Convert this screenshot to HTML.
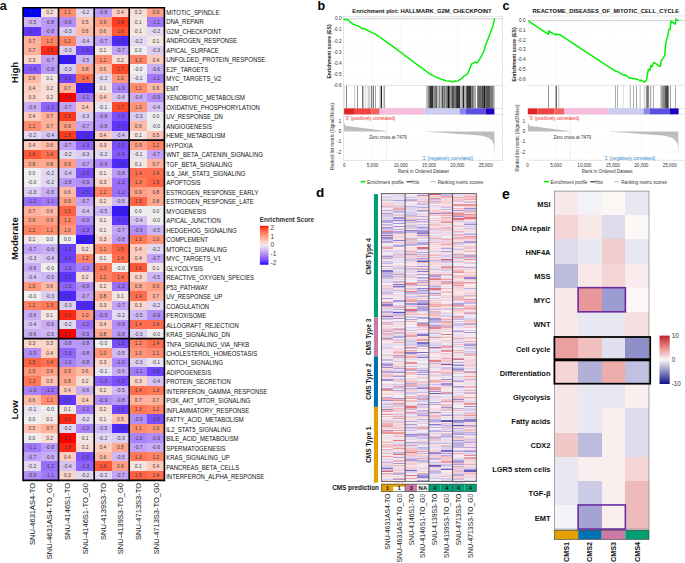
<!DOCTYPE html><html><head><meta charset="utf-8"><style>html,body{margin:0;padding:0;background:#fff;overflow:hidden}svg{display:block}</style></head><body><svg width="685" height="563" viewBox="0 0 685 563" font-family="'Liberation Sans', sans-serif">
<rect x="0" y="0" width="685" height="563" fill="#ffffff"/>
<g shape-rendering="crispEdges">
<rect x="23.07" y="7.75" width="18.03" height="9.75" fill="#0000ff"/>
<rect x="40.80" y="7.75" width="18.04" height="9.75" fill="#f7ddd6"/>
<rect x="58.54" y="7.75" width="17.82" height="9.75" fill="#ff8c6f"/>
<rect x="76.06" y="7.75" width="18.43" height="9.75" fill="#e2d8f1"/>
<rect x="94.19" y="7.75" width="17.81" height="9.75" fill="#ba99f8"/>
<rect x="111.70" y="7.75" width="17.80" height="9.75" fill="#feccbe"/>
<rect x="129.20" y="7.75" width="18.40" height="9.75" fill="#f7ddd6"/>
<rect x="147.30" y="7.75" width="17.40" height="9.75" fill="#ff9f85"/>
<rect x="23.07" y="17.20" width="18.03" height="9.75" fill="#cfb8f5"/>
<rect x="40.80" y="17.20" width="18.04" height="9.75" fill="#ba99f8"/>
<rect x="58.54" y="17.20" width="17.82" height="9.75" fill="#b38ef9"/>
<rect x="76.06" y="17.20" width="18.43" height="9.75" fill="#ffc3b3"/>
<rect x="94.19" y="17.20" width="17.81" height="9.75" fill="#ff9f85"/>
<rect x="111.70" y="17.20" width="17.80" height="9.75" fill="#ff3c20"/>
<rect x="129.20" y="17.20" width="18.40" height="9.75" fill="#f3e5e2"/>
<rect x="147.30" y="17.20" width="17.40" height="9.75" fill="#a279fa"/>
<rect x="23.07" y="26.66" width="18.03" height="9.75" fill="#5f36fe"/>
<rect x="40.80" y="26.66" width="18.04" height="9.75" fill="#ba99f8"/>
<rect x="58.54" y="26.66" width="17.82" height="9.75" fill="#dccef2"/>
<rect x="76.06" y="26.66" width="18.43" height="9.75" fill="#ffbaa7"/>
<rect x="94.19" y="26.66" width="17.81" height="9.75" fill="#ffbaa7"/>
<rect x="111.70" y="26.66" width="17.80" height="9.75" fill="#ff5837"/>
<rect x="129.20" y="26.66" width="18.40" height="9.75" fill="#f3e5e2"/>
<rect x="147.30" y="26.66" width="17.40" height="9.75" fill="#e2d8f1"/>
<rect x="23.07" y="36.11" width="18.03" height="9.75" fill="#ffb19c"/>
<rect x="40.80" y="36.11" width="18.04" height="9.75" fill="#ff8364"/>
<rect x="58.54" y="36.11" width="17.82" height="9.75" fill="#ff8364"/>
<rect x="76.06" y="36.11" width="18.43" height="9.75" fill="#d6c3f4"/>
<rect x="94.19" y="36.11" width="17.81" height="9.75" fill="#c2a3f7"/>
<rect x="111.70" y="36.11" width="17.80" height="9.75" fill="#4d29fe"/>
<rect x="129.20" y="36.11" width="18.40" height="9.75" fill="#e2d8f1"/>
<rect x="147.30" y="36.11" width="17.40" height="9.75" fill="#f3e5e2"/>
<rect x="23.07" y="45.56" width="18.03" height="9.75" fill="#ffb19c"/>
<rect x="40.80" y="45.56" width="18.04" height="9.75" fill="#ff2812"/>
<rect x="58.54" y="45.56" width="17.82" height="9.75" fill="#dccef2"/>
<rect x="76.06" y="45.56" width="18.43" height="9.75" fill="#6d42fd"/>
<rect x="94.19" y="45.56" width="17.81" height="9.75" fill="#f3e5e2"/>
<rect x="111.70" y="45.56" width="17.80" height="9.75" fill="#c2a3f7"/>
<rect x="129.20" y="45.56" width="18.40" height="9.75" fill="#eeeeee"/>
<rect x="147.30" y="45.56" width="17.40" height="9.75" fill="#dccef2"/>
<rect x="23.07" y="55.02" width="18.03" height="9.75" fill="#fbd4ca"/>
<rect x="40.80" y="55.02" width="18.04" height="9.75" fill="#c2a3f7"/>
<rect x="58.54" y="55.02" width="17.82" height="9.75" fill="#3619ff"/>
<rect x="76.06" y="55.02" width="18.43" height="9.75" fill="#cfb8f5"/>
<rect x="94.19" y="55.02" width="17.81" height="9.75" fill="#ff8c6f"/>
<rect x="111.70" y="55.02" width="17.80" height="9.75" fill="#f7ddd6"/>
<rect x="129.20" y="55.02" width="18.40" height="9.75" fill="#ff8364"/>
<rect x="147.30" y="55.02" width="17.40" height="9.75" fill="#feccbe"/>
<rect x="23.07" y="64.47" width="18.03" height="9.75" fill="#8559fc"/>
<rect x="40.80" y="64.47" width="18.04" height="9.75" fill="#ba99f8"/>
<rect x="58.54" y="64.47" width="17.82" height="9.75" fill="#dccef2"/>
<rect x="76.06" y="64.47" width="18.43" height="9.75" fill="#ffa890"/>
<rect x="94.19" y="64.47" width="17.81" height="9.75" fill="#ffbaa7"/>
<rect x="111.70" y="64.47" width="17.80" height="9.75" fill="#ff4b2c"/>
<rect x="129.20" y="64.47" width="18.40" height="9.75" fill="#eeeeee"/>
<rect x="147.30" y="64.47" width="17.40" height="9.75" fill="#c9aef6"/>
<rect x="23.07" y="73.92" width="18.03" height="9.75" fill="#ffbaa7"/>
<rect x="40.80" y="73.92" width="18.04" height="9.75" fill="#f3e5e2"/>
<rect x="58.54" y="73.92" width="17.82" height="9.75" fill="#6d42fd"/>
<rect x="76.06" y="73.92" width="18.43" height="9.75" fill="#ff6e4e"/>
<rect x="94.19" y="73.92" width="17.81" height="9.75" fill="#e2d8f1"/>
<rect x="111.70" y="73.92" width="17.80" height="9.75" fill="#ff967a"/>
<rect x="129.20" y="73.92" width="18.40" height="9.75" fill="#e8e3f0"/>
<rect x="147.30" y="73.92" width="17.40" height="9.75" fill="#a279fa"/>
<rect x="23.07" y="83.37" width="18.03" height="9.75" fill="#feccbe"/>
<rect x="40.80" y="83.37" width="18.04" height="9.75" fill="#f7ddd6"/>
<rect x="58.54" y="83.37" width="17.82" height="9.75" fill="#ffb19c"/>
<rect x="76.06" y="83.37" width="18.43" height="9.75" fill="#3619ff"/>
<rect x="94.19" y="83.37" width="17.81" height="9.75" fill="#f3e5e2"/>
<rect x="111.70" y="83.37" width="17.80" height="9.75" fill="#aa83fa"/>
<rect x="129.20" y="83.37" width="18.40" height="9.75" fill="#ff8c6f"/>
<rect x="147.30" y="83.37" width="17.40" height="9.75" fill="#ffbaa7"/>
<rect x="23.07" y="92.83" width="18.03" height="9.75" fill="#fbd4ca"/>
<rect x="40.80" y="92.83" width="18.04" height="9.75" fill="#f7ddd6"/>
<rect x="58.54" y="92.83" width="17.82" height="9.75" fill="#ff0000"/>
<rect x="76.06" y="92.83" width="18.43" height="9.75" fill="#a279fa"/>
<rect x="94.19" y="92.83" width="17.81" height="9.75" fill="#feccbe"/>
<rect x="111.70" y="92.83" width="17.80" height="9.75" fill="#d6c3f4"/>
<rect x="129.20" y="92.83" width="18.40" height="9.75" fill="#c9aef6"/>
<rect x="147.30" y="92.83" width="17.40" height="9.75" fill="#b38ef9"/>
<rect x="23.07" y="102.28" width="18.03" height="9.75" fill="#c9aef6"/>
<rect x="40.80" y="102.28" width="18.04" height="9.75" fill="#8f64fc"/>
<rect x="58.54" y="102.28" width="17.82" height="9.75" fill="#c2a3f7"/>
<rect x="76.06" y="102.28" width="18.43" height="9.75" fill="#feccbe"/>
<rect x="94.19" y="102.28" width="17.81" height="9.75" fill="#e8e3f0"/>
<rect x="111.70" y="102.28" width="17.80" height="9.75" fill="#ff4b2c"/>
<rect x="129.20" y="102.28" width="18.40" height="9.75" fill="#ff967a"/>
<rect x="147.30" y="102.28" width="17.40" height="9.75" fill="#d6c3f4"/>
<rect x="23.07" y="111.73" width="18.03" height="9.75" fill="#feccbe"/>
<rect x="40.80" y="111.73" width="18.04" height="9.75" fill="#ffb19c"/>
<rect x="58.54" y="111.73" width="17.82" height="9.75" fill="#ff3c20"/>
<rect x="76.06" y="111.73" width="18.43" height="9.75" fill="#dccef2"/>
<rect x="94.19" y="111.73" width="17.81" height="9.75" fill="#ba99f8"/>
<rect x="111.70" y="111.73" width="17.80" height="9.75" fill="#7a4efd"/>
<rect x="129.20" y="111.73" width="18.40" height="9.75" fill="#dccef2"/>
<rect x="147.30" y="111.73" width="17.40" height="9.75" fill="#eeeeee"/>
<rect x="23.07" y="121.19" width="18.03" height="9.75" fill="#ff8c6f"/>
<rect x="40.80" y="121.19" width="18.04" height="9.75" fill="#ffb19c"/>
<rect x="58.54" y="121.19" width="17.82" height="9.75" fill="#ff9f85"/>
<rect x="76.06" y="121.19" width="18.43" height="9.75" fill="#c2a3f7"/>
<rect x="94.19" y="121.19" width="17.81" height="9.75" fill="#ba99f8"/>
<rect x="111.70" y="121.19" width="17.80" height="9.75" fill="#5f36fe"/>
<rect x="129.20" y="121.19" width="18.40" height="9.75" fill="#ffbaa7"/>
<rect x="147.30" y="121.19" width="17.40" height="9.75" fill="#eeeeee"/>
<rect x="23.07" y="130.64" width="18.03" height="9.75" fill="#e2d8f1"/>
<rect x="40.80" y="130.64" width="18.04" height="9.75" fill="#d6c3f4"/>
<rect x="58.54" y="130.64" width="17.82" height="9.75" fill="#ff3c20"/>
<rect x="76.06" y="130.64" width="18.43" height="9.75" fill="#4d29fe"/>
<rect x="94.19" y="130.64" width="17.81" height="9.75" fill="#feccbe"/>
<rect x="111.70" y="130.64" width="17.80" height="9.75" fill="#d6c3f4"/>
<rect x="129.20" y="130.64" width="18.40" height="9.75" fill="#f3e5e2"/>
<rect x="147.30" y="130.64" width="17.40" height="9.75" fill="#ffc3b3"/>
<rect x="23.07" y="140.09" width="18.03" height="9.75" fill="#feccbe"/>
<rect x="40.80" y="140.09" width="18.04" height="9.75" fill="#ffbaa7"/>
<rect x="58.54" y="140.09" width="17.82" height="9.75" fill="#c2a3f7"/>
<rect x="76.06" y="140.09" width="18.43" height="9.75" fill="#8f64fc"/>
<rect x="94.19" y="140.09" width="17.81" height="9.75" fill="#fbd4ca"/>
<rect x="111.70" y="140.09" width="17.80" height="9.75" fill="#7a4efd"/>
<rect x="129.20" y="140.09" width="18.40" height="9.75" fill="#ff9f85"/>
<rect x="147.30" y="140.09" width="17.40" height="9.75" fill="#ff8364"/>
<rect x="23.07" y="149.54" width="18.03" height="9.75" fill="#ff5837"/>
<rect x="40.80" y="149.54" width="18.04" height="9.75" fill="#ff6e4e"/>
<rect x="58.54" y="149.54" width="17.82" height="9.75" fill="#e2d8f1"/>
<rect x="76.06" y="149.54" width="18.43" height="9.75" fill="#dccef2"/>
<rect x="94.19" y="149.54" width="17.81" height="9.75" fill="#e2d8f1"/>
<rect x="111.70" y="149.54" width="17.80" height="9.75" fill="#8559fc"/>
<rect x="129.20" y="149.54" width="18.40" height="9.75" fill="#e8e3f0"/>
<rect x="147.30" y="149.54" width="17.40" height="9.75" fill="#c2a3f7"/>
<rect x="23.07" y="159.00" width="18.03" height="9.75" fill="#ffa890"/>
<rect x="40.80" y="159.00" width="18.04" height="9.75" fill="#ffa890"/>
<rect x="58.54" y="159.00" width="17.82" height="9.75" fill="#ff9f85"/>
<rect x="76.06" y="159.00" width="18.43" height="9.75" fill="#c2a3f7"/>
<rect x="94.19" y="159.00" width="17.81" height="9.75" fill="#b38ef9"/>
<rect x="111.70" y="159.00" width="17.80" height="9.75" fill="#4d29fe"/>
<rect x="129.20" y="159.00" width="18.40" height="9.75" fill="#f3e5e2"/>
<rect x="147.30" y="159.00" width="17.40" height="9.75" fill="#ffb19c"/>
<rect x="23.07" y="168.45" width="18.03" height="9.75" fill="#eeeeee"/>
<rect x="40.80" y="168.45" width="18.04" height="9.75" fill="#e2d8f1"/>
<rect x="58.54" y="168.45" width="17.82" height="9.75" fill="#d6c3f4"/>
<rect x="76.06" y="168.45" width="18.43" height="9.75" fill="#7a4efd"/>
<rect x="94.19" y="168.45" width="17.81" height="9.75" fill="#f3e5e2"/>
<rect x="111.70" y="168.45" width="17.80" height="9.75" fill="#ba99f8"/>
<rect x="129.20" y="168.45" width="18.40" height="9.75" fill="#ff6e4e"/>
<rect x="147.30" y="168.45" width="17.40" height="9.75" fill="#ff6e4e"/>
<rect x="23.07" y="177.90" width="18.03" height="9.75" fill="#eeeeee"/>
<rect x="40.80" y="177.90" width="18.04" height="9.75" fill="#e2d8f1"/>
<rect x="58.54" y="177.90" width="17.82" height="9.75" fill="#ba99f8"/>
<rect x="76.06" y="177.90" width="18.43" height="9.75" fill="#b38ef9"/>
<rect x="94.19" y="177.90" width="17.81" height="9.75" fill="#fbd4ca"/>
<rect x="111.70" y="177.90" width="17.80" height="9.75" fill="#996efb"/>
<rect x="129.20" y="177.90" width="18.40" height="9.75" fill="#ff7959"/>
<rect x="147.30" y="177.90" width="17.40" height="9.75" fill="#ff6343"/>
<rect x="23.07" y="187.36" width="18.03" height="9.75" fill="#dccef2"/>
<rect x="40.80" y="187.36" width="18.04" height="9.75" fill="#c9aef6"/>
<rect x="58.54" y="187.36" width="17.82" height="9.75" fill="#ffbaa7"/>
<rect x="76.06" y="187.36" width="18.43" height="9.75" fill="#6d42fd"/>
<rect x="94.19" y="187.36" width="17.81" height="9.75" fill="#ff8364"/>
<rect x="111.70" y="187.36" width="17.80" height="9.75" fill="#996efb"/>
<rect x="129.20" y="187.36" width="18.40" height="9.75" fill="#ff9f85"/>
<rect x="147.30" y="187.36" width="17.40" height="9.75" fill="#ffa890"/>
<rect x="23.07" y="196.81" width="18.03" height="9.75" fill="#996efb"/>
<rect x="40.80" y="196.81" width="18.04" height="9.75" fill="#a279fa"/>
<rect x="58.54" y="196.81" width="17.82" height="9.75" fill="#ff9f85"/>
<rect x="76.06" y="196.81" width="18.43" height="9.75" fill="#c2a3f7"/>
<rect x="94.19" y="196.81" width="17.81" height="9.75" fill="#f7ddd6"/>
<rect x="111.70" y="196.81" width="17.80" height="9.75" fill="#cfb8f5"/>
<rect x="129.20" y="196.81" width="18.40" height="9.75" fill="#ff6343"/>
<rect x="147.30" y="196.81" width="17.40" height="9.75" fill="#ffa890"/>
<rect x="23.07" y="206.26" width="18.03" height="9.75" fill="#ffb19c"/>
<rect x="40.80" y="206.26" width="18.04" height="9.75" fill="#ffbaa7"/>
<rect x="58.54" y="206.26" width="17.82" height="9.75" fill="#ff6343"/>
<rect x="76.06" y="206.26" width="18.43" height="9.75" fill="#d6c3f4"/>
<rect x="94.19" y="206.26" width="17.81" height="9.75" fill="#cfb8f5"/>
<rect x="111.70" y="206.26" width="17.80" height="9.75" fill="#3619ff"/>
<rect x="129.20" y="206.26" width="18.40" height="9.75" fill="#eeeeee"/>
<rect x="147.30" y="206.26" width="17.40" height="9.75" fill="#eeeeee"/>
<rect x="23.07" y="215.72" width="18.03" height="9.75" fill="#ff9f85"/>
<rect x="40.80" y="215.72" width="18.04" height="9.75" fill="#ff9f85"/>
<rect x="58.54" y="215.72" width="17.82" height="9.75" fill="#ff8364"/>
<rect x="76.06" y="215.72" width="18.43" height="9.75" fill="#b38ef9"/>
<rect x="94.19" y="215.72" width="17.81" height="9.75" fill="#f3e5e2"/>
<rect x="111.70" y="215.72" width="17.80" height="9.75" fill="#5f36fe"/>
<rect x="129.20" y="215.72" width="18.40" height="9.75" fill="#d6c3f4"/>
<rect x="147.30" y="215.72" width="17.40" height="9.75" fill="#eeeeee"/>
<rect x="23.07" y="225.17" width="18.03" height="9.75" fill="#ff8364"/>
<rect x="40.80" y="225.17" width="18.04" height="9.75" fill="#ff8c6f"/>
<rect x="58.54" y="225.17" width="17.82" height="9.75" fill="#ff967a"/>
<rect x="76.06" y="225.17" width="18.43" height="9.75" fill="#8f64fc"/>
<rect x="94.19" y="225.17" width="17.81" height="9.75" fill="#f3e5e2"/>
<rect x="111.70" y="225.17" width="17.80" height="9.75" fill="#c2a3f7"/>
<rect x="129.20" y="225.17" width="18.40" height="9.75" fill="#b38ef9"/>
<rect x="147.30" y="225.17" width="17.40" height="9.75" fill="#cfb8f5"/>
<rect x="23.07" y="234.62" width="18.03" height="9.75" fill="#f3e5e2"/>
<rect x="40.80" y="234.62" width="18.04" height="9.75" fill="#eeeeee"/>
<rect x="58.54" y="234.62" width="17.82" height="9.75" fill="#eeeeee"/>
<rect x="76.06" y="234.62" width="18.43" height="9.75" fill="#3619ff"/>
<rect x="94.19" y="234.62" width="17.81" height="9.75" fill="#fbd4ca"/>
<rect x="111.70" y="234.62" width="17.80" height="9.75" fill="#ba99f8"/>
<rect x="129.20" y="234.62" width="18.40" height="9.75" fill="#ff7959"/>
<rect x="147.30" y="234.62" width="17.40" height="9.75" fill="#ff967a"/>
<rect x="23.07" y="244.07" width="18.03" height="9.75" fill="#c2a3f7"/>
<rect x="40.80" y="244.07" width="18.04" height="9.75" fill="#c9aef6"/>
<rect x="58.54" y="244.07" width="17.82" height="9.75" fill="#6d42fd"/>
<rect x="76.06" y="244.07" width="18.43" height="9.75" fill="#f7ddd6"/>
<rect x="94.19" y="244.07" width="17.81" height="9.75" fill="#ff8c6f"/>
<rect x="111.70" y="244.07" width="17.80" height="9.75" fill="#ff6343"/>
<rect x="129.20" y="244.07" width="18.40" height="9.75" fill="#feccbe"/>
<rect x="147.30" y="244.07" width="17.40" height="9.75" fill="#e2d8f1"/>
<rect x="23.07" y="253.53" width="18.03" height="9.75" fill="#dccef2"/>
<rect x="40.80" y="253.53" width="18.04" height="9.75" fill="#d6c3f4"/>
<rect x="58.54" y="253.53" width="17.82" height="9.75" fill="#6d42fd"/>
<rect x="76.06" y="253.53" width="18.43" height="9.75" fill="#ff8364"/>
<rect x="94.19" y="253.53" width="17.81" height="9.75" fill="#f3e5e2"/>
<rect x="111.70" y="253.53" width="17.80" height="9.75" fill="#ff6e4e"/>
<rect x="129.20" y="253.53" width="18.40" height="9.75" fill="#feccbe"/>
<rect x="147.30" y="253.53" width="17.40" height="9.75" fill="#c2a3f7"/>
<rect x="23.07" y="262.98" width="18.03" height="9.75" fill="#c9aef6"/>
<rect x="40.80" y="262.98" width="18.04" height="9.75" fill="#eeeeee"/>
<rect x="58.54" y="262.98" width="17.82" height="9.75" fill="#8f64fc"/>
<rect x="76.06" y="262.98" width="18.43" height="9.75" fill="#aa83fa"/>
<rect x="94.19" y="262.98" width="17.81" height="9.75" fill="#ff7959"/>
<rect x="111.70" y="262.98" width="17.80" height="9.75" fill="#eeeeee"/>
<rect x="129.20" y="262.98" width="18.40" height="9.75" fill="#ff5837"/>
<rect x="147.30" y="262.98" width="17.40" height="9.75" fill="#f3e5e2"/>
<rect x="23.07" y="272.43" width="18.03" height="9.75" fill="#d6c3f4"/>
<rect x="40.80" y="272.43" width="18.04" height="9.75" fill="#cfb8f5"/>
<rect x="58.54" y="272.43" width="17.82" height="9.75" fill="#5f36fe"/>
<rect x="76.06" y="272.43" width="18.43" height="9.75" fill="#f7ddd6"/>
<rect x="94.19" y="272.43" width="17.81" height="9.75" fill="#ff8364"/>
<rect x="111.70" y="272.43" width="17.80" height="9.75" fill="#ff6e4e"/>
<rect x="129.20" y="272.43" width="18.40" height="9.75" fill="#fbd4ca"/>
<rect x="147.30" y="272.43" width="17.40" height="9.75" fill="#cfb8f5"/>
<rect x="23.07" y="281.89" width="18.03" height="9.75" fill="#ff967a"/>
<rect x="40.80" y="281.89" width="18.04" height="9.75" fill="#ffbaa7"/>
<rect x="58.54" y="281.89" width="17.82" height="9.75" fill="#8f64fc"/>
<rect x="76.06" y="281.89" width="18.43" height="9.75" fill="#b38ef9"/>
<rect x="94.19" y="281.89" width="17.81" height="9.75" fill="#f7ddd6"/>
<rect x="111.70" y="281.89" width="17.80" height="9.75" fill="#996efb"/>
<rect x="129.20" y="281.89" width="18.40" height="9.75" fill="#ffa890"/>
<rect x="147.30" y="281.89" width="17.40" height="9.75" fill="#ff9f85"/>
<rect x="23.07" y="291.34" width="18.03" height="9.75" fill="#eeeeee"/>
<rect x="40.80" y="291.34" width="18.04" height="9.75" fill="#dccef2"/>
<rect x="58.54" y="291.34" width="17.82" height="9.75" fill="#4d29fe"/>
<rect x="76.06" y="291.34" width="18.43" height="9.75" fill="#c2a3f7"/>
<rect x="94.19" y="291.34" width="17.81" height="9.75" fill="#ffa890"/>
<rect x="111.70" y="291.34" width="17.80" height="9.75" fill="#f3e5e2"/>
<rect x="129.20" y="291.34" width="18.40" height="9.75" fill="#ff6e4e"/>
<rect x="147.30" y="291.34" width="17.40" height="9.75" fill="#ffb19c"/>
<rect x="23.07" y="300.79" width="18.03" height="9.75" fill="#ff8364"/>
<rect x="40.80" y="300.79" width="18.04" height="9.75" fill="#ff7959"/>
<rect x="58.54" y="300.79" width="17.82" height="9.75" fill="#dccef2"/>
<rect x="76.06" y="300.79" width="18.43" height="9.75" fill="#4d29fe"/>
<rect x="94.19" y="300.79" width="17.81" height="9.75" fill="#fbd4ca"/>
<rect x="111.70" y="300.79" width="17.80" height="9.75" fill="#c2a3f7"/>
<rect x="129.20" y="300.79" width="18.40" height="9.75" fill="#fbd4ca"/>
<rect x="147.30" y="300.79" width="17.40" height="9.75" fill="#e2d8f1"/>
<rect x="23.07" y="310.25" width="18.03" height="9.75" fill="#c9aef6"/>
<rect x="40.80" y="310.25" width="18.04" height="9.75" fill="#f3e5e2"/>
<rect x="58.54" y="310.25" width="17.82" height="9.75" fill="#ff2812"/>
<rect x="76.06" y="310.25" width="18.43" height="9.75" fill="#ff967a"/>
<rect x="94.19" y="310.25" width="17.81" height="9.75" fill="#b38ef9"/>
<rect x="111.70" y="310.25" width="17.80" height="9.75" fill="#e2d8f1"/>
<rect x="129.20" y="310.25" width="18.40" height="9.75" fill="#cfb8f5"/>
<rect x="147.30" y="310.25" width="17.40" height="9.75" fill="#b38ef9"/>
<rect x="23.07" y="319.70" width="18.03" height="9.75" fill="#d6c3f4"/>
<rect x="40.80" y="319.70" width="18.04" height="9.75" fill="#c9aef6"/>
<rect x="58.54" y="319.70" width="17.82" height="9.75" fill="#e2d8f1"/>
<rect x="76.06" y="319.70" width="18.43" height="9.75" fill="#996efb"/>
<rect x="94.19" y="319.70" width="17.81" height="9.75" fill="#feccbe"/>
<rect x="111.70" y="319.70" width="17.80" height="9.75" fill="#b38ef9"/>
<rect x="129.20" y="319.70" width="18.40" height="9.75" fill="#ff6e4e"/>
<rect x="147.30" y="319.70" width="17.40" height="9.75" fill="#ff6e4e"/>
<rect x="23.07" y="329.15" width="18.03" height="9.75" fill="#c9aef6"/>
<rect x="40.80" y="329.15" width="18.04" height="9.75" fill="#cfb8f5"/>
<rect x="58.54" y="329.15" width="17.82" height="9.75" fill="#ff0000"/>
<rect x="76.06" y="329.15" width="18.43" height="9.75" fill="#b38ef9"/>
<rect x="94.19" y="329.15" width="17.81" height="9.75" fill="#ffa890"/>
<rect x="111.70" y="329.15" width="17.80" height="9.75" fill="#ba99f8"/>
<rect x="129.20" y="329.15" width="18.40" height="9.75" fill="#dccef2"/>
<rect x="147.30" y="329.15" width="17.40" height="9.75" fill="#eeeeee"/>
<rect x="23.07" y="338.60" width="18.03" height="9.75" fill="#fbd4ca"/>
<rect x="40.80" y="338.60" width="18.04" height="9.75" fill="#fbd4ca"/>
<rect x="58.54" y="338.60" width="17.82" height="9.75" fill="#ba99f8"/>
<rect x="76.06" y="338.60" width="18.43" height="9.75" fill="#ba99f8"/>
<rect x="94.19" y="338.60" width="17.81" height="9.75" fill="#eeeeee"/>
<rect x="111.70" y="338.60" width="17.80" height="9.75" fill="#7a4efd"/>
<rect x="129.20" y="338.60" width="18.40" height="9.75" fill="#ff8364"/>
<rect x="147.30" y="338.60" width="17.40" height="9.75" fill="#ff6e4e"/>
<rect x="23.07" y="348.06" width="18.03" height="9.75" fill="#b38ef9"/>
<rect x="40.80" y="348.06" width="18.04" height="9.75" fill="#feccbe"/>
<rect x="58.54" y="348.06" width="17.82" height="9.75" fill="#8f64fc"/>
<rect x="76.06" y="348.06" width="18.43" height="9.75" fill="#ba99f8"/>
<rect x="94.19" y="348.06" width="17.81" height="9.75" fill="#ff967a"/>
<rect x="111.70" y="348.06" width="17.80" height="9.75" fill="#cfb8f5"/>
<rect x="129.20" y="348.06" width="18.40" height="9.75" fill="#ff967a"/>
<rect x="147.30" y="348.06" width="17.40" height="9.75" fill="#ff8c6f"/>
<rect x="23.07" y="357.51" width="18.03" height="9.75" fill="#ff6343"/>
<rect x="40.80" y="357.51" width="18.04" height="9.75" fill="#ff6e4e"/>
<rect x="58.54" y="357.51" width="17.82" height="9.75" fill="#aa83fa"/>
<rect x="76.06" y="357.51" width="18.43" height="9.75" fill="#ba99f8"/>
<rect x="94.19" y="357.51" width="17.81" height="9.75" fill="#fbd4ca"/>
<rect x="111.70" y="357.51" width="17.80" height="9.75" fill="#aa83fa"/>
<rect x="129.20" y="357.51" width="18.40" height="9.75" fill="#dccef2"/>
<rect x="147.30" y="357.51" width="17.40" height="9.75" fill="#e8e3f0"/>
<rect x="23.07" y="366.96" width="18.03" height="9.75" fill="#ff967a"/>
<rect x="40.80" y="366.96" width="18.04" height="9.75" fill="#ff9f85"/>
<rect x="58.54" y="366.96" width="17.82" height="9.75" fill="#ff9f85"/>
<rect x="76.06" y="366.96" width="18.43" height="9.75" fill="#ffbaa7"/>
<rect x="94.19" y="366.96" width="17.81" height="9.75" fill="#e8e3f0"/>
<rect x="111.70" y="366.96" width="17.80" height="9.75" fill="#c9aef6"/>
<rect x="129.20" y="366.96" width="18.40" height="9.75" fill="#a279fa"/>
<rect x="147.30" y="366.96" width="17.40" height="9.75" fill="#6d42fd"/>
<rect x="23.07" y="376.42" width="18.03" height="9.75" fill="#ff7959"/>
<rect x="40.80" y="376.42" width="18.04" height="9.75" fill="#ffc3b3"/>
<rect x="58.54" y="376.42" width="17.82" height="9.75" fill="#ffa890"/>
<rect x="76.06" y="376.42" width="18.43" height="9.75" fill="#f7ddd6"/>
<rect x="94.19" y="376.42" width="17.81" height="9.75" fill="#8f64fc"/>
<rect x="111.70" y="376.42" width="17.80" height="9.75" fill="#7a4efd"/>
<rect x="129.20" y="376.42" width="18.40" height="9.75" fill="#fbd4ca"/>
<rect x="147.30" y="376.42" width="17.40" height="9.75" fill="#d6c3f4"/>
<rect x="23.07" y="385.87" width="18.03" height="9.75" fill="#aa83fa"/>
<rect x="40.80" y="385.87" width="18.04" height="9.75" fill="#996efb"/>
<rect x="58.54" y="385.87" width="17.82" height="9.75" fill="#feccbe"/>
<rect x="76.06" y="385.87" width="18.43" height="9.75" fill="#c9aef6"/>
<rect x="94.19" y="385.87" width="17.81" height="9.75" fill="#f7ddd6"/>
<rect x="111.70" y="385.87" width="17.80" height="9.75" fill="#cfb8f5"/>
<rect x="129.20" y="385.87" width="18.40" height="9.75" fill="#ff6e4e"/>
<rect x="147.30" y="385.87" width="17.40" height="9.75" fill="#ff7959"/>
<rect x="23.07" y="395.32" width="18.03" height="9.75" fill="#ffbaa7"/>
<rect x="40.80" y="395.32" width="18.04" height="9.75" fill="#ff8c6f"/>
<rect x="58.54" y="395.32" width="17.82" height="9.75" fill="#5f36fe"/>
<rect x="76.06" y="395.32" width="18.43" height="9.75" fill="#feccbe"/>
<rect x="94.19" y="395.32" width="17.81" height="9.75" fill="#b38ef9"/>
<rect x="111.70" y="395.32" width="17.80" height="9.75" fill="#ba99f8"/>
<rect x="129.20" y="395.32" width="18.40" height="9.75" fill="#ffb19c"/>
<rect x="147.30" y="395.32" width="17.40" height="9.75" fill="#ffb19c"/>
<rect x="23.07" y="404.78" width="18.03" height="9.75" fill="#e8e3f0"/>
<rect x="40.80" y="404.78" width="18.04" height="9.75" fill="#eeeeee"/>
<rect x="58.54" y="404.78" width="17.82" height="9.75" fill="#f3e5e2"/>
<rect x="76.06" y="404.78" width="18.43" height="9.75" fill="#a279fa"/>
<rect x="94.19" y="404.78" width="17.81" height="9.75" fill="#f7ddd6"/>
<rect x="111.70" y="404.78" width="17.80" height="9.75" fill="#6d42fd"/>
<rect x="129.20" y="404.78" width="18.40" height="9.75" fill="#ff7959"/>
<rect x="147.30" y="404.78" width="17.40" height="9.75" fill="#ff8364"/>
<rect x="23.07" y="414.23" width="18.03" height="9.75" fill="#eeeeee"/>
<rect x="40.80" y="414.23" width="18.04" height="9.75" fill="#f3e5e2"/>
<rect x="58.54" y="414.23" width="17.82" height="9.75" fill="#ff2812"/>
<rect x="76.06" y="414.23" width="18.43" height="9.75" fill="#e2d8f1"/>
<rect x="94.19" y="414.23" width="17.81" height="9.75" fill="#f3e5e2"/>
<rect x="111.70" y="414.23" width="17.80" height="9.75" fill="#ffc3b3"/>
<rect x="129.20" y="414.23" width="18.40" height="9.75" fill="#b38ef9"/>
<rect x="147.30" y="414.23" width="17.40" height="9.75" fill="#7a4efd"/>
<rect x="23.07" y="423.68" width="18.03" height="9.75" fill="#ffc3b3"/>
<rect x="40.80" y="423.68" width="18.04" height="9.75" fill="#ffb19c"/>
<rect x="58.54" y="423.68" width="17.82" height="9.75" fill="#e2d8f1"/>
<rect x="76.06" y="423.68" width="18.43" height="9.75" fill="#aa83fa"/>
<rect x="94.19" y="423.68" width="17.81" height="9.75" fill="#cfb8f5"/>
<rect x="111.70" y="423.68" width="17.80" height="9.75" fill="#4d29fe"/>
<rect x="129.20" y="423.68" width="18.40" height="9.75" fill="#ff8c6f"/>
<rect x="147.30" y="423.68" width="17.40" height="9.75" fill="#ff967a"/>
<rect x="23.07" y="433.13" width="18.03" height="9.75" fill="#eeeeee"/>
<rect x="40.80" y="433.13" width="18.04" height="9.75" fill="#f7ddd6"/>
<rect x="58.54" y="433.13" width="17.82" height="9.75" fill="#ff0000"/>
<rect x="76.06" y="433.13" width="18.43" height="9.75" fill="#f3e5e2"/>
<rect x="94.19" y="433.13" width="17.81" height="9.75" fill="#e2d8f1"/>
<rect x="111.70" y="433.13" width="17.80" height="9.75" fill="#dccef2"/>
<rect x="129.20" y="433.13" width="18.40" height="9.75" fill="#aa83fa"/>
<rect x="147.30" y="433.13" width="17.40" height="9.75" fill="#b38ef9"/>
<rect x="23.07" y="442.59" width="18.03" height="9.75" fill="#a279fa"/>
<rect x="40.80" y="442.59" width="18.04" height="9.75" fill="#ba99f8"/>
<rect x="58.54" y="442.59" width="17.82" height="9.75" fill="#ff2812"/>
<rect x="76.06" y="442.59" width="18.43" height="9.75" fill="#f7ddd6"/>
<rect x="94.19" y="442.59" width="17.81" height="9.75" fill="#feccbe"/>
<rect x="111.70" y="442.59" width="17.80" height="9.75" fill="#ffa890"/>
<rect x="129.20" y="442.59" width="18.40" height="9.75" fill="#c2a3f7"/>
<rect x="147.30" y="442.59" width="17.40" height="9.75" fill="#c9aef6"/>
<rect x="23.07" y="452.04" width="18.03" height="9.75" fill="#c2a3f7"/>
<rect x="40.80" y="452.04" width="18.04" height="9.75" fill="#c9aef6"/>
<rect x="58.54" y="452.04" width="17.82" height="9.75" fill="#feccbe"/>
<rect x="76.06" y="452.04" width="18.43" height="9.75" fill="#7a4efd"/>
<rect x="94.19" y="452.04" width="17.81" height="9.75" fill="#ffbaa7"/>
<rect x="111.70" y="452.04" width="17.80" height="9.75" fill="#cfb8f5"/>
<rect x="129.20" y="452.04" width="18.40" height="9.75" fill="#ff7959"/>
<rect x="147.30" y="452.04" width="17.40" height="9.75" fill="#ff8364"/>
<rect x="23.07" y="461.49" width="18.03" height="9.75" fill="#e2d8f1"/>
<rect x="40.80" y="461.49" width="18.04" height="9.75" fill="#996efb"/>
<rect x="58.54" y="461.49" width="17.82" height="9.75" fill="#d6c3f4"/>
<rect x="76.06" y="461.49" width="18.43" height="9.75" fill="#8f64fc"/>
<rect x="94.19" y="461.49" width="17.81" height="9.75" fill="#ff5837"/>
<rect x="111.70" y="461.49" width="17.80" height="9.75" fill="#ff9f85"/>
<rect x="129.20" y="461.49" width="18.40" height="9.75" fill="#f3e5e2"/>
<rect x="147.30" y="461.49" width="17.40" height="9.75" fill="#feccbe"/>
<rect x="23.07" y="470.95" width="18.03" height="9.75" fill="#b38ef9"/>
<rect x="40.80" y="470.95" width="18.04" height="9.75" fill="#a279fa"/>
<rect x="58.54" y="470.95" width="17.82" height="9.75" fill="#fbd4ca"/>
<rect x="76.06" y="470.95" width="18.43" height="9.75" fill="#e2d8f1"/>
<rect x="94.19" y="470.95" width="17.81" height="9.75" fill="#e2d8f1"/>
<rect x="111.70" y="470.95" width="17.80" height="9.75" fill="#c2a3f7"/>
<rect x="129.20" y="470.95" width="18.40" height="9.75" fill="#ff6343"/>
<rect x="147.30" y="470.95" width="17.40" height="9.75" fill="#ff6e4e"/>
</g>
<g font-size="4.9" fill="#3a3a3a" text-anchor="middle">
<text x="31.93" y="14.28">-2.1</text>
<text x="49.67" y="14.28">0.2</text>
<text x="67.30" y="14.28">1.1</text>
<text x="85.12" y="14.28">-0.2</text>
<text x="102.94" y="14.28">-0.8</text>
<text x="120.45" y="14.28">0.4</text>
<text x="138.25" y="14.28">0.2</text>
<text x="155.85" y="14.28">0.9</text>
<text x="31.93" y="23.73">-0.5</text>
<text x="49.67" y="23.73">-0.8</text>
<text x="67.30" y="23.73">-0.9</text>
<text x="85.12" y="23.73">0.5</text>
<text x="102.94" y="23.73">0.9</text>
<text x="120.45" y="23.73">1.8</text>
<text x="138.25" y="23.73">0.1</text>
<text x="155.85" y="23.73">-1.1</text>
<text x="31.93" y="33.18">-1.7</text>
<text x="49.67" y="33.18">-0.8</text>
<text x="67.30" y="33.18">-0.3</text>
<text x="85.12" y="33.18">0.6</text>
<text x="102.94" y="33.18">0.6</text>
<text x="120.45" y="33.18">1.6</text>
<text x="138.25" y="33.18">0.1</text>
<text x="155.85" y="33.18">-0.2</text>
<text x="31.93" y="42.64">0.7</text>
<text x="49.67" y="42.64">1.2</text>
<text x="67.30" y="42.64">1.2</text>
<text x="85.12" y="42.64">-0.4</text>
<text x="102.94" y="42.64">-0.7</text>
<text x="120.45" y="42.64">-1.8</text>
<text x="138.25" y="42.64">-0.2</text>
<text x="155.85" y="42.64">0.1</text>
<text x="31.93" y="52.09">0.7</text>
<text x="49.67" y="52.09">1.9</text>
<text x="67.30" y="52.09">-0.3</text>
<text x="85.12" y="52.09">-1.6</text>
<text x="102.94" y="52.09">0.1</text>
<text x="120.45" y="52.09">-0.7</text>
<text x="138.25" y="52.09">0.0</text>
<text x="155.85" y="52.09">-0.3</text>
<text x="31.93" y="61.54">0.3</text>
<text x="49.67" y="61.54">-0.7</text>
<text x="67.30" y="61.54">-1.9</text>
<text x="85.12" y="61.54">-0.5</text>
<text x="102.94" y="61.54">1.1</text>
<text x="120.45" y="61.54">0.2</text>
<text x="138.25" y="61.54">1.2</text>
<text x="155.85" y="61.54">0.4</text>
<text x="31.93" y="70.99">-1.4</text>
<text x="49.67" y="70.99">-0.8</text>
<text x="67.30" y="70.99">-0.3</text>
<text x="85.12" y="70.99">0.8</text>
<text x="102.94" y="70.99">0.6</text>
<text x="120.45" y="70.99">1.7</text>
<text x="138.25" y="70.99">-0.0</text>
<text x="155.85" y="70.99">-0.6</text>
<text x="31.93" y="80.45">0.6</text>
<text x="49.67" y="80.45">0.1</text>
<text x="67.30" y="80.45">-1.6</text>
<text x="85.12" y="80.45">1.4</text>
<text x="102.94" y="80.45">-0.2</text>
<text x="120.45" y="80.45">1.0</text>
<text x="138.25" y="80.45">-0.1</text>
<text x="155.85" y="80.45">-1.1</text>
<text x="31.93" y="89.90">0.4</text>
<text x="49.67" y="89.90">0.2</text>
<text x="67.30" y="89.90">0.7</text>
<text x="85.12" y="89.90">-1.9</text>
<text x="102.94" y="89.90">0.1</text>
<text x="120.45" y="89.90">-1.0</text>
<text x="138.25" y="89.90">1.1</text>
<text x="155.85" y="89.90">0.6</text>
<text x="31.93" y="99.35">0.3</text>
<text x="49.67" y="99.35">0.2</text>
<text x="67.30" y="99.35">2.0</text>
<text x="85.12" y="99.35">-1.1</text>
<text x="102.94" y="99.35">0.4</text>
<text x="120.45" y="99.35">-0.4</text>
<text x="138.25" y="99.35">-0.6</text>
<text x="155.85" y="99.35">-0.9</text>
<text x="31.93" y="108.81">-0.6</text>
<text x="49.67" y="108.81">-1.3</text>
<text x="67.30" y="108.81">-0.7</text>
<text x="85.12" y="108.81">0.4</text>
<text x="102.94" y="108.81">-0.1</text>
<text x="120.45" y="108.81">1.7</text>
<text x="138.25" y="108.81">1.0</text>
<text x="155.85" y="108.81">-0.4</text>
<text x="31.93" y="118.26">0.4</text>
<text x="49.67" y="118.26">0.7</text>
<text x="67.30" y="118.26">1.8</text>
<text x="85.12" y="118.26">-0.3</text>
<text x="102.94" y="118.26">-0.8</text>
<text x="120.45" y="118.26">-1.5</text>
<text x="138.25" y="118.26">-0.3</text>
<text x="155.85" y="118.26">0.0</text>
<text x="31.93" y="127.71">1.1</text>
<text x="49.67" y="127.71">0.7</text>
<text x="67.30" y="127.71">0.9</text>
<text x="85.12" y="127.71">-0.7</text>
<text x="102.94" y="127.71">-0.8</text>
<text x="120.45" y="127.71">-1.7</text>
<text x="138.25" y="127.71">0.6</text>
<text x="155.85" y="127.71">-0.0</text>
<text x="31.93" y="137.17">-0.2</text>
<text x="49.67" y="137.17">-0.4</text>
<text x="67.30" y="137.17">1.8</text>
<text x="85.12" y="137.17">-1.8</text>
<text x="102.94" y="137.17">0.4</text>
<text x="120.45" y="137.17">-0.4</text>
<text x="138.25" y="137.17">0.1</text>
<text x="155.85" y="137.17">0.5</text>
<text x="31.93" y="146.62">0.4</text>
<text x="49.67" y="146.62">0.6</text>
<text x="67.30" y="146.62">-0.7</text>
<text x="85.12" y="146.62">-1.3</text>
<text x="102.94" y="146.62">0.3</text>
<text x="120.45" y="146.62">-1.5</text>
<text x="138.25" y="146.62">0.9</text>
<text x="155.85" y="146.62">1.2</text>
<text x="31.93" y="156.07">1.6</text>
<text x="49.67" y="156.07">1.4</text>
<text x="67.30" y="156.07">-0.2</text>
<text x="85.12" y="156.07">-0.3</text>
<text x="102.94" y="156.07">-0.2</text>
<text x="120.45" y="156.07">-1.4</text>
<text x="138.25" y="156.07">-0.1</text>
<text x="155.85" y="156.07">-0.7</text>
<text x="31.93" y="165.52">0.8</text>
<text x="49.67" y="165.52">0.8</text>
<text x="67.30" y="165.52">0.9</text>
<text x="85.12" y="165.52">-0.7</text>
<text x="102.94" y="165.52">-0.9</text>
<text x="120.45" y="165.52">-1.8</text>
<text x="138.25" y="165.52">0.1</text>
<text x="155.85" y="165.52">0.7</text>
<text x="31.93" y="174.98">0.0</text>
<text x="49.67" y="174.98">-0.2</text>
<text x="67.30" y="174.98">-0.4</text>
<text x="85.12" y="174.98">-1.5</text>
<text x="102.94" y="174.98">0.1</text>
<text x="120.45" y="174.98">-0.8</text>
<text x="138.25" y="174.98">1.4</text>
<text x="155.85" y="174.98">1.4</text>
<text x="31.93" y="184.43">-0.0</text>
<text x="49.67" y="184.43">-0.2</text>
<text x="67.30" y="184.43">-0.8</text>
<text x="85.12" y="184.43">-0.9</text>
<text x="102.94" y="184.43">0.3</text>
<text x="120.45" y="184.43">-1.2</text>
<text x="138.25" y="184.43">1.3</text>
<text x="155.85" y="184.43">1.5</text>
<text x="31.93" y="193.88">-0.3</text>
<text x="49.67" y="193.88">-0.6</text>
<text x="67.30" y="193.88">0.6</text>
<text x="85.12" y="193.88">-1.6</text>
<text x="102.94" y="193.88">1.2</text>
<text x="120.45" y="193.88">-1.2</text>
<text x="138.25" y="193.88">0.9</text>
<text x="155.85" y="193.88">0.8</text>
<text x="31.93" y="203.34">-1.2</text>
<text x="49.67" y="203.34">-1.1</text>
<text x="67.30" y="203.34">0.9</text>
<text x="85.12" y="203.34">-0.7</text>
<text x="102.94" y="203.34">0.2</text>
<text x="120.45" y="203.34">-0.5</text>
<text x="138.25" y="203.34">1.5</text>
<text x="155.85" y="203.34">0.8</text>
<text x="31.93" y="212.79">0.7</text>
<text x="49.67" y="212.79">0.6</text>
<text x="67.30" y="212.79">1.5</text>
<text x="85.12" y="212.79">-0.4</text>
<text x="102.94" y="212.79">-0.5</text>
<text x="120.45" y="212.79">-1.9</text>
<text x="138.25" y="212.79">0.0</text>
<text x="155.85" y="212.79">0.0</text>
<text x="31.93" y="222.24">0.9</text>
<text x="49.67" y="222.24">0.9</text>
<text x="67.30" y="222.24">1.2</text>
<text x="85.12" y="222.24">-0.9</text>
<text x="102.94" y="222.24">0.1</text>
<text x="120.45" y="222.24">-1.7</text>
<text x="138.25" y="222.24">-0.4</text>
<text x="155.85" y="222.24">-0.0</text>
<text x="31.93" y="231.70">1.2</text>
<text x="49.67" y="231.70">1.1</text>
<text x="67.30" y="231.70">1.0</text>
<text x="85.12" y="231.70">-1.3</text>
<text x="102.94" y="231.70">0.1</text>
<text x="120.45" y="231.70">-0.7</text>
<text x="138.25" y="231.70">-0.9</text>
<text x="155.85" y="231.70">-0.5</text>
<text x="31.93" y="241.15">0.1</text>
<text x="49.67" y="241.15">0.0</text>
<text x="67.30" y="241.15">0.0</text>
<text x="85.12" y="241.15">-1.9</text>
<text x="102.94" y="241.15">0.3</text>
<text x="120.45" y="241.15">-0.8</text>
<text x="138.25" y="241.15">1.3</text>
<text x="155.85" y="241.15">1.0</text>
<text x="31.93" y="250.60">-0.7</text>
<text x="49.67" y="250.60">-0.6</text>
<text x="67.30" y="250.60">-1.6</text>
<text x="85.12" y="250.60">0.2</text>
<text x="102.94" y="250.60">1.1</text>
<text x="120.45" y="250.60">1.5</text>
<text x="138.25" y="250.60">0.4</text>
<text x="155.85" y="250.60">-0.2</text>
<text x="31.93" y="260.05">-0.3</text>
<text x="49.67" y="260.05">-0.4</text>
<text x="67.30" y="260.05">-1.6</text>
<text x="85.12" y="260.05">1.2</text>
<text x="102.94" y="260.05">0.1</text>
<text x="120.45" y="260.05">1.4</text>
<text x="138.25" y="260.05">0.4</text>
<text x="155.85" y="260.05">-0.7</text>
<text x="31.93" y="269.51">-0.6</text>
<text x="49.67" y="269.51">-0.0</text>
<text x="67.30" y="269.51">-1.3</text>
<text x="85.12" y="269.51">-1.0</text>
<text x="102.94" y="269.51">1.3</text>
<text x="120.45" y="269.51">-0.0</text>
<text x="138.25" y="269.51">1.6</text>
<text x="155.85" y="269.51">0.1</text>
<text x="31.93" y="278.96">-0.4</text>
<text x="49.67" y="278.96">-0.5</text>
<text x="67.30" y="278.96">-1.7</text>
<text x="85.12" y="278.96">0.2</text>
<text x="102.94" y="278.96">1.2</text>
<text x="120.45" y="278.96">1.4</text>
<text x="138.25" y="278.96">0.3</text>
<text x="155.85" y="278.96">-0.5</text>
<text x="31.93" y="288.41">1.0</text>
<text x="49.67" y="288.41">0.6</text>
<text x="67.30" y="288.41">-1.3</text>
<text x="85.12" y="288.41">-0.9</text>
<text x="102.94" y="288.41">0.2</text>
<text x="120.45" y="288.41">-1.2</text>
<text x="138.25" y="288.41">0.8</text>
<text x="155.85" y="288.41">0.9</text>
<text x="31.93" y="297.87">-0.0</text>
<text x="49.67" y="297.87">-0.3</text>
<text x="67.30" y="297.87">-1.8</text>
<text x="85.12" y="297.87">-0.7</text>
<text x="102.94" y="297.87">0.8</text>
<text x="120.45" y="297.87">0.1</text>
<text x="138.25" y="297.87">1.4</text>
<text x="155.85" y="297.87">0.7</text>
<text x="31.93" y="307.32">1.2</text>
<text x="49.67" y="307.32">1.3</text>
<text x="67.30" y="307.32">-0.3</text>
<text x="85.12" y="307.32">-1.8</text>
<text x="102.94" y="307.32">0.3</text>
<text x="120.45" y="307.32">-0.7</text>
<text x="138.25" y="307.32">0.3</text>
<text x="155.85" y="307.32">-0.2</text>
<text x="31.93" y="316.77">-0.6</text>
<text x="49.67" y="316.77">0.1</text>
<text x="67.30" y="316.77">1.9</text>
<text x="85.12" y="316.77">1.0</text>
<text x="102.94" y="316.77">-0.9</text>
<text x="120.45" y="316.77">-0.2</text>
<text x="138.25" y="316.77">-0.5</text>
<text x="155.85" y="316.77">-0.9</text>
<text x="31.93" y="326.23">-0.4</text>
<text x="49.67" y="326.23">-0.6</text>
<text x="67.30" y="326.23">-0.2</text>
<text x="85.12" y="326.23">-1.2</text>
<text x="102.94" y="326.23">0.4</text>
<text x="120.45" y="326.23">-0.9</text>
<text x="138.25" y="326.23">1.4</text>
<text x="155.85" y="326.23">1.4</text>
<text x="31.93" y="335.68">-0.6</text>
<text x="49.67" y="335.68">-0.5</text>
<text x="67.30" y="335.68">2.1</text>
<text x="85.12" y="335.68">-0.9</text>
<text x="102.94" y="335.68">0.8</text>
<text x="120.45" y="335.68">-0.8</text>
<text x="138.25" y="335.68">-0.3</text>
<text x="155.85" y="335.68">-0.0</text>
<text x="31.93" y="345.13">0.3</text>
<text x="49.67" y="345.13">0.3</text>
<text x="67.30" y="345.13">-0.8</text>
<text x="85.12" y="345.13">-0.8</text>
<text x="102.94" y="345.13">-0.0</text>
<text x="120.45" y="345.13">-1.5</text>
<text x="138.25" y="345.13">1.2</text>
<text x="155.85" y="345.13">1.4</text>
<text x="31.93" y="354.58">-0.9</text>
<text x="49.67" y="354.58">0.4</text>
<text x="67.30" y="354.58">-1.3</text>
<text x="85.12" y="354.58">-0.8</text>
<text x="102.94" y="354.58">1.0</text>
<text x="120.45" y="354.58">-0.5</text>
<text x="138.25" y="354.58">1.0</text>
<text x="155.85" y="354.58">1.1</text>
<text x="31.93" y="364.04">1.5</text>
<text x="49.67" y="364.04">1.4</text>
<text x="67.30" y="364.04">-1.0</text>
<text x="85.12" y="364.04">-0.8</text>
<text x="102.94" y="364.04">0.3</text>
<text x="120.45" y="364.04">-1.0</text>
<text x="138.25" y="364.04">-0.3</text>
<text x="155.85" y="364.04">-0.1</text>
<text x="31.93" y="373.49">1.0</text>
<text x="49.67" y="373.49">0.9</text>
<text x="67.30" y="373.49">0.9</text>
<text x="85.12" y="373.49">0.6</text>
<text x="102.94" y="373.49">-0.1</text>
<text x="120.45" y="373.49">-0.6</text>
<text x="138.25" y="373.49">-1.1</text>
<text x="155.85" y="373.49">-1.6</text>
<text x="31.93" y="382.94">1.3</text>
<text x="49.67" y="382.94">0.5</text>
<text x="67.30" y="382.94">0.8</text>
<text x="85.12" y="382.94">0.2</text>
<text x="102.94" y="382.94">-1.3</text>
<text x="120.45" y="382.94">-1.5</text>
<text x="138.25" y="382.94">0.3</text>
<text x="155.85" y="382.94">-0.4</text>
<text x="31.93" y="392.40">-1.0</text>
<text x="49.67" y="392.40">-1.2</text>
<text x="67.30" y="392.40">0.4</text>
<text x="85.12" y="392.40">-0.6</text>
<text x="102.94" y="392.40">0.2</text>
<text x="120.45" y="392.40">-0.5</text>
<text x="138.25" y="392.40">1.4</text>
<text x="155.85" y="392.40">1.3</text>
<text x="31.93" y="401.85">0.6</text>
<text x="49.67" y="401.85">1.1</text>
<text x="67.30" y="401.85">-1.7</text>
<text x="85.12" y="401.85">0.4</text>
<text x="102.94" y="401.85">-0.9</text>
<text x="120.45" y="401.85">-0.8</text>
<text x="138.25" y="401.85">0.7</text>
<text x="155.85" y="401.85">0.7</text>
<text x="31.93" y="411.30">-0.1</text>
<text x="49.67" y="411.30">-0.0</text>
<text x="67.30" y="411.30">0.1</text>
<text x="85.12" y="411.30">-1.1</text>
<text x="102.94" y="411.30">0.2</text>
<text x="120.45" y="411.30">-1.6</text>
<text x="138.25" y="411.30">1.3</text>
<text x="155.85" y="411.30">1.2</text>
<text x="31.93" y="420.76">0.0</text>
<text x="49.67" y="420.76">0.1</text>
<text x="67.30" y="420.76">1.9</text>
<text x="85.12" y="420.76">-0.2</text>
<text x="102.94" y="420.76">0.1</text>
<text x="120.45" y="420.76">0.5</text>
<text x="138.25" y="420.76">-0.9</text>
<text x="155.85" y="420.76">-1.5</text>
<text x="31.93" y="430.21">0.5</text>
<text x="49.67" y="430.21">0.7</text>
<text x="67.30" y="430.21">-0.2</text>
<text x="85.12" y="430.21">-1.0</text>
<text x="102.94" y="430.21">-0.5</text>
<text x="120.45" y="430.21">-1.8</text>
<text x="138.25" y="430.21">1.1</text>
<text x="155.85" y="430.21">1.0</text>
<text x="31.93" y="439.66">0.0</text>
<text x="49.67" y="439.66">0.2</text>
<text x="67.30" y="439.66">2.2</text>
<text x="85.12" y="439.66">0.1</text>
<text x="102.94" y="439.66">-0.2</text>
<text x="120.45" y="439.66">-0.3</text>
<text x="138.25" y="439.66">-1.0</text>
<text x="155.85" y="439.66">-0.9</text>
<text x="31.93" y="449.11">-1.1</text>
<text x="49.67" y="449.11">-0.8</text>
<text x="67.30" y="449.11">1.9</text>
<text x="85.12" y="449.11">0.2</text>
<text x="102.94" y="449.11">0.4</text>
<text x="120.45" y="449.11">0.8</text>
<text x="138.25" y="449.11">-0.7</text>
<text x="155.85" y="449.11">-0.6</text>
<text x="31.93" y="458.57">-0.7</text>
<text x="49.67" y="458.57">-0.6</text>
<text x="67.30" y="458.57">0.4</text>
<text x="85.12" y="458.57">-1.5</text>
<text x="102.94" y="458.57">0.6</text>
<text x="120.45" y="458.57">-0.5</text>
<text x="138.25" y="458.57">1.3</text>
<text x="155.85" y="458.57">1.2</text>
<text x="31.93" y="468.02">-0.2</text>
<text x="49.67" y="468.02">-1.2</text>
<text x="67.30" y="468.02">-0.4</text>
<text x="85.12" y="468.02">-1.3</text>
<text x="102.94" y="468.02">1.6</text>
<text x="120.45" y="468.02">0.9</text>
<text x="138.25" y="468.02">0.1</text>
<text x="155.85" y="468.02">0.4</text>
<text x="31.93" y="477.47">-0.9</text>
<text x="49.67" y="477.47">-1.1</text>
<text x="67.30" y="477.47">0.3</text>
<text x="85.12" y="477.47">-0.2</text>
<text x="102.94" y="477.47">-0.2</text>
<text x="120.45" y="477.47">-0.7</text>
<text x="138.25" y="477.47">1.5</text>
<text x="155.85" y="477.47">1.4</text>
</g>
<line x1="23.07" y1="6.95" x2="23.07" y2="481.20" stroke="#000" stroke-width="1.6"/>
<line x1="58.54" y1="6.95" x2="58.54" y2="481.20" stroke="#000" stroke-width="1.6"/>
<line x1="94.19" y1="6.95" x2="94.19" y2="481.20" stroke="#000" stroke-width="1.6"/>
<line x1="129.20" y1="6.95" x2="129.20" y2="481.20" stroke="#000" stroke-width="1.6"/>
<line x1="164.40" y1="6.95" x2="164.40" y2="481.20" stroke="#000" stroke-width="1.6"/>
<line x1="23.07" y1="7.75" x2="164.40" y2="7.75" stroke="#000" stroke-width="1.6"/>
<line x1="23.07" y1="140.09" x2="164.40" y2="140.09" stroke="#000" stroke-width="1.6"/>
<line x1="23.07" y1="338.60" x2="164.40" y2="338.60" stroke="#000" stroke-width="1.6"/>
<line x1="23.07" y1="480.40" x2="164.40" y2="480.40" stroke="#000" stroke-width="1.6"/>
<g font-size="6.9" fill="#111">
<text transform="translate(166.2,14.98) scale(0.865,1)">MITOTIC_SPINDLE</text>
<text transform="translate(166.2,24.45) scale(0.865,1)">DNA_REPAIR</text>
<text transform="translate(166.2,33.92) scale(0.865,1)">G2M_CHECKPOINT</text>
<text transform="translate(166.2,43.40) scale(0.865,1)">ANDROGEN_RESPONSE</text>
<text transform="translate(166.2,52.87) scale(0.865,1)">APICAL_SURFACE</text>
<text transform="translate(166.2,62.34) scale(0.865,1)">UNFOLDED_PROTEIN_RESPONSE</text>
<text transform="translate(166.2,71.81) scale(0.865,1)">E2F_TARGETS</text>
<text transform="translate(166.2,81.29) scale(0.865,1)">MYC_TARGETS_V2</text>
<text transform="translate(166.2,90.76) scale(0.865,1)">EMT</text>
<text transform="translate(166.2,100.23) scale(0.865,1)">XENOBIOTIC_METABOLISM</text>
<text transform="translate(166.2,109.71) scale(0.865,1)">OXIDATIVE_PHOSPHORYLATION</text>
<text transform="translate(166.2,119.18) scale(0.865,1)">UV_RESPONSE_DN</text>
<text transform="translate(166.2,128.65) scale(0.865,1)">ANGIOGENESIS</text>
<text transform="translate(166.2,138.13) scale(0.865,1)">HEME_METABOLISM</text>
<text transform="translate(166.2,147.60) scale(0.865,1)">HYPOXIA</text>
<text transform="translate(166.2,157.07) scale(0.865,1)">WNT_BETA_CATENIN_SIGNALING</text>
<text transform="translate(166.2,166.54) scale(0.865,1)">TGF_BETA_SIGNALING</text>
<text transform="translate(166.2,176.02) scale(0.865,1)">IL6_JAK_STAT3_SIGNALING</text>
<text transform="translate(166.2,185.49) scale(0.865,1)">APOPTOSIS</text>
<text transform="translate(166.2,194.96) scale(0.865,1)">ESTROGEN_RESPONSE_EARLY</text>
<text transform="translate(166.2,204.44) scale(0.865,1)">ESTROGEN_RESPONSE_LATE</text>
<text transform="translate(166.2,213.91) scale(0.865,1)">MYOGENESIS</text>
<text transform="translate(166.2,223.38) scale(0.865,1)">APICAL_JUNCTION</text>
<text transform="translate(166.2,232.86) scale(0.865,1)">HEDGEHOG_SIGNALING</text>
<text transform="translate(166.2,242.33) scale(0.865,1)">COMPLEMENT</text>
<text transform="translate(166.2,251.80) scale(0.865,1)">MTORC1_SIGNALING</text>
<text transform="translate(166.2,261.27) scale(0.865,1)">MYC_TARGETS_V1</text>
<text transform="translate(166.2,270.75) scale(0.865,1)">GLYCOLYSIS</text>
<text transform="translate(166.2,280.22) scale(0.865,1)">REACTIVE_OXYGEN_SPECIES</text>
<text transform="translate(166.2,289.69) scale(0.865,1)">P53_PATHWAY</text>
<text transform="translate(166.2,299.17) scale(0.865,1)">UV_RESPONSE_UP</text>
<text transform="translate(166.2,308.64) scale(0.865,1)">COAGULATION</text>
<text transform="translate(166.2,318.11) scale(0.865,1)">PEROXISOME</text>
<text transform="translate(166.2,327.59) scale(0.865,1)">ALLOGRAFT_REJECTION</text>
<text transform="translate(166.2,337.06) scale(0.865,1)">KRAS_SIGNALING_DN</text>
<text transform="translate(166.2,346.53) scale(0.865,1)">TNFA_SIGNALING_VIA_NFKB</text>
<text transform="translate(166.2,356.00) scale(0.865,1)">CHOLESTEROL_HOMEOSTASIS</text>
<text transform="translate(166.2,365.48) scale(0.865,1)">NOTCH_SIGNALING</text>
<text transform="translate(166.2,374.95) scale(0.865,1)">ADIPOGENESIS</text>
<text transform="translate(166.2,384.42) scale(0.865,1)">PROTEIN_SECRETION</text>
<text transform="translate(166.2,393.90) scale(0.865,1)">INTERFERON_GAMMA_RESPONSE</text>
<text transform="translate(166.2,403.37) scale(0.865,1)">PI3K_AKT_MTOR_SIGNALING</text>
<text transform="translate(166.2,412.84) scale(0.865,1)">INFLAMMATORY_RESPONSE</text>
<text transform="translate(166.2,422.32) scale(0.865,1)">FATTY_ACID_METABOLISM</text>
<text transform="translate(166.2,431.79) scale(0.865,1)">IL2_STAT5_SIGNALING</text>
<text transform="translate(166.2,441.26) scale(0.865,1)">BILE_ACID_METABOLISM</text>
<text transform="translate(166.2,450.73) scale(0.865,1)">SPERMATOGENESIS</text>
<text transform="translate(166.2,460.21) scale(0.865,1)">KRAS_SIGNALING_UP</text>
<text transform="translate(166.2,469.68) scale(0.865,1)">PANCREAS_BETA_CELLS</text>
<text transform="translate(166.2,479.15) scale(0.865,1)">INTERFERON_ALPHA_RESPONSE</text>
</g>
<g font-size="7.5" fill="#111" text-anchor="end">
<text transform="translate(34.73,483) rotate(-90)">SNU-4631AS4-TO</text>
<text transform="translate(52.47,483) rotate(-90)">SNU-4631AS4-TO_G0</text>
<text transform="translate(70.10,483) rotate(-90)">SNU-4146S1-TO</text>
<text transform="translate(87.92,483) rotate(-90)">SNU-4146S1-TO_G0</text>
<text transform="translate(105.74,483) rotate(-90)">SNU-4139S3-TO</text>
<text transform="translate(123.25,483) rotate(-90)">SNU-4139S3-TO_G0</text>
<text transform="translate(141.05,483) rotate(-90)">SNU-4713S3-TO</text>
<text transform="translate(158.65,483) rotate(-90)">SNU-4713S3-TO_G0</text>
</g>
<text transform="translate(18.4,72.5) rotate(-90)" font-size="9.6" font-weight="bold" text-anchor="middle" fill="#111">High</text>
<text transform="translate(18.4,238.6) rotate(-90)" font-size="9.6" font-weight="bold" text-anchor="middle" fill="#111">Moderate</text>
<text transform="translate(18.4,410) rotate(-90)" font-size="9.6" font-weight="bold" text-anchor="middle" fill="#111">Low</text>
<text x="-0.3" y="9.8" font-size="12.8" font-weight="bold" fill="#111">a</text>
<text x="259.8" y="222.3" font-size="6.35" font-weight="bold" fill="#333">Enrichment Score</text>
<defs><linearGradient id="ga" x1="0" y1="0" x2="0" y2="1">
<stop offset="0.000" stop-color="#ff0000"/>
<stop offset="0.050" stop-color="#ff3c20"/>
<stop offset="0.100" stop-color="#ff5837"/>
<stop offset="0.150" stop-color="#ff6e4e"/>
<stop offset="0.200" stop-color="#ff8364"/>
<stop offset="0.250" stop-color="#ff967a"/>
<stop offset="0.300" stop-color="#ffa890"/>
<stop offset="0.350" stop-color="#ffbaa7"/>
<stop offset="0.400" stop-color="#feccbe"/>
<stop offset="0.450" stop-color="#f7ddd6"/>
<stop offset="0.500" stop-color="#eeeeee"/>
<stop offset="0.550" stop-color="#e2d8f1"/>
<stop offset="0.600" stop-color="#d6c3f4"/>
<stop offset="0.650" stop-color="#c9aef6"/>
<stop offset="0.700" stop-color="#ba99f8"/>
<stop offset="0.750" stop-color="#aa83fa"/>
<stop offset="0.800" stop-color="#996efb"/>
<stop offset="0.850" stop-color="#8559fc"/>
<stop offset="0.900" stop-color="#6d42fd"/>
<stop offset="0.950" stop-color="#4d29fe"/>
<stop offset="1.000" stop-color="#0000ff"/>
</linearGradient></defs>
<rect x="259.9" y="225.8" width="8.6" height="38.9" fill="url(#ga)"/>
<text x="270.6" y="230.10000000000002" font-size="6.5" fill="#444">2</text>
<text x="270.6" y="238.60000000000002" font-size="6.5" fill="#444">1</text>
<text x="270.6" y="247.0" font-size="6.5" fill="#444">0</text>
<text x="270.6" y="255.8" font-size="6.5" fill="#444">-1</text>
<text x="270.6" y="264.6" font-size="6.5" fill="#444">-2</text>
<line x1="372.50" y1="16.3" x2="372.50" y2="85.5" stroke="#eeeeee" stroke-width="0.6" stroke-dasharray="1,1"/>
<line x1="372.50" y1="114.4" x2="372.50" y2="160.3" stroke="#eeeeee" stroke-width="0.6" stroke-dasharray="1,1"/>
<line x1="400.80" y1="16.3" x2="400.80" y2="85.5" stroke="#eeeeee" stroke-width="0.6" stroke-dasharray="1,1"/>
<line x1="400.80" y1="114.4" x2="400.80" y2="160.3" stroke="#eeeeee" stroke-width="0.6" stroke-dasharray="1,1"/>
<line x1="429.10" y1="16.3" x2="429.10" y2="85.5" stroke="#eeeeee" stroke-width="0.6" stroke-dasharray="1,1"/>
<line x1="429.10" y1="114.4" x2="429.10" y2="160.3" stroke="#eeeeee" stroke-width="0.6" stroke-dasharray="1,1"/>
<line x1="457.40" y1="16.3" x2="457.40" y2="85.5" stroke="#eeeeee" stroke-width="0.6" stroke-dasharray="1,1"/>
<line x1="457.40" y1="114.4" x2="457.40" y2="160.3" stroke="#eeeeee" stroke-width="0.6" stroke-dasharray="1,1"/>
<line x1="485.70" y1="16.3" x2="485.70" y2="85.5" stroke="#eeeeee" stroke-width="0.6" stroke-dasharray="1,1"/>
<line x1="485.70" y1="114.4" x2="485.70" y2="160.3" stroke="#eeeeee" stroke-width="0.6" stroke-dasharray="1,1"/>
<line x1="343.6" y1="29.83" x2="502.3" y2="29.83" stroke="#eeeeee" stroke-width="0.6" stroke-dasharray="1,1"/>
<line x1="343.6" y1="40.96" x2="502.3" y2="40.96" stroke="#eeeeee" stroke-width="0.6" stroke-dasharray="1,1"/>
<line x1="343.6" y1="52.09" x2="502.3" y2="52.09" stroke="#eeeeee" stroke-width="0.6" stroke-dasharray="1,1"/>
<line x1="343.6" y1="63.22" x2="502.3" y2="63.22" stroke="#eeeeee" stroke-width="0.6" stroke-dasharray="1,1"/>
<line x1="343.6" y1="74.35" x2="502.3" y2="74.35" stroke="#eeeeee" stroke-width="0.6" stroke-dasharray="1,1"/>
<line x1="343.6" y1="85.48" x2="502.3" y2="85.48" stroke="#eeeeee" stroke-width="0.6" stroke-dasharray="1,1"/>
<line x1="343.6" y1="121.20" x2="502.3" y2="121.20" stroke="#eeeeee" stroke-width="0.6" stroke-dasharray="1,1"/>
<line x1="343.6" y1="141.60" x2="502.3" y2="141.60" stroke="#eeeeee" stroke-width="0.6" stroke-dasharray="1,1"/>
<line x1="343.6" y1="151.80" x2="502.3" y2="151.80" stroke="#eeeeee" stroke-width="0.6" stroke-dasharray="1,1"/>
<rect x="343.6" y="16.3" width="158.7" height="144.0" fill="none" stroke="#d8d8d8" stroke-width="0.7"/>
<line x1="343.6" y1="85.5" x2="502.3" y2="85.5" stroke="#d8d8d8" stroke-width="0.7"/>
<line x1="343.6" y1="108.4" x2="502.3" y2="108.4" stroke="#d8d8d8" stroke-width="0.7"/>
<line x1="343.6" y1="114.4" x2="502.3" y2="114.4" stroke="#d8d8d8" stroke-width="0.7"/>
<line x1="343.6" y1="18.7" x2="502.3" y2="18.7" stroke="#cfcfcf" stroke-width="1"/>
<rect x="344.09" y="85.90" width="0.60" height="22.50" fill="#dddddd"/>
<rect x="346.19" y="85.90" width="0.60" height="22.50" fill="#333333"/>
<rect x="354.01" y="85.90" width="1.17" height="22.50" fill="#cccccc"/>
<rect x="357.05" y="85.90" width="0.60" height="22.50" fill="#444444"/>
<rect x="362.19" y="85.90" width="1.17" height="22.50" fill="#555555"/>
<rect x="364.88" y="85.90" width="0.60" height="22.50" fill="#bbbbbb"/>
<rect x="367.80" y="85.90" width="0.60" height="22.50" fill="#888888"/>
<rect x="369.55" y="85.90" width="0.60" height="22.50" fill="#999999"/>
<rect x="371.30" y="85.90" width="0.93" height="22.50" fill="#444444"/>
<rect x="373.05" y="85.90" width="0.60" height="22.50" fill="#222222"/>
<rect x="375.39" y="85.90" width="0.60" height="22.50" fill="#666666"/>
<rect x="378.89" y="85.90" width="0.60" height="22.50" fill="#bbbbbb"/>
<rect x="380.64" y="85.90" width="1.40" height="22.50" fill="#222222"/>
<rect x="383.45" y="85.90" width="1.64" height="22.50" fill="#aaaaaa"/>
<rect x="426.07" y="85.90" width="1.52" height="22.50" fill="#bbbbbb"/>
<rect x="427.59" y="85.90" width="1.75" height="22.50" fill="#888888"/>
<rect x="429.34" y="85.90" width="4.09" height="22.50" fill="#333333"/>
<rect x="433.43" y="85.90" width="1.75" height="22.50" fill="#888888"/>
<rect x="435.18" y="85.90" width="2.34" height="22.50" fill="#666666"/>
<rect x="437.52" y="85.90" width="1.17" height="22.50" fill="#cccccc"/>
<rect x="438.69" y="85.90" width="1.75" height="22.50" fill="#888888"/>
<rect x="440.44" y="85.90" width="1.17" height="22.50" fill="#bbbbbb"/>
<rect x="441.61" y="85.90" width="1.75" height="22.50" fill="#555555"/>
<rect x="443.36" y="85.90" width="1.75" height="22.50" fill="#777777"/>
<rect x="445.11" y="85.90" width="1.17" height="22.50" fill="#999999"/>
<rect x="446.28" y="85.90" width="1.75" height="22.50" fill="#666666"/>
<rect x="448.03" y="85.90" width="1.75" height="22.50" fill="#111111"/>
<rect x="449.78" y="85.90" width="1.75" height="22.50" fill="#999999"/>
<rect x="451.53" y="85.90" width="2.34" height="22.50" fill="#444444"/>
<rect x="453.87" y="85.90" width="2.34" height="22.50" fill="#777777"/>
<rect x="456.20" y="85.90" width="1.75" height="22.50" fill="#222222"/>
<rect x="457.96" y="85.90" width="2.34" height="22.50" fill="#333333"/>
<rect x="460.29" y="85.90" width="2.34" height="22.50" fill="#bbbbbb"/>
<rect x="462.63" y="85.90" width="1.75" height="22.50" fill="#222222"/>
<rect x="465.55" y="85.90" width="1.17" height="22.50" fill="#555555"/>
<rect x="466.72" y="85.90" width="1.17" height="22.50" fill="#222222"/>
<rect x="467.88" y="85.90" width="3.50" height="22.50" fill="#333333"/>
<rect x="471.39" y="85.90" width="2.34" height="22.50" fill="#666666"/>
<rect x="473.72" y="85.90" width="2.34" height="22.50" fill="#aaaaaa"/>
<rect x="477.23" y="85.90" width="4.67" height="22.50" fill="#666666"/>
<rect x="481.90" y="85.90" width="1.75" height="22.50" fill="#444444"/>
<rect x="483.65" y="85.90" width="1.75" height="22.50" fill="#111111"/>
<rect x="485.40" y="85.90" width="4.67" height="22.50" fill="#555555"/>
<rect x="490.07" y="85.90" width="2.92" height="22.50" fill="#777777"/>
<rect x="492.99" y="85.90" width="1.75" height="22.50" fill="#aaaaaa"/>
<rect x="344.10" y="108.40" width="9.90" height="6.00" fill="#e02424"/>
<rect x="354.00" y="108.40" width="17.50" height="6.00" fill="#f04444"/>
<rect x="371.50" y="108.40" width="8.20" height="6.00" fill="#f26464"/>
<rect x="379.70" y="108.40" width="44.60" height="6.00" fill="#f9bcdd"/>
<rect x="424.30" y="108.40" width="35.40" height="6.00" fill="#ccccf2"/>
<rect x="459.70" y="108.40" width="6.20" height="6.00" fill="#8888ea"/>
<rect x="465.90" y="108.40" width="19.90" height="6.00" fill="#5a50e0"/>
<rect x="485.80" y="108.40" width="8.60" height="6.00" fill="#2000c0"/>
<path d="M344.1,131.4 L344.1,122.6 L345.5,125.8 L386,131.1 L386,131.4 Z M424.3,131.4 L480,135.5 C488,136.8 493,138.8 494,146 L494.5,158.5 L494.5,131.4 Z" fill="#bdbdbd"/>
<line x1="386.53" y1="114.4" x2="386.53" y2="160.3" stroke="#d0d0d0" stroke-width="0.6" stroke-dasharray="1.2,1"/>
<polyline points="343.70,19.00 345.30,19.90 346.80,19.30 347.90,19.90 349.22,21.00 350.55,22.10 351.88,23.20 353.20,24.30 354.50,24.73 355.80,25.17 357.10,25.60 358.40,26.10 359.73,26.97 361.07,27.83 362.40,28.70 363.70,28.50 365.00,29.13 366.30,29.77 367.60,30.40 368.93,31.07 370.25,31.75 371.57,32.42 372.90,33.10 374.90,33.70 376.05,34.53 377.20,35.35 378.35,36.17 379.50,37.00 380.80,37.92 382.10,38.84 383.40,39.76 384.70,40.68 386.00,41.60 387.33,42.50 388.67,43.40 390.00,44.30 391.17,45.18 392.33,46.06 393.50,46.93 394.67,47.81 395.83,48.69 397.00,49.57 398.17,50.44 399.33,51.32 400.50,52.20 401.63,53.04 402.76,53.88 403.90,54.72 405.03,55.56 406.16,56.40 407.29,57.24 408.42,58.08 409.56,58.92 410.69,59.76 411.82,60.60 412.95,61.44 414.08,62.28 415.22,63.12 416.35,63.96 417.48,64.80 418.61,65.64 419.74,66.48 420.88,67.32 422.01,68.16 423.14,69.00 424.27,69.84 425.40,70.68 426.54,71.52 427.67,72.36 428.80,73.20 429.95,73.85 431.10,74.50 432.25,75.15 433.40,75.80 434.55,76.30 435.70,76.80 436.85,77.30 438.00,77.80 439.15,78.30 440.30,78.56 441.45,79.34 442.60,79.80 443.93,80.01 445.25,80.54 446.57,80.89 447.90,81.10 449.20,80.94 450.50,81.13 451.80,81.80 453.12,81.93 454.45,81.23 455.78,81.04 457.10,81.10 458.25,80.90 459.40,79.77 460.55,79.45 461.70,78.50 463.00,77.13 464.30,75.80 465.40,75.29 466.50,74.22 467.60,73.90 469.60,69.30 471.60,64.00 473.25,63.12 474.90,62.00 476.20,62.68 477.50,62.70 479.50,59.40 480.80,57.12 482.10,54.80 484.10,50.80 485.40,45.60 486.70,42.52 488.00,39.00 490.00,33.70 491.30,30.60 492.60,27.20 494.60,18.60" fill="none" stroke="#00f000" stroke-width="1.45" stroke-linejoin="round"/>
<g font-size="4.75" fill="#333" text-anchor="end">
<text x="341.6" y="20.30">0.0</text>
<text x="341.6" y="31.43">-0.1</text>
<text x="341.6" y="42.56">-0.2</text>
<text x="341.6" y="53.69">-0.3</text>
<text x="341.6" y="64.82">-0.4</text>
<text x="341.6" y="75.95">-0.5</text>
<text x="341.6" y="87.08">-0.6</text>
<text x="341.40000000000003" y="123.00" font-size="5.1">1</text>
<text x="341.40000000000003" y="133.20" font-size="5.1">0</text>
<text x="341.40000000000003" y="143.40" font-size="5.1">-1</text>
<text x="341.40000000000003" y="153.60" font-size="5.1">-2</text>
</g>
<g font-size="4.6" fill="#333" text-anchor="middle">
<text x="344.20" y="167.10">0</text>
<text x="372.50" y="167.10">5,000</text>
<text x="400.80" y="167.10">10,000</text>
<text x="429.10" y="167.10">15,000</text>
<text x="457.40" y="167.10">20,000</text>
<text x="485.70" y="167.10">25,000</text>
<text x="423.44" y="173.30">Rank in Ordered Dataset</text>
</g>
<text x="345.10" y="119.70" font-size="4.7" fill="#f02a2a">'0' (positively correlated)</text>
<text x="421.90" y="159.60" font-size="4.6" fill="#3388cc">'1' (negatively correlated)</text>
<text x="369.30" y="138.90" font-size="4.5" fill="#333">Zero cross at 7479</text>
<text transform="translate(330.8,51.5) rotate(-90)" font-size="5.06" font-weight="bold" fill="#222" text-anchor="middle">Enrichment score (ES)</text>
<text transform="translate(334.4,136.6) rotate(-90)" font-size="4.55" fill="#333" text-anchor="middle">Ranked list metric (Signal2Noise)</text>
<text x="352.3" y="13.100000000000001" font-size="5.86" font-weight="bold" fill="#111">Enrichment plot: HALLMARK_G2M_CHECKPOINT</text>
<line x1="360.6" y1="181.7" x2="365.6" y2="181.7" stroke="#00ee00" stroke-width="1.6"/>
<text x="366.90000000000003" y="183.6" font-size="4.6" fill="#333">Enrichment profile</text>
<line x1="406.6" y1="181.7" x2="411.3" y2="181.7" stroke="#555" stroke-width="1.4"/>
<text x="411.3" y="183.6" font-size="4.6" fill="#333">Hits</text>
<line x1="430.6" y1="181.7" x2="435.8" y2="181.7" stroke="#ccc" stroke-width="1.6"/>
<text x="437.70000000000005" y="183.6" font-size="4.6" fill="#333">Ranking metric scores</text>
<text x="317.5" y="10" font-size="12.5" font-weight="bold">b</text>
<line x1="555.95" y1="16.0" x2="555.95" y2="85.3" stroke="#eeeeee" stroke-width="0.6" stroke-dasharray="1,1"/>
<line x1="555.95" y1="114.3" x2="555.95" y2="160.3" stroke="#eeeeee" stroke-width="0.6" stroke-dasharray="1,1"/>
<line x1="584.40" y1="16.0" x2="584.40" y2="85.3" stroke="#eeeeee" stroke-width="0.6" stroke-dasharray="1,1"/>
<line x1="584.40" y1="114.3" x2="584.40" y2="160.3" stroke="#eeeeee" stroke-width="0.6" stroke-dasharray="1,1"/>
<line x1="612.85" y1="16.0" x2="612.85" y2="85.3" stroke="#eeeeee" stroke-width="0.6" stroke-dasharray="1,1"/>
<line x1="612.85" y1="114.3" x2="612.85" y2="160.3" stroke="#eeeeee" stroke-width="0.6" stroke-dasharray="1,1"/>
<line x1="641.30" y1="16.0" x2="641.30" y2="85.3" stroke="#eeeeee" stroke-width="0.6" stroke-dasharray="1,1"/>
<line x1="641.30" y1="114.3" x2="641.30" y2="160.3" stroke="#eeeeee" stroke-width="0.6" stroke-dasharray="1,1"/>
<line x1="669.75" y1="16.0" x2="669.75" y2="85.3" stroke="#eeeeee" stroke-width="0.6" stroke-dasharray="1,1"/>
<line x1="669.75" y1="114.3" x2="669.75" y2="160.3" stroke="#eeeeee" stroke-width="0.6" stroke-dasharray="1,1"/>
<line x1="527.6" y1="30.33" x2="690" y2="30.33" stroke="#eeeeee" stroke-width="0.6" stroke-dasharray="1,1"/>
<line x1="527.6" y1="40.06" x2="690" y2="40.06" stroke="#eeeeee" stroke-width="0.6" stroke-dasharray="1,1"/>
<line x1="527.6" y1="49.79" x2="690" y2="49.79" stroke="#eeeeee" stroke-width="0.6" stroke-dasharray="1,1"/>
<line x1="527.6" y1="59.52" x2="690" y2="59.52" stroke="#eeeeee" stroke-width="0.6" stroke-dasharray="1,1"/>
<line x1="527.6" y1="69.25" x2="690" y2="69.25" stroke="#eeeeee" stroke-width="0.6" stroke-dasharray="1,1"/>
<line x1="527.6" y1="78.98" x2="690" y2="78.98" stroke="#eeeeee" stroke-width="0.6" stroke-dasharray="1,1"/>
<line x1="527.6" y1="121.40" x2="690" y2="121.40" stroke="#eeeeee" stroke-width="0.6" stroke-dasharray="1,1"/>
<line x1="527.6" y1="141.60" x2="690" y2="141.60" stroke="#eeeeee" stroke-width="0.6" stroke-dasharray="1,1"/>
<line x1="527.6" y1="151.70" x2="690" y2="151.70" stroke="#eeeeee" stroke-width="0.6" stroke-dasharray="1,1"/>
<line x1="527.6" y1="16.0" x2="690" y2="16.0" stroke="#d8d8d8" stroke-width="0.7"/><line x1="527.6" y1="160.3" x2="690" y2="160.3" stroke="#d8d8d8" stroke-width="0.7"/>
<line x1="527.6" y1="85.3" x2="690" y2="85.3" stroke="#d8d8d8" stroke-width="0.7"/>
<line x1="527.6" y1="108.4" x2="690" y2="108.4" stroke="#d8d8d8" stroke-width="0.7"/>
<line x1="527.6" y1="114.3" x2="690" y2="114.3" stroke="#d8d8d8" stroke-width="0.7"/>
<line x1="527.6" y1="20.6" x2="690" y2="20.6" stroke="#cfcfcf" stroke-width="1"/>
<rect x="548.01" y="85.70" width="0.70" height="22.70" fill="#666666"/>
<rect x="555.60" y="85.70" width="1.17" height="22.70" fill="#444444"/>
<rect x="558.52" y="85.70" width="0.70" height="22.70" fill="#aaaaaa"/>
<rect x="615.04" y="85.70" width="0.60" height="22.70" fill="#777777"/>
<rect x="617.03" y="85.70" width="0.60" height="22.70" fill="#777777"/>
<rect x="623.45" y="85.70" width="0.60" height="22.70" fill="#cccccc"/>
<rect x="629.88" y="85.70" width="0.60" height="22.70" fill="#777777"/>
<rect x="633.15" y="85.70" width="0.60" height="22.70" fill="#777777"/>
<rect x="636.07" y="85.70" width="0.60" height="22.70" fill="#666666"/>
<rect x="639.80" y="85.70" width="0.60" height="22.70" fill="#999999"/>
<rect x="643.89" y="85.70" width="0.60" height="22.70" fill="#aaaaaa"/>
<rect x="645.88" y="85.70" width="0.70" height="22.70" fill="#555555"/>
<rect x="646.58" y="85.70" width="0.70" height="22.70" fill="#888888"/>
<rect x="647.28" y="85.70" width="0.93" height="22.70" fill="#4a4a4a"/>
<rect x="648.21" y="85.70" width="0.93" height="22.70" fill="#777777"/>
<rect x="650.55" y="85.70" width="0.60" height="22.70" fill="#555555"/>
<rect x="653.23" y="85.70" width="0.60" height="22.70" fill="#777777"/>
<rect x="660.47" y="85.70" width="1.75" height="22.70" fill="#aaaaaa"/>
<rect x="662.23" y="85.70" width="2.92" height="22.70" fill="#888888"/>
<rect x="665.15" y="85.70" width="3.50" height="22.70" fill="#444444"/>
<rect x="669.93" y="85.70" width="0.60" height="22.70" fill="#555555"/>
<rect x="675.19" y="85.70" width="0.60" height="22.70" fill="#777777"/>
<rect x="527.80" y="108.40" width="9.70" height="5.90" fill="#e02424"/>
<rect x="537.50" y="108.40" width="16.90" height="5.90" fill="#f04444"/>
<rect x="554.40" y="108.40" width="9.80" height="5.90" fill="#f26464"/>
<rect x="564.20" y="108.40" width="43.90" height="5.90" fill="#f9bcdd"/>
<rect x="608.10" y="108.40" width="35.50" height="5.90" fill="#ccccf2"/>
<rect x="643.60" y="108.40" width="6.20" height="5.90" fill="#8888ea"/>
<rect x="649.80" y="108.40" width="20.10" height="5.90" fill="#5a50e0"/>
<rect x="669.90" y="108.40" width="8.70" height="5.90" fill="#2000c0"/>
<path d="M527.9,131.5 L527.9,122.6 L529.3,125.8 L570,131.2 L570,131.5 Z M608.1,131.5 L663,135.6 C671,137 677,139 677.9,146 L678.3,158 L678.3,131.5 Z" fill="#bdbdbd"/>
<line x1="570.06" y1="114.3" x2="570.06" y2="160.3" stroke="#d0d0d0" stroke-width="0.6" stroke-dasharray="1.2,1"/>
<polyline points="528.30,20.80 548.40,34.40 548.70,30.80 555.50,35.00 556.50,33.70 557.90,34.80 559.40,34.40 605.00,64.30 615.50,71.20 618.10,71.80 623.40,75.10 624.70,74.70 630.00,78.40 630.60,77.90 633.30,78.80 633.90,78.40 636.50,79.40 637.20,79.00 640.20,81.00 641.10,80.00 644.40,82.10 646.40,80.40 648.40,69.20 649.70,70.20 651.00,65.50 652.00,66.80 653.90,62.40 660.20,66.60 661.20,61.00 662.80,58.70 664.80,55.40 665.40,45.50 666.80,39.00 667.80,36.30 668.70,29.50 670.00,29.50 671.00,21.20 675.30,24.20 676.00,19.00 678.60,20.60" fill="none" stroke="#00f000" stroke-width="1.45" stroke-linejoin="round"/>
<g font-size="4.75" fill="#333" text-anchor="end">
<text x="525.6" y="22.20">0.0</text>
<text x="525.6" y="31.93">-0.1</text>
<text x="525.6" y="41.66">-0.2</text>
<text x="525.6" y="51.39">-0.3</text>
<text x="525.6" y="61.12">-0.4</text>
<text x="525.6" y="70.85">-0.5</text>
<text x="525.6" y="80.58">-0.6</text>
<text x="525.4" y="123.20" font-size="5.1">1</text>
<text x="525.4" y="133.30" font-size="5.1">0</text>
<text x="525.4" y="143.40" font-size="5.1">-1</text>
<text x="525.4" y="153.50" font-size="5.1">-2</text>
</g>
<g font-size="4.6" fill="#333" text-anchor="middle">
<text x="527.50" y="167.00">0</text>
<text x="555.95" y="167.00">5,000</text>
<text x="584.40" y="167.00">10,000</text>
<text x="612.85" y="167.00">15,000</text>
<text x="641.30" y="167.00">20,000</text>
<text x="669.75" y="167.00">25,000</text>
<text x="607.16" y="173.20">Rank in Ordered Dataset</text>
</g>
<text x="529.10" y="119.60" font-size="4.7" fill="#f02a2a">'0' (positively correlated)</text>
<text x="604.20" y="159.80" font-size="4.6" fill="#3388cc">'1' (negatively correlated)</text>
<text x="553.50" y="138.90" font-size="4.5" fill="#333">Zero cross at 7479</text>
<text transform="translate(516.2,54.4) rotate(-90)" font-size="5.06" font-weight="bold" fill="#222" text-anchor="middle">Enrichment score (ES)</text>
<text transform="translate(519.4,138) rotate(-90)" font-size="4.55" fill="#333" text-anchor="middle">Ranked list metric (Signal2Noise)</text>
<text x="532.5" y="12.5" font-size="5.86" font-weight="bold" fill="#111">REACTOME_DISEASES_OF_MITOTIC_CELL_CYCLE</text>
<line x1="544.2" y1="181.7" x2="549.2" y2="181.7" stroke="#00ee00" stroke-width="1.6"/>
<text x="550.5" y="183.6" font-size="4.6" fill="#333">Enrichment profile</text>
<line x1="590.2" y1="181.7" x2="594.9000000000001" y2="181.7" stroke="#555" stroke-width="1.4"/>
<text x="594.9000000000001" y="183.6" font-size="4.6" fill="#333">Hits</text>
<line x1="614.2" y1="181.7" x2="619.4000000000001" y2="181.7" stroke="#ccc" stroke-width="1.6"/>
<text x="621.3000000000001" y="183.6" font-size="4.6" fill="#333">Ranking metric scores</text>
<text x="502.5" y="10" font-size="12.5" font-weight="bold">c</text>
<g shape-rendering="crispEdges">
<rect x="381.40" y="193.40" width="12.06" height="1.19" fill="#f4cdd2"/>
<rect x="381.40" y="194.39" width="12.06" height="1.19" fill="#dfd5ee"/>
<rect x="381.40" y="195.39" width="12.06" height="1.19" fill="#f6eff5"/>
<rect x="381.40" y="196.38" width="12.06" height="2.19" fill="#dbd1ec"/>
<rect x="381.40" y="198.37" width="12.06" height="1.19" fill="#f5dde2"/>
<rect x="381.40" y="199.36" width="12.06" height="1.19" fill="#dcd2ed"/>
<rect x="381.40" y="200.36" width="12.06" height="1.19" fill="#cfc4e8"/>
<rect x="381.40" y="201.35" width="12.06" height="2.19" fill="#f6e7ed"/>
<rect x="381.40" y="203.34" width="12.06" height="1.19" fill="#f2c1c6"/>
<rect x="381.40" y="204.33" width="12.06" height="1.19" fill="#f6e2e8"/>
<rect x="381.40" y="205.33" width="12.06" height="2.19" fill="#f2bfc4"/>
<rect x="381.40" y="207.31" width="12.06" height="1.19" fill="#dad0ec"/>
<rect x="381.40" y="208.31" width="12.06" height="1.19" fill="#f6eaef"/>
<rect x="381.40" y="209.30" width="12.06" height="1.19" fill="#ece4f2"/>
<rect x="381.40" y="210.29" width="12.06" height="1.19" fill="#baace0"/>
<rect x="381.40" y="211.29" width="12.06" height="2.19" fill="#f5dce1"/>
<rect x="381.40" y="213.28" width="12.06" height="1.19" fill="#aa9cda"/>
<rect x="381.40" y="214.27" width="12.06" height="1.19" fill="#d3c8e9"/>
<rect x="381.40" y="215.26" width="12.06" height="2.19" fill="#d2c7e9"/>
<rect x="381.40" y="217.25" width="12.06" height="1.19" fill="#e1d8ee"/>
<rect x="381.40" y="218.24" width="12.06" height="2.19" fill="#e0d6ee"/>
<rect x="381.40" y="220.23" width="12.06" height="2.19" fill="#b2a4dd"/>
<rect x="381.40" y="222.22" width="12.06" height="1.19" fill="#b3a5dd"/>
<rect x="381.40" y="223.21" width="12.06" height="1.19" fill="#efe8f4"/>
<rect x="381.40" y="224.21" width="12.06" height="1.19" fill="#c1b4e3"/>
<rect x="381.40" y="225.20" width="12.06" height="1.19" fill="#d3c8e9"/>
<rect x="381.40" y="226.20" width="12.06" height="1.19" fill="#f6e4ea"/>
<rect x="381.40" y="227.19" width="12.06" height="1.19" fill="#a698d9"/>
<rect x="381.40" y="228.18" width="12.06" height="1.19" fill="#baace0"/>
<rect x="381.40" y="229.18" width="12.06" height="1.19" fill="#d4c9ea"/>
<rect x="381.40" y="230.17" width="12.06" height="1.19" fill="#cec3e8"/>
<rect x="381.40" y="231.16" width="12.06" height="1.19" fill="#e37c84"/>
<rect x="381.40" y="232.16" width="12.06" height="2.19" fill="#a799d9"/>
<rect x="381.40" y="234.15" width="12.06" height="1.19" fill="#f4d2d7"/>
<rect x="381.40" y="235.14" width="12.06" height="1.19" fill="#7e71cb"/>
<rect x="381.40" y="236.13" width="12.06" height="1.19" fill="#f2c1c6"/>
<rect x="381.40" y="237.13" width="12.06" height="2.19" fill="#9586d2"/>
<rect x="381.40" y="239.11" width="12.06" height="1.19" fill="#c3b6e3"/>
<rect x="381.40" y="240.11" width="12.06" height="1.19" fill="#d9ceeb"/>
<rect x="381.40" y="241.10" width="12.06" height="2.19" fill="#b1a3dd"/>
<rect x="381.40" y="243.09" width="12.06" height="1.19" fill="#f6e5eb"/>
<rect x="381.40" y="244.08" width="12.06" height="1.19" fill="#f6eff5"/>
<rect x="381.40" y="245.08" width="12.06" height="1.19" fill="#e8e0f1"/>
<rect x="381.40" y="246.07" width="12.06" height="1.19" fill="#ded4ed"/>
<rect x="381.40" y="247.06" width="12.06" height="2.19" fill="#eda4a9"/>
<rect x="381.40" y="249.05" width="12.06" height="1.19" fill="#eae2f2"/>
<rect x="381.40" y="250.05" width="12.06" height="1.19" fill="#f5d8dd"/>
<rect x="381.40" y="251.04" width="12.06" height="1.19" fill="#d1c6e9"/>
<rect x="381.40" y="252.03" width="12.06" height="1.19" fill="#f6ecf2"/>
<rect x="381.40" y="253.03" width="12.06" height="1.19" fill="#f6e4e9"/>
<rect x="381.40" y="254.02" width="12.06" height="1.19" fill="#f1eaf4"/>
<rect x="381.40" y="255.02" width="12.06" height="1.19" fill="#d5caea"/>
<rect x="381.40" y="256.01" width="12.06" height="1.19" fill="#a293d7"/>
<rect x="381.40" y="257.00" width="12.06" height="1.19" fill="#f2bec3"/>
<rect x="381.40" y="258.00" width="12.06" height="1.19" fill="#b4a7de"/>
<rect x="381.40" y="258.99" width="12.06" height="1.19" fill="#f6e6eb"/>
<rect x="381.40" y="259.98" width="12.06" height="1.19" fill="#f5e0e5"/>
<rect x="381.40" y="260.98" width="12.06" height="1.19" fill="#d1c6e9"/>
<rect x="381.40" y="261.97" width="12.06" height="1.19" fill="#dbd1ec"/>
<rect x="381.40" y="262.97" width="12.06" height="1.19" fill="#c3b7e4"/>
<rect x="381.40" y="263.96" width="12.06" height="1.19" fill="#f6e1e7"/>
<rect x="381.40" y="264.95" width="12.06" height="1.19" fill="#f6ebf0"/>
<rect x="381.40" y="265.95" width="12.06" height="1.19" fill="#aea0dc"/>
<rect x="381.40" y="266.94" width="12.06" height="1.19" fill="#f4eef5"/>
<rect x="381.40" y="267.93" width="12.06" height="1.19" fill="#f3c8cd"/>
<rect x="381.40" y="268.93" width="12.06" height="1.19" fill="#efe8f4"/>
<rect x="381.40" y="269.92" width="12.06" height="2.19" fill="#7e71ca"/>
<rect x="381.40" y="271.91" width="12.06" height="2.19" fill="#beb1e2"/>
<rect x="381.40" y="273.90" width="12.06" height="2.19" fill="#c2b5e3"/>
<rect x="381.40" y="275.88" width="12.06" height="1.19" fill="#ad9edb"/>
<rect x="381.40" y="276.88" width="12.06" height="2.19" fill="#c8bce5"/>
<rect x="381.40" y="278.87" width="12.06" height="1.19" fill="#f5dbe0"/>
<rect x="381.40" y="279.86" width="12.06" height="1.19" fill="#e3daef"/>
<rect x="381.40" y="280.85" width="12.06" height="1.19" fill="#e1d8ef"/>
<rect x="381.40" y="281.85" width="12.06" height="1.19" fill="#d9ceeb"/>
<rect x="381.40" y="282.84" width="12.06" height="2.19" fill="#f6f0f6"/>
<rect x="381.40" y="284.83" width="12.06" height="1.19" fill="#f3c9ce"/>
<rect x="381.40" y="285.82" width="12.06" height="2.19" fill="#f5d4da"/>
<rect x="381.40" y="287.81" width="12.06" height="1.19" fill="#f2bcc1"/>
<rect x="381.40" y="288.80" width="12.06" height="1.19" fill="#d9cfec"/>
<rect x="381.40" y="289.80" width="12.06" height="1.19" fill="#dacfec"/>
<rect x="381.40" y="290.79" width="12.06" height="1.19" fill="#dcd2ed"/>
<rect x="381.40" y="291.79" width="12.06" height="1.19" fill="#c3b6e3"/>
<rect x="381.40" y="292.78" width="12.06" height="1.19" fill="#cec2e7"/>
<rect x="381.40" y="293.77" width="12.06" height="1.19" fill="#f3c5ca"/>
<rect x="381.40" y="294.77" width="12.06" height="1.19" fill="#ece4f2"/>
<rect x="381.40" y="295.76" width="12.06" height="1.19" fill="#f6e5eb"/>
<rect x="381.40" y="296.75" width="12.06" height="1.19" fill="#f6edf3"/>
<rect x="381.40" y="297.75" width="12.06" height="1.19" fill="#a496d8"/>
<rect x="381.40" y="298.74" width="12.06" height="2.19" fill="#f6eef4"/>
<rect x="381.40" y="300.73" width="12.06" height="1.19" fill="#f5d9de"/>
<rect x="381.40" y="301.72" width="12.06" height="1.19" fill="#e88c93"/>
<rect x="381.40" y="302.72" width="12.06" height="1.19" fill="#c7bbe5"/>
<rect x="381.40" y="303.71" width="12.06" height="2.19" fill="#897bce"/>
<rect x="381.40" y="305.70" width="12.06" height="1.19" fill="#ec9ea4"/>
<rect x="381.40" y="306.69" width="12.06" height="1.19" fill="#e1d8ef"/>
<rect x="381.40" y="307.69" width="12.06" height="2.19" fill="#dbd1ec"/>
<rect x="381.40" y="309.67" width="12.06" height="1.19" fill="#f6e3e9"/>
<rect x="381.40" y="310.67" width="12.06" height="2.19" fill="#b7aadf"/>
<rect x="381.40" y="312.66" width="12.06" height="1.19" fill="#e0d6ee"/>
<rect x="381.40" y="313.65" width="12.06" height="2.19" fill="#f3c6cb"/>
<rect x="381.40" y="315.64" width="12.06" height="1.19" fill="#665dc2"/>
<rect x="381.40" y="316.63" width="12.06" height="1.19" fill="#f5d9de"/>
<rect x="381.40" y="317.62" width="12.06" height="1.19" fill="#b6a9df"/>
<rect x="381.40" y="318.62" width="12.06" height="1.19" fill="#d2c6e9"/>
<rect x="381.40" y="319.61" width="12.06" height="1.19" fill="#f6edf3"/>
<rect x="381.40" y="320.61" width="12.06" height="1.19" fill="#f5dce1"/>
<rect x="381.40" y="321.60" width="12.06" height="1.19" fill="#cabee6"/>
<rect x="381.40" y="322.59" width="12.06" height="2.19" fill="#f1b9be"/>
<rect x="381.40" y="324.58" width="12.06" height="1.19" fill="#f0e9f4"/>
<rect x="381.40" y="325.57" width="12.06" height="1.19" fill="#f5d6db"/>
<rect x="381.40" y="326.57" width="12.06" height="1.19" fill="#f5dee4"/>
<rect x="381.40" y="327.56" width="12.06" height="1.19" fill="#e1d8ef"/>
<rect x="381.40" y="328.56" width="12.06" height="2.19" fill="#f2bcc1"/>
<rect x="381.40" y="330.54" width="12.06" height="1.19" fill="#b9abe0"/>
<rect x="381.40" y="331.54" width="12.06" height="1.19" fill="#f5e0e5"/>
<rect x="381.40" y="332.53" width="12.06" height="1.19" fill="#eea6ab"/>
<rect x="381.40" y="333.52" width="12.06" height="1.19" fill="#d1c6e9"/>
<rect x="381.40" y="334.52" width="12.06" height="1.19" fill="#f3c3c8"/>
<rect x="381.40" y="335.51" width="12.06" height="1.19" fill="#ddd4ed"/>
<rect x="381.40" y="336.51" width="12.06" height="1.19" fill="#f3c3c8"/>
<rect x="381.40" y="337.50" width="12.06" height="1.19" fill="#8174cc"/>
<rect x="381.40" y="338.49" width="12.06" height="1.19" fill="#9e90d6"/>
<rect x="381.40" y="339.49" width="12.06" height="1.19" fill="#eea9ae"/>
<rect x="381.40" y="340.48" width="12.06" height="1.19" fill="#f5dee3"/>
<rect x="381.40" y="341.48" width="12.06" height="2.19" fill="#f6e9ef"/>
<rect x="381.40" y="343.46" width="12.06" height="1.19" fill="#f5e0e5"/>
<rect x="381.40" y="344.46" width="12.06" height="2.19" fill="#e5dcf0"/>
<rect x="381.40" y="346.44" width="12.06" height="1.19" fill="#e6ddf0"/>
<rect x="381.40" y="347.44" width="12.06" height="2.19" fill="#d9cfec"/>
<rect x="381.40" y="349.43" width="12.06" height="2.19" fill="#f6e3e9"/>
<rect x="381.40" y="351.41" width="12.06" height="1.19" fill="#f6e3e8"/>
<rect x="381.40" y="352.41" width="12.06" height="2.19" fill="#f6e9ee"/>
<rect x="381.40" y="354.39" width="12.06" height="1.19" fill="#e4dbef"/>
<rect x="381.40" y="355.39" width="12.06" height="1.19" fill="#f4cacf"/>
<rect x="381.40" y="356.38" width="12.06" height="2.19" fill="#f6e3e9"/>
<rect x="381.40" y="358.37" width="12.06" height="1.19" fill="#f2ebf4"/>
<rect x="381.40" y="359.36" width="12.06" height="2.19" fill="#c4b7e4"/>
<rect x="381.40" y="361.35" width="12.06" height="1.19" fill="#f6eff5"/>
<rect x="381.40" y="362.34" width="12.06" height="1.19" fill="#e0d6ee"/>
<rect x="381.40" y="363.34" width="12.06" height="1.19" fill="#c0b3e2"/>
<rect x="381.40" y="364.33" width="12.06" height="2.19" fill="#a294d7"/>
<rect x="381.40" y="366.32" width="12.06" height="1.19" fill="#f4ccd1"/>
<rect x="381.40" y="367.31" width="12.06" height="1.19" fill="#9587d3"/>
<rect x="381.40" y="368.31" width="12.06" height="2.19" fill="#f5d8de"/>
<rect x="381.40" y="370.30" width="12.06" height="1.19" fill="#f4cbd0"/>
<rect x="381.40" y="371.29" width="12.06" height="1.19" fill="#ad9fdb"/>
<rect x="381.40" y="372.28" width="12.06" height="1.19" fill="#baace0"/>
<rect x="381.40" y="373.28" width="12.06" height="1.19" fill="#f4d0d5"/>
<rect x="381.40" y="374.27" width="12.06" height="1.19" fill="#f3c7cc"/>
<rect x="381.40" y="375.26" width="12.06" height="2.19" fill="#f1b8bd"/>
<rect x="381.40" y="377.25" width="12.06" height="2.19" fill="#f5dee3"/>
<rect x="381.40" y="379.24" width="12.06" height="2.19" fill="#9a8cd5"/>
<rect x="381.40" y="381.23" width="12.06" height="2.19" fill="#f6eff5"/>
<rect x="381.40" y="383.21" width="12.06" height="1.19" fill="#eee7f3"/>
<rect x="381.40" y="384.21" width="12.06" height="1.19" fill="#f5d3d8"/>
<rect x="381.40" y="385.20" width="12.06" height="2.19" fill="#e3daef"/>
<rect x="381.40" y="387.19" width="12.06" height="1.19" fill="#f1ebf4"/>
<rect x="381.40" y="388.18" width="12.06" height="1.19" fill="#b3a5dd"/>
<rect x="381.40" y="389.18" width="12.06" height="2.19" fill="#e78b92"/>
<rect x="381.40" y="391.16" width="12.06" height="2.19" fill="#f6ecf2"/>
<rect x="381.40" y="393.15" width="12.06" height="2.19" fill="#f5d5da"/>
<rect x="381.40" y="395.14" width="12.06" height="2.19" fill="#f6e5ea"/>
<rect x="381.40" y="397.13" width="12.06" height="1.19" fill="#b9abe0"/>
<rect x="381.40" y="398.12" width="12.06" height="2.19" fill="#efaab0"/>
<rect x="381.40" y="400.11" width="12.06" height="1.19" fill="#9d8ed5"/>
<rect x="381.40" y="401.10" width="12.06" height="2.19" fill="#f5e0e5"/>
<rect x="381.40" y="403.09" width="12.06" height="1.19" fill="#dad0ec"/>
<rect x="381.40" y="404.08" width="12.06" height="1.19" fill="#c5b8e4"/>
<rect x="381.40" y="405.08" width="12.06" height="1.19" fill="#f6e1e6"/>
<rect x="381.40" y="406.07" width="12.06" height="1.19" fill="#d6cbea"/>
<rect x="381.40" y="407.07" width="12.06" height="1.19" fill="#d2c6e9"/>
<rect x="381.40" y="408.06" width="12.06" height="1.19" fill="#f5d4d9"/>
<rect x="381.40" y="409.05" width="12.06" height="1.19" fill="#998ad4"/>
<rect x="381.40" y="410.05" width="12.06" height="1.19" fill="#efaeb3"/>
<rect x="381.40" y="411.04" width="12.06" height="1.19" fill="#ec9fa5"/>
<rect x="381.40" y="412.03" width="12.06" height="1.19" fill="#f6e9ef"/>
<rect x="381.40" y="413.03" width="12.06" height="1.19" fill="#e9e1f1"/>
<rect x="381.40" y="414.02" width="12.06" height="1.19" fill="#e99399"/>
<rect x="381.40" y="415.02" width="12.06" height="1.19" fill="#f6eef4"/>
<rect x="381.40" y="416.01" width="12.06" height="1.19" fill="#f1babf"/>
<rect x="381.40" y="417.00" width="12.06" height="1.19" fill="#f6eaf0"/>
<rect x="381.40" y="418.00" width="12.06" height="1.19" fill="#f1eaf4"/>
<rect x="381.40" y="418.99" width="12.06" height="1.19" fill="#f5d9de"/>
<rect x="381.40" y="419.98" width="12.06" height="1.19" fill="#e2d9ef"/>
<rect x="381.40" y="420.98" width="12.06" height="1.19" fill="#f2bec3"/>
<rect x="381.40" y="421.97" width="12.06" height="1.19" fill="#ddd4ed"/>
<rect x="381.40" y="422.97" width="12.06" height="2.19" fill="#f0b1b6"/>
<rect x="381.40" y="424.95" width="12.06" height="1.19" fill="#eb9ba1"/>
<rect x="381.40" y="425.95" width="12.06" height="1.19" fill="#eea6ac"/>
<rect x="381.40" y="426.94" width="12.06" height="1.19" fill="#f3c9ce"/>
<rect x="381.40" y="427.94" width="12.06" height="1.19" fill="#f5d6dc"/>
<rect x="381.40" y="428.93" width="12.06" height="1.19" fill="#f6e5eb"/>
<rect x="381.40" y="429.92" width="12.06" height="1.19" fill="#a596d8"/>
<rect x="381.40" y="430.92" width="12.06" height="1.19" fill="#efacb2"/>
<rect x="381.40" y="431.91" width="12.06" height="2.19" fill="#ea969d"/>
<rect x="381.40" y="433.90" width="12.06" height="1.19" fill="#f6eef4"/>
<rect x="381.40" y="434.89" width="12.06" height="1.19" fill="#eae2f2"/>
<rect x="381.40" y="435.89" width="12.06" height="1.19" fill="#ede6f3"/>
<rect x="381.40" y="436.88" width="12.06" height="1.19" fill="#f6e0e6"/>
<rect x="381.40" y="437.87" width="12.06" height="1.19" fill="#f6e2e8"/>
<rect x="381.40" y="438.87" width="12.06" height="1.19" fill="#ebe3f2"/>
<rect x="381.40" y="439.86" width="12.06" height="1.19" fill="#f6ebf0"/>
<rect x="381.40" y="440.85" width="12.06" height="1.19" fill="#f4d1d7"/>
<rect x="381.40" y="441.85" width="12.06" height="1.19" fill="#f1b9be"/>
<rect x="381.40" y="442.84" width="12.06" height="1.19" fill="#f6eaf0"/>
<rect x="381.40" y="443.84" width="12.06" height="2.19" fill="#f3c2c7"/>
<rect x="381.40" y="445.82" width="12.06" height="1.19" fill="#f2c0c5"/>
<rect x="381.40" y="446.82" width="12.06" height="1.19" fill="#f3c6cb"/>
<rect x="381.40" y="447.81" width="12.06" height="1.19" fill="#f6eff5"/>
<rect x="381.40" y="448.80" width="12.06" height="1.19" fill="#efaeb4"/>
<rect x="381.40" y="449.80" width="12.06" height="2.19" fill="#e2d9ef"/>
<rect x="381.40" y="451.79" width="12.06" height="1.19" fill="#f0e9f4"/>
<rect x="381.40" y="452.78" width="12.06" height="1.19" fill="#f0b5ba"/>
<rect x="381.40" y="453.77" width="12.06" height="1.19" fill="#f6edf3"/>
<rect x="381.40" y="454.77" width="12.06" height="1.19" fill="#f6e1e7"/>
<rect x="381.40" y="455.76" width="12.06" height="1.19" fill="#ec9fa5"/>
<rect x="381.40" y="456.76" width="12.06" height="2.19" fill="#f6e1e7"/>
<rect x="381.40" y="458.74" width="12.06" height="1.19" fill="#dad0ec"/>
<rect x="381.40" y="459.74" width="12.06" height="1.19" fill="#f6ebf1"/>
<rect x="381.40" y="460.73" width="12.06" height="1.19" fill="#d8ceeb"/>
<rect x="381.40" y="461.72" width="12.06" height="1.19" fill="#c4b7e4"/>
<rect x="381.40" y="462.72" width="12.06" height="2.19" fill="#f4d2d7"/>
<rect x="381.40" y="464.71" width="12.06" height="2.19" fill="#d5caea"/>
<rect x="381.40" y="466.69" width="12.06" height="1.19" fill="#cabee6"/>
<rect x="381.40" y="467.69" width="12.06" height="1.19" fill="#7c6fca"/>
<rect x="381.40" y="468.68" width="12.06" height="1.19" fill="#f3c5ca"/>
<rect x="381.40" y="469.67" width="12.06" height="1.19" fill="#bdafe1"/>
<rect x="381.40" y="470.67" width="12.06" height="1.19" fill="#dd6672"/>
<rect x="381.40" y="471.66" width="12.06" height="1.19" fill="#f5eff6"/>
<rect x="381.40" y="472.66" width="12.06" height="1.19" fill="#eea5ab"/>
<rect x="381.40" y="473.65" width="12.06" height="1.19" fill="#f3c8ce"/>
<rect x="381.40" y="474.64" width="12.06" height="1.19" fill="#f5dfe4"/>
<rect x="381.40" y="475.64" width="12.06" height="1.19" fill="#f5d8dd"/>
<rect x="381.40" y="476.63" width="12.06" height="2.19" fill="#ebe4f2"/>
<rect x="381.40" y="478.62" width="12.06" height="1.19" fill="#dcd2ed"/>
<rect x="381.40" y="479.61" width="12.06" height="1.19" fill="#f4cdd2"/>
<rect x="381.40" y="480.61" width="12.06" height="1.19" fill="#f5e0e6"/>
<rect x="393.26" y="193.40" width="12.06" height="1.19" fill="#f5d4d9"/>
<rect x="393.26" y="194.39" width="12.06" height="1.19" fill="#e7dff1"/>
<rect x="393.26" y="195.39" width="12.06" height="2.19" fill="#e1d7ee"/>
<rect x="393.26" y="197.38" width="12.06" height="1.19" fill="#f1ebf4"/>
<rect x="393.26" y="198.37" width="12.06" height="1.19" fill="#e5dcf0"/>
<rect x="393.26" y="199.36" width="12.06" height="1.19" fill="#e8e0f1"/>
<rect x="393.26" y="200.36" width="12.06" height="1.19" fill="#aea0dc"/>
<rect x="393.26" y="201.35" width="12.06" height="1.19" fill="#efe8f4"/>
<rect x="393.26" y="202.34" width="12.06" height="1.19" fill="#e1d8ef"/>
<rect x="393.26" y="203.34" width="12.06" height="1.19" fill="#e6ddf0"/>
<rect x="393.26" y="204.33" width="12.06" height="1.19" fill="#f5dadf"/>
<rect x="393.26" y="205.33" width="12.06" height="1.19" fill="#f4d0d5"/>
<rect x="393.26" y="206.32" width="12.06" height="1.19" fill="#d1c6e9"/>
<rect x="393.26" y="207.31" width="12.06" height="1.19" fill="#f3c2c7"/>
<rect x="393.26" y="208.31" width="12.06" height="2.19" fill="#eeaaaf"/>
<rect x="393.26" y="210.29" width="12.06" height="1.19" fill="#cdc2e7"/>
<rect x="393.26" y="211.29" width="12.06" height="2.19" fill="#c5b9e4"/>
<rect x="393.26" y="213.28" width="12.06" height="1.19" fill="#f6e5eb"/>
<rect x="393.26" y="214.27" width="12.06" height="1.19" fill="#d8ceeb"/>
<rect x="393.26" y="215.26" width="12.06" height="1.19" fill="#f2c2c7"/>
<rect x="393.26" y="216.26" width="12.06" height="1.19" fill="#f5dfe4"/>
<rect x="393.26" y="217.25" width="12.06" height="2.19" fill="#a193d7"/>
<rect x="393.26" y="219.24" width="12.06" height="1.19" fill="#ddd4ed"/>
<rect x="393.26" y="220.23" width="12.06" height="1.19" fill="#8d7ed0"/>
<rect x="393.26" y="221.23" width="12.06" height="2.19" fill="#e7dff1"/>
<rect x="393.26" y="223.21" width="12.06" height="1.19" fill="#a799d9"/>
<rect x="393.26" y="224.21" width="12.06" height="2.19" fill="#f6eaf0"/>
<rect x="393.26" y="226.20" width="12.06" height="1.19" fill="#9d8ed5"/>
<rect x="393.26" y="227.19" width="12.06" height="1.19" fill="#f6e7ed"/>
<rect x="393.26" y="228.18" width="12.06" height="1.19" fill="#ebe3f2"/>
<rect x="393.26" y="229.18" width="12.06" height="1.19" fill="#c1b4e3"/>
<rect x="393.26" y="230.17" width="12.06" height="1.19" fill="#f5dce2"/>
<rect x="393.26" y="231.16" width="12.06" height="1.19" fill="#b3a5de"/>
<rect x="393.26" y="232.16" width="12.06" height="1.19" fill="#b2a4dd"/>
<rect x="393.26" y="233.15" width="12.06" height="1.19" fill="#efaeb3"/>
<rect x="393.26" y="234.15" width="12.06" height="2.19" fill="#e8e0f1"/>
<rect x="393.26" y="236.13" width="12.06" height="2.19" fill="#f4d1d6"/>
<rect x="393.26" y="238.12" width="12.06" height="1.19" fill="#f6e1e6"/>
<rect x="393.26" y="239.11" width="12.06" height="1.19" fill="#f5dfe5"/>
<rect x="393.26" y="240.11" width="12.06" height="1.19" fill="#8d7fd0"/>
<rect x="393.26" y="241.10" width="12.06" height="1.19" fill="#eee7f3"/>
<rect x="393.26" y="242.10" width="12.06" height="1.19" fill="#f2bec3"/>
<rect x="393.26" y="243.09" width="12.06" height="1.19" fill="#f1eaf4"/>
<rect x="393.26" y="244.08" width="12.06" height="1.19" fill="#d6cceb"/>
<rect x="393.26" y="245.08" width="12.06" height="1.19" fill="#b3a5dd"/>
<rect x="393.26" y="246.07" width="12.06" height="1.19" fill="#b8aadf"/>
<rect x="393.26" y="247.06" width="12.06" height="2.19" fill="#f6eaf0"/>
<rect x="393.26" y="249.05" width="12.06" height="1.19" fill="#f6e3e9"/>
<rect x="393.26" y="250.05" width="12.06" height="2.19" fill="#dfd6ee"/>
<rect x="393.26" y="252.03" width="12.06" height="1.19" fill="#e3daef"/>
<rect x="393.26" y="253.03" width="12.06" height="1.19" fill="#ded4ed"/>
<rect x="393.26" y="254.02" width="12.06" height="1.19" fill="#f2bcc1"/>
<rect x="393.26" y="255.02" width="12.06" height="1.19" fill="#d8cdeb"/>
<rect x="393.26" y="256.01" width="12.06" height="1.19" fill="#f4cacf"/>
<rect x="393.26" y="257.00" width="12.06" height="1.19" fill="#cfc3e8"/>
<rect x="393.26" y="258.00" width="12.06" height="2.19" fill="#ebe3f2"/>
<rect x="393.26" y="259.98" width="12.06" height="1.19" fill="#dfd5ee"/>
<rect x="393.26" y="260.98" width="12.06" height="1.19" fill="#f6edf3"/>
<rect x="393.26" y="261.97" width="12.06" height="1.19" fill="#e1d8ef"/>
<rect x="393.26" y="262.97" width="12.06" height="2.19" fill="#f6eef3"/>
<rect x="393.26" y="264.95" width="12.06" height="1.19" fill="#f4d2d8"/>
<rect x="393.26" y="265.95" width="12.06" height="1.19" fill="#e4dcf0"/>
<rect x="393.26" y="266.94" width="12.06" height="1.19" fill="#cfc4e8"/>
<rect x="393.26" y="267.93" width="12.06" height="2.19" fill="#d9cfec"/>
<rect x="393.26" y="269.92" width="12.06" height="1.19" fill="#f6e8ee"/>
<rect x="393.26" y="270.92" width="12.06" height="2.19" fill="#dfd5ee"/>
<rect x="393.26" y="272.90" width="12.06" height="1.19" fill="#f4cacf"/>
<rect x="393.26" y="273.90" width="12.06" height="1.19" fill="#b5a7de"/>
<rect x="393.26" y="274.89" width="12.06" height="1.19" fill="#f5d5da"/>
<rect x="393.26" y="275.88" width="12.06" height="1.19" fill="#c5b8e4"/>
<rect x="393.26" y="276.88" width="12.06" height="1.19" fill="#f4cad0"/>
<rect x="393.26" y="277.87" width="12.06" height="1.19" fill="#e7dff1"/>
<rect x="393.26" y="278.87" width="12.06" height="1.19" fill="#ded4ed"/>
<rect x="393.26" y="279.86" width="12.06" height="1.19" fill="#f6e7ed"/>
<rect x="393.26" y="280.85" width="12.06" height="1.19" fill="#c1b4e3"/>
<rect x="393.26" y="281.85" width="12.06" height="1.19" fill="#f0b0b5"/>
<rect x="393.26" y="282.84" width="12.06" height="1.19" fill="#e7def0"/>
<rect x="393.26" y="283.84" width="12.06" height="1.19" fill="#887ace"/>
<rect x="393.26" y="284.83" width="12.06" height="1.19" fill="#cec3e8"/>
<rect x="393.26" y="285.82" width="12.06" height="1.19" fill="#7e71ca"/>
<rect x="393.26" y="286.82" width="12.06" height="1.19" fill="#c5b8e4"/>
<rect x="393.26" y="287.81" width="12.06" height="2.19" fill="#f5dfe4"/>
<rect x="393.26" y="289.80" width="12.06" height="1.19" fill="#c6b9e4"/>
<rect x="393.26" y="290.79" width="12.06" height="1.19" fill="#f5dae0"/>
<rect x="393.26" y="291.79" width="12.06" height="1.19" fill="#e3daef"/>
<rect x="393.26" y="292.78" width="12.06" height="1.19" fill="#f5eff6"/>
<rect x="393.26" y="293.77" width="12.06" height="1.19" fill="#e6def0"/>
<rect x="393.26" y="294.77" width="12.06" height="2.19" fill="#f5dbe1"/>
<rect x="393.26" y="296.75" width="12.06" height="1.19" fill="#f6eff5"/>
<rect x="393.26" y="297.75" width="12.06" height="1.19" fill="#f5d6dc"/>
<rect x="393.26" y="298.74" width="12.06" height="1.19" fill="#f6e7ec"/>
<rect x="393.26" y="299.74" width="12.06" height="2.19" fill="#a798d9"/>
<rect x="393.26" y="301.72" width="12.06" height="2.19" fill="#ece4f2"/>
<rect x="393.26" y="303.71" width="12.06" height="1.19" fill="#f6edf3"/>
<rect x="393.26" y="304.70" width="12.06" height="1.19" fill="#d3c7e9"/>
<rect x="393.26" y="305.70" width="12.06" height="1.19" fill="#d5caea"/>
<rect x="393.26" y="306.69" width="12.06" height="1.19" fill="#ec9ca2"/>
<rect x="393.26" y="307.69" width="12.06" height="1.19" fill="#f5e0e5"/>
<rect x="393.26" y="308.68" width="12.06" height="1.19" fill="#bbade0"/>
<rect x="393.26" y="309.67" width="12.06" height="1.19" fill="#eee6f3"/>
<rect x="393.26" y="310.67" width="12.06" height="1.19" fill="#ddd3ed"/>
<rect x="393.26" y="311.66" width="12.06" height="1.19" fill="#5952be"/>
<rect x="393.26" y="312.66" width="12.06" height="1.19" fill="#d0c4e8"/>
<rect x="393.26" y="313.65" width="12.06" height="2.19" fill="#c4b8e4"/>
<rect x="393.26" y="315.64" width="12.06" height="1.19" fill="#f4d0d5"/>
<rect x="393.26" y="316.63" width="12.06" height="1.19" fill="#f4d3d8"/>
<rect x="393.26" y="317.62" width="12.06" height="1.19" fill="#9d8fd6"/>
<rect x="393.26" y="318.62" width="12.06" height="2.19" fill="#f6f0f6"/>
<rect x="393.26" y="320.61" width="12.06" height="1.19" fill="#cdc1e7"/>
<rect x="393.26" y="321.60" width="12.06" height="1.19" fill="#f6e4ea"/>
<rect x="393.26" y="322.59" width="12.06" height="1.19" fill="#f5dde2"/>
<rect x="393.26" y="323.59" width="12.06" height="1.19" fill="#f5d9df"/>
<rect x="393.26" y="324.58" width="12.06" height="1.19" fill="#ebe3f2"/>
<rect x="393.26" y="325.57" width="12.06" height="1.19" fill="#f5dfe5"/>
<rect x="393.26" y="326.57" width="12.06" height="1.19" fill="#f3ecf5"/>
<rect x="393.26" y="327.56" width="12.06" height="1.19" fill="#f1b5ba"/>
<rect x="393.26" y="328.56" width="12.06" height="1.19" fill="#bbaee1"/>
<rect x="393.26" y="329.55" width="12.06" height="1.19" fill="#f2bec3"/>
<rect x="393.26" y="330.54" width="12.06" height="1.19" fill="#ece4f2"/>
<rect x="393.26" y="331.54" width="12.06" height="1.19" fill="#eda5aa"/>
<rect x="393.26" y="332.53" width="12.06" height="1.19" fill="#cec2e7"/>
<rect x="393.26" y="333.52" width="12.06" height="2.19" fill="#e2d9ef"/>
<rect x="393.26" y="335.51" width="12.06" height="2.19" fill="#b4a6de"/>
<rect x="393.26" y="337.50" width="12.06" height="1.19" fill="#b0a2dd"/>
<rect x="393.26" y="338.49" width="12.06" height="1.19" fill="#f1eaf4"/>
<rect x="393.26" y="339.49" width="12.06" height="1.19" fill="#f4ced3"/>
<rect x="393.26" y="340.48" width="12.06" height="1.19" fill="#d0c5e8"/>
<rect x="393.26" y="341.48" width="12.06" height="1.19" fill="#f5e0e5"/>
<rect x="393.26" y="342.47" width="12.06" height="1.19" fill="#efaab0"/>
<rect x="393.26" y="343.46" width="12.06" height="1.19" fill="#f6e2e7"/>
<rect x="393.26" y="344.46" width="12.06" height="2.19" fill="#e4dbef"/>
<rect x="393.26" y="346.44" width="12.06" height="2.19" fill="#f6eff5"/>
<rect x="393.26" y="348.43" width="12.06" height="1.19" fill="#f4ced3"/>
<rect x="393.26" y="349.43" width="12.06" height="1.19" fill="#f0e9f4"/>
<rect x="393.26" y="350.42" width="12.06" height="1.19" fill="#f4d1d6"/>
<rect x="393.26" y="351.41" width="12.06" height="1.19" fill="#f3c3c8"/>
<rect x="393.26" y="352.41" width="12.06" height="1.19" fill="#efadb2"/>
<rect x="393.26" y="353.40" width="12.06" height="1.19" fill="#f3c8cd"/>
<rect x="393.26" y="354.39" width="12.06" height="1.19" fill="#f6e5ea"/>
<rect x="393.26" y="355.39" width="12.06" height="1.19" fill="#e78b91"/>
<rect x="393.26" y="356.38" width="12.06" height="1.19" fill="#cdc1e7"/>
<rect x="393.26" y="357.38" width="12.06" height="1.19" fill="#c4b8e4"/>
<rect x="393.26" y="358.37" width="12.06" height="1.19" fill="#f5d8de"/>
<rect x="393.26" y="359.36" width="12.06" height="2.19" fill="#f6e1e7"/>
<rect x="393.26" y="361.35" width="12.06" height="1.19" fill="#d4c9ea"/>
<rect x="393.26" y="362.34" width="12.06" height="2.19" fill="#f6e3e8"/>
<rect x="393.26" y="364.33" width="12.06" height="1.19" fill="#f4d1d6"/>
<rect x="393.26" y="365.33" width="12.06" height="1.19" fill="#f1eaf4"/>
<rect x="393.26" y="366.32" width="12.06" height="1.19" fill="#f1b9be"/>
<rect x="393.26" y="367.31" width="12.06" height="1.19" fill="#ddd3ed"/>
<rect x="393.26" y="368.31" width="12.06" height="1.19" fill="#b2a4dd"/>
<rect x="393.26" y="369.30" width="12.06" height="1.19" fill="#e4dbf0"/>
<rect x="393.26" y="370.30" width="12.06" height="1.19" fill="#e3daef"/>
<rect x="393.26" y="371.29" width="12.06" height="1.19" fill="#c7bae5"/>
<rect x="393.26" y="372.28" width="12.06" height="1.19" fill="#a697d9"/>
<rect x="393.26" y="373.28" width="12.06" height="1.19" fill="#efe8f3"/>
<rect x="393.26" y="374.27" width="12.06" height="1.19" fill="#ebe3f2"/>
<rect x="393.26" y="375.26" width="12.06" height="1.19" fill="#f0b4ba"/>
<rect x="393.26" y="376.26" width="12.06" height="1.19" fill="#a395d8"/>
<rect x="393.26" y="377.25" width="12.06" height="1.19" fill="#f1ebf4"/>
<rect x="393.26" y="378.25" width="12.06" height="1.19" fill="#e1d8ee"/>
<rect x="393.26" y="379.24" width="12.06" height="1.19" fill="#d1c6e9"/>
<rect x="393.26" y="380.23" width="12.06" height="2.19" fill="#f3c7cc"/>
<rect x="393.26" y="382.22" width="12.06" height="1.19" fill="#f6e2e7"/>
<rect x="393.26" y="383.21" width="12.06" height="1.19" fill="#f1eaf4"/>
<rect x="393.26" y="384.21" width="12.06" height="1.19" fill="#cfc3e8"/>
<rect x="393.26" y="385.20" width="12.06" height="1.19" fill="#e5dcf0"/>
<rect x="393.26" y="386.20" width="12.06" height="1.19" fill="#eb999f"/>
<rect x="393.26" y="387.19" width="12.06" height="2.19" fill="#cfc4e8"/>
<rect x="393.26" y="389.18" width="12.06" height="1.19" fill="#efe8f3"/>
<rect x="393.26" y="390.17" width="12.06" height="1.19" fill="#b0a2dd"/>
<rect x="393.26" y="391.16" width="12.06" height="2.19" fill="#f5d6db"/>
<rect x="393.26" y="393.15" width="12.06" height="1.19" fill="#f6eaf0"/>
<rect x="393.26" y="394.15" width="12.06" height="1.19" fill="#e7def0"/>
<rect x="393.26" y="395.14" width="12.06" height="2.19" fill="#f6eef4"/>
<rect x="393.26" y="397.13" width="12.06" height="1.19" fill="#f6ecf2"/>
<rect x="393.26" y="398.12" width="12.06" height="1.19" fill="#9d8ed5"/>
<rect x="393.26" y="399.12" width="12.06" height="1.19" fill="#f2bbc0"/>
<rect x="393.26" y="400.11" width="12.06" height="1.19" fill="#e88e95"/>
<rect x="393.26" y="401.10" width="12.06" height="1.19" fill="#ece5f3"/>
<rect x="393.26" y="402.10" width="12.06" height="1.19" fill="#f4ced3"/>
<rect x="393.26" y="403.09" width="12.06" height="1.19" fill="#ea969c"/>
<rect x="393.26" y="404.08" width="12.06" height="1.19" fill="#d1c6e9"/>
<rect x="393.26" y="405.08" width="12.06" height="1.19" fill="#f0b4b9"/>
<rect x="393.26" y="406.07" width="12.06" height="1.19" fill="#d9ceeb"/>
<rect x="393.26" y="407.07" width="12.06" height="1.19" fill="#f5dde2"/>
<rect x="393.26" y="408.06" width="12.06" height="1.19" fill="#f2bbc0"/>
<rect x="393.26" y="409.05" width="12.06" height="1.19" fill="#f4ced3"/>
<rect x="393.26" y="410.05" width="12.06" height="2.19" fill="#f3c7cc"/>
<rect x="393.26" y="412.03" width="12.06" height="1.19" fill="#f6ecf1"/>
<rect x="393.26" y="413.03" width="12.06" height="1.19" fill="#f4d0d5"/>
<rect x="393.26" y="414.02" width="12.06" height="1.19" fill="#d4c9ea"/>
<rect x="393.26" y="415.02" width="12.06" height="1.19" fill="#f4d2d7"/>
<rect x="393.26" y="416.01" width="12.06" height="1.19" fill="#f0afb5"/>
<rect x="393.26" y="417.00" width="12.06" height="1.19" fill="#dfd6ee"/>
<rect x="393.26" y="418.00" width="12.06" height="1.19" fill="#eda2a8"/>
<rect x="393.26" y="418.99" width="12.06" height="1.19" fill="#eae2f2"/>
<rect x="393.26" y="419.98" width="12.06" height="1.19" fill="#e7dff1"/>
<rect x="393.26" y="420.98" width="12.06" height="1.19" fill="#dcd2ed"/>
<rect x="393.26" y="421.97" width="12.06" height="1.19" fill="#f2c1c6"/>
<rect x="393.26" y="422.97" width="12.06" height="1.19" fill="#f5dfe5"/>
<rect x="393.26" y="423.96" width="12.06" height="2.19" fill="#f5d5db"/>
<rect x="393.26" y="425.95" width="12.06" height="1.19" fill="#e6ddf0"/>
<rect x="393.26" y="426.94" width="12.06" height="2.19" fill="#f3c6cb"/>
<rect x="393.26" y="428.93" width="12.06" height="1.19" fill="#f6eaf0"/>
<rect x="393.26" y="429.92" width="12.06" height="1.19" fill="#ec9da3"/>
<rect x="393.26" y="430.92" width="12.06" height="1.19" fill="#ece4f2"/>
<rect x="393.26" y="431.91" width="12.06" height="2.19" fill="#ec9fa5"/>
<rect x="393.26" y="433.90" width="12.06" height="1.19" fill="#f3c4c9"/>
<rect x="393.26" y="434.89" width="12.06" height="1.19" fill="#f5e0e5"/>
<rect x="393.26" y="435.89" width="12.06" height="1.19" fill="#f1babf"/>
<rect x="393.26" y="436.88" width="12.06" height="1.19" fill="#f4eef5"/>
<rect x="393.26" y="437.87" width="12.06" height="1.19" fill="#f5dbe0"/>
<rect x="393.26" y="438.87" width="12.06" height="1.19" fill="#ebe3f2"/>
<rect x="393.26" y="439.86" width="12.06" height="1.19" fill="#e37b84"/>
<rect x="393.26" y="440.85" width="12.06" height="1.19" fill="#f5dfe4"/>
<rect x="393.26" y="441.85" width="12.06" height="1.19" fill="#e1d7ee"/>
<rect x="393.26" y="442.84" width="12.06" height="1.19" fill="#e7dff1"/>
<rect x="393.26" y="443.84" width="12.06" height="1.19" fill="#ccc0e7"/>
<rect x="393.26" y="444.83" width="12.06" height="1.19" fill="#eea8ae"/>
<rect x="393.26" y="445.82" width="12.06" height="2.19" fill="#f4ccd1"/>
<rect x="393.26" y="447.81" width="12.06" height="1.19" fill="#ec9da3"/>
<rect x="393.26" y="448.80" width="12.06" height="1.19" fill="#f5dadf"/>
<rect x="393.26" y="449.80" width="12.06" height="2.19" fill="#f5e0e5"/>
<rect x="393.26" y="451.79" width="12.06" height="2.19" fill="#c5b8e4"/>
<rect x="393.26" y="453.77" width="12.06" height="1.19" fill="#e0737c"/>
<rect x="393.26" y="454.77" width="12.06" height="1.19" fill="#f6e6ec"/>
<rect x="393.26" y="455.76" width="12.06" height="1.19" fill="#f4d2d7"/>
<rect x="393.26" y="456.76" width="12.06" height="1.19" fill="#b6a9df"/>
<rect x="393.26" y="457.75" width="12.06" height="1.19" fill="#f6e4ea"/>
<rect x="393.26" y="458.74" width="12.06" height="1.19" fill="#f5e0e5"/>
<rect x="393.26" y="459.74" width="12.06" height="2.19" fill="#f1b6bb"/>
<rect x="393.26" y="461.72" width="12.06" height="1.19" fill="#f6e6eb"/>
<rect x="393.26" y="462.72" width="12.06" height="1.19" fill="#a496d8"/>
<rect x="393.26" y="463.71" width="12.06" height="1.19" fill="#f1eaf4"/>
<rect x="393.26" y="464.71" width="12.06" height="1.19" fill="#efacb2"/>
<rect x="393.26" y="465.70" width="12.06" height="1.19" fill="#f6e7ed"/>
<rect x="393.26" y="466.69" width="12.06" height="1.19" fill="#e2d9ef"/>
<rect x="393.26" y="467.69" width="12.06" height="1.19" fill="#f6e4e9"/>
<rect x="393.26" y="468.68" width="12.06" height="2.19" fill="#f4cbd0"/>
<rect x="393.26" y="470.67" width="12.06" height="1.19" fill="#ece4f2"/>
<rect x="393.26" y="471.66" width="12.06" height="1.19" fill="#f2bcc1"/>
<rect x="393.26" y="472.66" width="12.06" height="2.19" fill="#bdb0e1"/>
<rect x="393.26" y="474.64" width="12.06" height="1.19" fill="#f6eff5"/>
<rect x="393.26" y="475.64" width="12.06" height="1.19" fill="#f4d0d5"/>
<rect x="393.26" y="476.63" width="12.06" height="1.19" fill="#f6e6ec"/>
<rect x="393.26" y="477.62" width="12.06" height="1.19" fill="#efafb4"/>
<rect x="393.26" y="478.62" width="12.06" height="1.19" fill="#a899d9"/>
<rect x="393.26" y="479.61" width="12.06" height="1.19" fill="#f6e3e9"/>
<rect x="393.26" y="480.61" width="12.06" height="2.19" fill="#f5d6db"/>
<rect x="405.12" y="193.40" width="12.06" height="2.19" fill="#f5eef5"/>
<rect x="405.12" y="195.39" width="12.06" height="2.19" fill="#f6e7ec"/>
<rect x="405.12" y="197.38" width="12.06" height="1.19" fill="#cbbfe6"/>
<rect x="405.12" y="198.37" width="12.06" height="1.19" fill="#f6ecf2"/>
<rect x="405.12" y="199.36" width="12.06" height="1.19" fill="#bdb0e1"/>
<rect x="405.12" y="200.36" width="12.06" height="1.19" fill="#b4a7de"/>
<rect x="405.12" y="201.35" width="12.06" height="1.19" fill="#f4cfd5"/>
<rect x="405.12" y="202.34" width="12.06" height="1.19" fill="#f6eef4"/>
<rect x="405.12" y="203.34" width="12.06" height="1.19" fill="#f6ebf1"/>
<rect x="405.12" y="204.33" width="12.06" height="1.19" fill="#eee7f3"/>
<rect x="405.12" y="205.33" width="12.06" height="1.19" fill="#f6e4ea"/>
<rect x="405.12" y="206.32" width="12.06" height="1.19" fill="#c1b5e3"/>
<rect x="405.12" y="207.31" width="12.06" height="1.19" fill="#e0d7ee"/>
<rect x="405.12" y="208.31" width="12.06" height="1.19" fill="#e1d8ee"/>
<rect x="405.12" y="209.30" width="12.06" height="1.19" fill="#ded4ed"/>
<rect x="405.12" y="210.29" width="12.06" height="1.19" fill="#e9e1f1"/>
<rect x="405.12" y="211.29" width="12.06" height="1.19" fill="#e0d6ee"/>
<rect x="405.12" y="212.28" width="12.06" height="2.19" fill="#d6cceb"/>
<rect x="405.12" y="214.27" width="12.06" height="1.19" fill="#d3c7e9"/>
<rect x="405.12" y="215.26" width="12.06" height="1.19" fill="#c7bae5"/>
<rect x="405.12" y="216.26" width="12.06" height="1.19" fill="#f0b5ba"/>
<rect x="405.12" y="217.25" width="12.06" height="1.19" fill="#e9e1f1"/>
<rect x="405.12" y="218.24" width="12.06" height="1.19" fill="#d7cceb"/>
<rect x="405.12" y="219.24" width="12.06" height="1.19" fill="#f2c1c6"/>
<rect x="405.12" y="220.23" width="12.06" height="1.19" fill="#9a8bd4"/>
<rect x="405.12" y="221.23" width="12.06" height="1.19" fill="#f4cacf"/>
<rect x="405.12" y="222.22" width="12.06" height="1.19" fill="#c8bce5"/>
<rect x="405.12" y="223.21" width="12.06" height="1.19" fill="#f5dae0"/>
<rect x="405.12" y="224.21" width="12.06" height="1.19" fill="#f4d1d6"/>
<rect x="405.12" y="225.20" width="12.06" height="1.19" fill="#d1c6e9"/>
<rect x="405.12" y="226.20" width="12.06" height="1.19" fill="#c6b9e4"/>
<rect x="405.12" y="227.19" width="12.06" height="1.19" fill="#d9ceeb"/>
<rect x="405.12" y="228.18" width="12.06" height="1.19" fill="#f2bec3"/>
<rect x="405.12" y="229.18" width="12.06" height="1.19" fill="#f4edf5"/>
<rect x="405.12" y="230.17" width="12.06" height="1.19" fill="#897bce"/>
<rect x="405.12" y="231.16" width="12.06" height="2.19" fill="#bdb0e1"/>
<rect x="405.12" y="233.15" width="12.06" height="1.19" fill="#f6e1e7"/>
<rect x="405.12" y="234.15" width="12.06" height="2.19" fill="#f5dae0"/>
<rect x="405.12" y="236.13" width="12.06" height="1.19" fill="#f6e4ea"/>
<rect x="405.12" y="237.13" width="12.06" height="1.19" fill="#e4dbef"/>
<rect x="405.12" y="238.12" width="12.06" height="1.19" fill="#d1c6e9"/>
<rect x="405.12" y="239.11" width="12.06" height="1.19" fill="#eea6ab"/>
<rect x="405.12" y="240.11" width="12.06" height="1.19" fill="#d4c9ea"/>
<rect x="405.12" y="241.10" width="12.06" height="1.19" fill="#f2bfc4"/>
<rect x="405.12" y="242.10" width="12.06" height="1.19" fill="#f3c4c9"/>
<rect x="405.12" y="243.09" width="12.06" height="1.19" fill="#c8bce5"/>
<rect x="405.12" y="244.08" width="12.06" height="1.19" fill="#beb1e2"/>
<rect x="405.12" y="245.08" width="12.06" height="1.19" fill="#c0b3e2"/>
<rect x="405.12" y="246.07" width="12.06" height="1.19" fill="#f6ebf0"/>
<rect x="405.12" y="247.06" width="12.06" height="1.19" fill="#f5dbe0"/>
<rect x="405.12" y="248.06" width="12.06" height="2.19" fill="#f5e0e5"/>
<rect x="405.12" y="250.05" width="12.06" height="1.19" fill="#f5d4d9"/>
<rect x="405.12" y="251.04" width="12.06" height="1.19" fill="#eea6ab"/>
<rect x="405.12" y="252.03" width="12.06" height="1.19" fill="#ded4ed"/>
<rect x="405.12" y="253.03" width="12.06" height="1.19" fill="#f1b7bc"/>
<rect x="405.12" y="254.02" width="12.06" height="1.19" fill="#b0a2dd"/>
<rect x="405.12" y="255.02" width="12.06" height="1.19" fill="#f4cacf"/>
<rect x="405.12" y="256.01" width="12.06" height="2.19" fill="#f4ced3"/>
<rect x="405.12" y="258.00" width="12.06" height="1.19" fill="#d6cbea"/>
<rect x="405.12" y="258.99" width="12.06" height="1.19" fill="#cdc1e7"/>
<rect x="405.12" y="259.98" width="12.06" height="1.19" fill="#cbbfe6"/>
<rect x="405.12" y="260.98" width="12.06" height="2.19" fill="#f5dce1"/>
<rect x="405.12" y="262.97" width="12.06" height="1.19" fill="#f0e9f4"/>
<rect x="405.12" y="263.96" width="12.06" height="1.19" fill="#f2ebf4"/>
<rect x="405.12" y="264.95" width="12.06" height="1.19" fill="#f6eff6"/>
<rect x="405.12" y="265.95" width="12.06" height="1.19" fill="#efabb0"/>
<rect x="405.12" y="266.94" width="12.06" height="1.19" fill="#f6e7ec"/>
<rect x="405.12" y="267.93" width="12.06" height="1.19" fill="#c1b4e3"/>
<rect x="405.12" y="268.93" width="12.06" height="1.19" fill="#d1c6e9"/>
<rect x="405.12" y="269.92" width="12.06" height="1.19" fill="#f5d6db"/>
<rect x="405.12" y="270.92" width="12.06" height="2.19" fill="#e0d7ee"/>
<rect x="405.12" y="272.90" width="12.06" height="1.19" fill="#ede6f3"/>
<rect x="405.12" y="273.90" width="12.06" height="1.19" fill="#f5d5da"/>
<rect x="405.12" y="274.89" width="12.06" height="2.19" fill="#dbd1ec"/>
<rect x="405.12" y="276.88" width="12.06" height="1.19" fill="#f3c5ca"/>
<rect x="405.12" y="277.87" width="12.06" height="1.19" fill="#f6e6eb"/>
<rect x="405.12" y="278.87" width="12.06" height="1.19" fill="#f6e7ed"/>
<rect x="405.12" y="279.86" width="12.06" height="2.19" fill="#f1eaf4"/>
<rect x="405.12" y="281.85" width="12.06" height="1.19" fill="#f4cbd0"/>
<rect x="405.12" y="282.84" width="12.06" height="1.19" fill="#e47f87"/>
<rect x="405.12" y="283.84" width="12.06" height="1.19" fill="#ea969c"/>
<rect x="405.12" y="284.83" width="12.06" height="1.19" fill="#d1c6e9"/>
<rect x="405.12" y="285.82" width="12.06" height="1.19" fill="#f4d1d6"/>
<rect x="405.12" y="286.82" width="12.06" height="1.19" fill="#f6e7ec"/>
<rect x="405.12" y="287.81" width="12.06" height="1.19" fill="#d1c5e8"/>
<rect x="405.12" y="288.80" width="12.06" height="1.19" fill="#f2c0c5"/>
<rect x="405.12" y="289.80" width="12.06" height="1.19" fill="#ebe3f2"/>
<rect x="405.12" y="290.79" width="12.06" height="1.19" fill="#e5828a"/>
<rect x="405.12" y="291.79" width="12.06" height="1.19" fill="#b6a9df"/>
<rect x="405.12" y="292.78" width="12.06" height="1.19" fill="#cabee6"/>
<rect x="405.12" y="293.77" width="12.06" height="1.19" fill="#d8ceeb"/>
<rect x="405.12" y="294.77" width="12.06" height="1.19" fill="#f6e2e7"/>
<rect x="405.12" y="295.76" width="12.06" height="1.19" fill="#d5caea"/>
<rect x="405.12" y="296.75" width="12.06" height="1.19" fill="#d1c6e9"/>
<rect x="405.12" y="297.75" width="12.06" height="1.19" fill="#f4d1d6"/>
<rect x="405.12" y="298.74" width="12.06" height="1.19" fill="#f0b2b7"/>
<rect x="405.12" y="299.74" width="12.06" height="2.19" fill="#eda2a8"/>
<rect x="405.12" y="301.72" width="12.06" height="1.19" fill="#f5dde2"/>
<rect x="405.12" y="302.72" width="12.06" height="2.19" fill="#a596d8"/>
<rect x="405.12" y="304.70" width="12.06" height="1.19" fill="#e4dcf0"/>
<rect x="405.12" y="305.70" width="12.06" height="1.19" fill="#f1b8bd"/>
<rect x="405.12" y="306.69" width="12.06" height="1.19" fill="#ebe3f2"/>
<rect x="405.12" y="307.69" width="12.06" height="1.19" fill="#e1d7ee"/>
<rect x="405.12" y="308.68" width="12.06" height="2.19" fill="#de6c77"/>
<rect x="405.12" y="310.67" width="12.06" height="1.19" fill="#baace0"/>
<rect x="405.12" y="311.66" width="12.06" height="1.19" fill="#f2bcc1"/>
<rect x="405.12" y="312.66" width="12.06" height="1.19" fill="#f5d6dc"/>
<rect x="405.12" y="313.65" width="12.06" height="1.19" fill="#f0b5ba"/>
<rect x="405.12" y="314.64" width="12.06" height="1.19" fill="#f6e9ef"/>
<rect x="405.12" y="315.64" width="12.06" height="2.19" fill="#cdc1e7"/>
<rect x="405.12" y="317.62" width="12.06" height="1.19" fill="#f6eff6"/>
<rect x="405.12" y="318.62" width="12.06" height="1.19" fill="#afa0dc"/>
<rect x="405.12" y="319.61" width="12.06" height="1.19" fill="#ede6f3"/>
<rect x="405.12" y="320.61" width="12.06" height="1.19" fill="#efabb0"/>
<rect x="405.12" y="321.60" width="12.06" height="2.19" fill="#f4eef5"/>
<rect x="405.12" y="323.59" width="12.06" height="1.19" fill="#f5dee3"/>
<rect x="405.12" y="324.58" width="12.06" height="1.19" fill="#f3ecf5"/>
<rect x="405.12" y="325.57" width="12.06" height="1.19" fill="#f4eef5"/>
<rect x="405.12" y="326.57" width="12.06" height="1.19" fill="#d9cfec"/>
<rect x="405.12" y="327.56" width="12.06" height="2.19" fill="#ede6f3"/>
<rect x="405.12" y="329.55" width="12.06" height="1.19" fill="#cec2e7"/>
<rect x="405.12" y="330.54" width="12.06" height="1.19" fill="#f3edf5"/>
<rect x="405.12" y="331.54" width="12.06" height="2.19" fill="#f4ccd1"/>
<rect x="405.12" y="333.52" width="12.06" height="1.19" fill="#f3c8cd"/>
<rect x="405.12" y="334.52" width="12.06" height="1.19" fill="#eda2a8"/>
<rect x="405.12" y="335.51" width="12.06" height="1.19" fill="#eb999f"/>
<rect x="405.12" y="336.51" width="12.06" height="1.19" fill="#eee6f3"/>
<rect x="405.12" y="337.50" width="12.06" height="1.19" fill="#f6e3e9"/>
<rect x="405.12" y="338.49" width="12.06" height="1.19" fill="#e0d6ee"/>
<rect x="405.12" y="339.49" width="12.06" height="1.19" fill="#f5d4d9"/>
<rect x="405.12" y="340.48" width="12.06" height="1.19" fill="#d8ceeb"/>
<rect x="405.12" y="341.48" width="12.06" height="1.19" fill="#cdc2e7"/>
<rect x="405.12" y="342.47" width="12.06" height="2.19" fill="#dfd5ee"/>
<rect x="405.12" y="344.46" width="12.06" height="2.19" fill="#d5caea"/>
<rect x="405.12" y="346.44" width="12.06" height="1.19" fill="#f6e8ed"/>
<rect x="405.12" y="347.44" width="12.06" height="1.19" fill="#e6868d"/>
<rect x="405.12" y="348.43" width="12.06" height="1.19" fill="#cec3e8"/>
<rect x="405.12" y="349.43" width="12.06" height="1.19" fill="#f4eef5"/>
<rect x="405.12" y="350.42" width="12.06" height="1.19" fill="#ec9fa5"/>
<rect x="405.12" y="351.41" width="12.06" height="1.19" fill="#f4ccd1"/>
<rect x="405.12" y="352.41" width="12.06" height="2.19" fill="#9081d1"/>
<rect x="405.12" y="354.39" width="12.06" height="1.19" fill="#dad0ec"/>
<rect x="405.12" y="355.39" width="12.06" height="1.19" fill="#f5d5da"/>
<rect x="405.12" y="356.38" width="12.06" height="2.19" fill="#efaeb3"/>
<rect x="405.12" y="358.37" width="12.06" height="1.19" fill="#f5dee3"/>
<rect x="405.12" y="359.36" width="12.06" height="1.19" fill="#e3daef"/>
<rect x="405.12" y="360.36" width="12.06" height="1.19" fill="#f6edf3"/>
<rect x="405.12" y="361.35" width="12.06" height="1.19" fill="#f5dbe0"/>
<rect x="405.12" y="362.34" width="12.06" height="2.19" fill="#e99197"/>
<rect x="405.12" y="364.33" width="12.06" height="1.19" fill="#f6e5eb"/>
<rect x="405.12" y="365.33" width="12.06" height="1.19" fill="#f6ebf1"/>
<rect x="405.12" y="366.32" width="12.06" height="1.19" fill="#cabde6"/>
<rect x="405.12" y="367.31" width="12.06" height="1.19" fill="#f6edf3"/>
<rect x="405.12" y="368.31" width="12.06" height="1.19" fill="#eea8ad"/>
<rect x="405.12" y="369.30" width="12.06" height="1.19" fill="#eb989e"/>
<rect x="405.12" y="370.30" width="12.06" height="1.19" fill="#b9abe0"/>
<rect x="405.12" y="371.29" width="12.06" height="1.19" fill="#f6eef4"/>
<rect x="405.12" y="372.28" width="12.06" height="1.19" fill="#efafb4"/>
<rect x="405.12" y="373.28" width="12.06" height="2.19" fill="#f3c3c8"/>
<rect x="405.12" y="375.26" width="12.06" height="1.19" fill="#f6eff5"/>
<rect x="405.12" y="376.26" width="12.06" height="1.19" fill="#f6e3e8"/>
<rect x="405.12" y="377.25" width="12.06" height="1.19" fill="#f6eef4"/>
<rect x="405.12" y="378.25" width="12.06" height="1.19" fill="#f5d8dd"/>
<rect x="405.12" y="379.24" width="12.06" height="1.19" fill="#e3daef"/>
<rect x="405.12" y="380.23" width="12.06" height="1.19" fill="#f5d8de"/>
<rect x="405.12" y="381.23" width="12.06" height="2.19" fill="#f2bfc4"/>
<rect x="405.12" y="383.21" width="12.06" height="1.19" fill="#baace0"/>
<rect x="405.12" y="384.21" width="12.06" height="2.19" fill="#efacb1"/>
<rect x="405.12" y="386.20" width="12.06" height="1.19" fill="#c4b7e4"/>
<rect x="405.12" y="387.19" width="12.06" height="1.19" fill="#f5dfe4"/>
<rect x="405.12" y="388.18" width="12.06" height="1.19" fill="#b7a9df"/>
<rect x="405.12" y="389.18" width="12.06" height="2.19" fill="#f4cdd2"/>
<rect x="405.12" y="391.16" width="12.06" height="1.19" fill="#f5dde3"/>
<rect x="405.12" y="392.16" width="12.06" height="2.19" fill="#d0c4e8"/>
<rect x="405.12" y="394.15" width="12.06" height="1.19" fill="#e3daef"/>
<rect x="405.12" y="395.14" width="12.06" height="1.19" fill="#f2ecf5"/>
<rect x="405.12" y="396.13" width="12.06" height="1.19" fill="#f1b8bd"/>
<rect x="405.12" y="397.13" width="12.06" height="1.19" fill="#f2c0c5"/>
<rect x="405.12" y="398.12" width="12.06" height="1.19" fill="#eda3a8"/>
<rect x="405.12" y="399.12" width="12.06" height="1.19" fill="#f3edf5"/>
<rect x="405.12" y="400.11" width="12.06" height="1.19" fill="#f2bfc4"/>
<rect x="405.12" y="401.10" width="12.06" height="1.19" fill="#f1b7bc"/>
<rect x="405.12" y="402.10" width="12.06" height="1.19" fill="#f6eaf0"/>
<rect x="405.12" y="403.09" width="12.06" height="2.19" fill="#ece5f3"/>
<rect x="405.12" y="405.08" width="12.06" height="1.19" fill="#f3c5ca"/>
<rect x="405.12" y="406.07" width="12.06" height="2.19" fill="#e37d85"/>
<rect x="405.12" y="408.06" width="12.06" height="1.19" fill="#f1b9be"/>
<rect x="405.12" y="409.05" width="12.06" height="1.19" fill="#bfb2e2"/>
<rect x="405.12" y="410.05" width="12.06" height="1.19" fill="#f6eff5"/>
<rect x="405.12" y="411.04" width="12.06" height="1.19" fill="#f4d1d7"/>
<rect x="405.12" y="412.03" width="12.06" height="1.19" fill="#e99198"/>
<rect x="405.12" y="413.03" width="12.06" height="1.19" fill="#d5caea"/>
<rect x="405.12" y="414.02" width="12.06" height="1.19" fill="#ddd3ed"/>
<rect x="405.12" y="415.02" width="12.06" height="1.19" fill="#f6edf2"/>
<rect x="405.12" y="416.01" width="12.06" height="1.19" fill="#e1d8ee"/>
<rect x="405.12" y="417.00" width="12.06" height="1.19" fill="#f3c5ca"/>
<rect x="405.12" y="418.00" width="12.06" height="1.19" fill="#f4eef5"/>
<rect x="405.12" y="418.99" width="12.06" height="1.19" fill="#f4cbd0"/>
<rect x="405.12" y="419.98" width="12.06" height="1.19" fill="#f6e9ee"/>
<rect x="405.12" y="420.98" width="12.06" height="1.19" fill="#b5a7de"/>
<rect x="405.12" y="421.97" width="12.06" height="1.19" fill="#ede6f3"/>
<rect x="405.12" y="422.97" width="12.06" height="1.19" fill="#eee7f3"/>
<rect x="405.12" y="423.96" width="12.06" height="1.19" fill="#a99bda"/>
<rect x="405.12" y="424.95" width="12.06" height="1.19" fill="#f4d2d7"/>
<rect x="405.12" y="425.95" width="12.06" height="1.19" fill="#e5ddf0"/>
<rect x="405.12" y="426.94" width="12.06" height="1.19" fill="#bdb0e1"/>
<rect x="405.12" y="427.94" width="12.06" height="1.19" fill="#d3c8e9"/>
<rect x="405.12" y="428.93" width="12.06" height="1.19" fill="#e4dcf0"/>
<rect x="405.12" y="429.92" width="12.06" height="1.19" fill="#cfc4e8"/>
<rect x="405.12" y="430.92" width="12.06" height="1.19" fill="#f0e9f4"/>
<rect x="405.12" y="431.91" width="12.06" height="1.19" fill="#eae2f2"/>
<rect x="405.12" y="432.90" width="12.06" height="1.19" fill="#f5dfe5"/>
<rect x="405.12" y="433.90" width="12.06" height="1.19" fill="#8f81d1"/>
<rect x="405.12" y="434.89" width="12.06" height="2.19" fill="#b4a6de"/>
<rect x="405.12" y="436.88" width="12.06" height="1.19" fill="#ddd4ed"/>
<rect x="405.12" y="437.87" width="12.06" height="1.19" fill="#e9e1f1"/>
<rect x="405.12" y="438.87" width="12.06" height="1.19" fill="#dfd6ee"/>
<rect x="405.12" y="439.86" width="12.06" height="1.19" fill="#f6f0f6"/>
<rect x="405.12" y="440.85" width="12.06" height="1.19" fill="#f5dfe5"/>
<rect x="405.12" y="441.85" width="12.06" height="1.19" fill="#ae9fdc"/>
<rect x="405.12" y="442.84" width="12.06" height="1.19" fill="#d8ceeb"/>
<rect x="405.12" y="443.84" width="12.06" height="1.19" fill="#f4ccd1"/>
<rect x="405.12" y="444.83" width="12.06" height="1.19" fill="#b9abe0"/>
<rect x="405.12" y="445.82" width="12.06" height="1.19" fill="#f4d1d6"/>
<rect x="405.12" y="446.82" width="12.06" height="1.19" fill="#e6ddf0"/>
<rect x="405.12" y="447.81" width="12.06" height="2.19" fill="#f3c3c8"/>
<rect x="405.12" y="449.80" width="12.06" height="2.19" fill="#f0b3b8"/>
<rect x="405.12" y="451.79" width="12.06" height="1.19" fill="#e47e86"/>
<rect x="405.12" y="452.78" width="12.06" height="1.19" fill="#f3c6cb"/>
<rect x="405.12" y="453.77" width="12.06" height="2.19" fill="#f3c5ca"/>
<rect x="405.12" y="455.76" width="12.06" height="1.19" fill="#ddd4ed"/>
<rect x="405.12" y="456.76" width="12.06" height="1.19" fill="#f4cfd4"/>
<rect x="405.12" y="457.75" width="12.06" height="1.19" fill="#cdc1e7"/>
<rect x="405.12" y="458.74" width="12.06" height="1.19" fill="#b3a5dd"/>
<rect x="405.12" y="459.74" width="12.06" height="1.19" fill="#a99bda"/>
<rect x="405.12" y="460.73" width="12.06" height="2.19" fill="#f4d3d8"/>
<rect x="405.12" y="462.72" width="12.06" height="1.19" fill="#f4cdd2"/>
<rect x="405.12" y="463.71" width="12.06" height="1.19" fill="#f4ccd1"/>
<rect x="405.12" y="464.71" width="12.06" height="2.19" fill="#f6e2e8"/>
<rect x="405.12" y="466.69" width="12.06" height="2.19" fill="#f4ccd1"/>
<rect x="405.12" y="468.68" width="12.06" height="1.19" fill="#e0d7ee"/>
<rect x="405.12" y="469.67" width="12.06" height="1.19" fill="#7065c6"/>
<rect x="405.12" y="470.67" width="12.06" height="2.19" fill="#dad0ec"/>
<rect x="405.12" y="472.66" width="12.06" height="1.19" fill="#f2ebf5"/>
<rect x="405.12" y="473.65" width="12.06" height="1.19" fill="#f0e8f4"/>
<rect x="405.12" y="474.64" width="12.06" height="1.19" fill="#e47f87"/>
<rect x="405.12" y="475.64" width="12.06" height="1.19" fill="#f5dce1"/>
<rect x="405.12" y="476.63" width="12.06" height="1.19" fill="#f1eaf4"/>
<rect x="405.12" y="477.62" width="12.06" height="1.19" fill="#eca0a5"/>
<rect x="405.12" y="478.62" width="12.06" height="1.19" fill="#ede6f3"/>
<rect x="405.12" y="479.61" width="12.06" height="1.19" fill="#f3ecf5"/>
<rect x="405.12" y="480.61" width="12.06" height="1.19" fill="#f5dae0"/>
<rect x="416.99" y="193.40" width="12.06" height="1.19" fill="#f3ecf5"/>
<rect x="416.99" y="194.39" width="12.06" height="1.19" fill="#f5d4d9"/>
<rect x="416.99" y="195.39" width="12.06" height="1.19" fill="#a192d7"/>
<rect x="416.99" y="196.38" width="12.06" height="1.19" fill="#f4d0d5"/>
<rect x="416.99" y="197.38" width="12.06" height="2.19" fill="#f5d9df"/>
<rect x="416.99" y="199.36" width="12.06" height="1.19" fill="#e1d8ef"/>
<rect x="416.99" y="200.36" width="12.06" height="1.19" fill="#e3daef"/>
<rect x="416.99" y="201.35" width="12.06" height="1.19" fill="#f1b5ba"/>
<rect x="416.99" y="202.34" width="12.06" height="1.19" fill="#f5d7dc"/>
<rect x="416.99" y="203.34" width="12.06" height="2.19" fill="#cabee6"/>
<rect x="416.99" y="205.33" width="12.06" height="2.19" fill="#e6ddf0"/>
<rect x="416.99" y="207.31" width="12.06" height="1.19" fill="#b4a6de"/>
<rect x="416.99" y="208.31" width="12.06" height="2.19" fill="#f5d6db"/>
<rect x="416.99" y="210.29" width="12.06" height="1.19" fill="#ac9ddb"/>
<rect x="416.99" y="211.29" width="12.06" height="1.19" fill="#c4b8e4"/>
<rect x="416.99" y="212.28" width="12.06" height="1.19" fill="#f5eff6"/>
<rect x="416.99" y="213.28" width="12.06" height="1.19" fill="#e8e0f1"/>
<rect x="416.99" y="214.27" width="12.06" height="1.19" fill="#f4d1d7"/>
<rect x="416.99" y="215.26" width="12.06" height="1.19" fill="#f6e1e6"/>
<rect x="416.99" y="216.26" width="12.06" height="1.19" fill="#b9ace0"/>
<rect x="416.99" y="217.25" width="12.06" height="2.19" fill="#f5dde2"/>
<rect x="416.99" y="219.24" width="12.06" height="1.19" fill="#b9abe0"/>
<rect x="416.99" y="220.23" width="12.06" height="1.19" fill="#eee7f3"/>
<rect x="416.99" y="221.23" width="12.06" height="1.19" fill="#b7a9df"/>
<rect x="416.99" y="222.22" width="12.06" height="1.19" fill="#f3c8cd"/>
<rect x="416.99" y="223.21" width="12.06" height="1.19" fill="#f4eef5"/>
<rect x="416.99" y="224.21" width="12.06" height="1.19" fill="#d0c5e8"/>
<rect x="416.99" y="225.20" width="12.06" height="2.19" fill="#e4dbef"/>
<rect x="416.99" y="227.19" width="12.06" height="1.19" fill="#9b8dd5"/>
<rect x="416.99" y="228.18" width="12.06" height="2.19" fill="#d3c8e9"/>
<rect x="416.99" y="230.17" width="12.06" height="1.19" fill="#ac9edb"/>
<rect x="416.99" y="231.16" width="12.06" height="2.19" fill="#a091d7"/>
<rect x="416.99" y="233.15" width="12.06" height="1.19" fill="#8073cb"/>
<rect x="416.99" y="234.15" width="12.06" height="1.19" fill="#f3c4c9"/>
<rect x="416.99" y="235.14" width="12.06" height="1.19" fill="#a697d9"/>
<rect x="416.99" y="236.13" width="12.06" height="1.19" fill="#f4cfd4"/>
<rect x="416.99" y="237.13" width="12.06" height="2.19" fill="#dcd2ed"/>
<rect x="416.99" y="239.11" width="12.06" height="1.19" fill="#f3ecf5"/>
<rect x="416.99" y="240.11" width="12.06" height="1.19" fill="#e0d6ee"/>
<rect x="416.99" y="241.10" width="12.06" height="1.19" fill="#ebe3f2"/>
<rect x="416.99" y="242.10" width="12.06" height="1.19" fill="#b4a6de"/>
<rect x="416.99" y="243.09" width="12.06" height="2.19" fill="#b2a4dd"/>
<rect x="416.99" y="245.08" width="12.06" height="1.19" fill="#f6e1e7"/>
<rect x="416.99" y="246.07" width="12.06" height="1.19" fill="#f6e7ec"/>
<rect x="416.99" y="247.06" width="12.06" height="2.19" fill="#df6f79"/>
<rect x="416.99" y="249.05" width="12.06" height="1.19" fill="#cbbfe6"/>
<rect x="416.99" y="250.05" width="12.06" height="1.19" fill="#ece4f2"/>
<rect x="416.99" y="251.04" width="12.06" height="1.19" fill="#f6e8ee"/>
<rect x="416.99" y="252.03" width="12.06" height="1.19" fill="#a99bda"/>
<rect x="416.99" y="253.03" width="12.06" height="1.19" fill="#f2ebf5"/>
<rect x="416.99" y="254.02" width="12.06" height="1.19" fill="#bdafe1"/>
<rect x="416.99" y="255.02" width="12.06" height="1.19" fill="#f4ccd1"/>
<rect x="416.99" y="256.01" width="12.06" height="1.19" fill="#f0b3b8"/>
<rect x="416.99" y="257.00" width="12.06" height="1.19" fill="#e4dbf0"/>
<rect x="416.99" y="258.00" width="12.06" height="1.19" fill="#ac9edb"/>
<rect x="416.99" y="258.99" width="12.06" height="1.19" fill="#f1b9be"/>
<rect x="416.99" y="259.98" width="12.06" height="1.19" fill="#b1a3dd"/>
<rect x="416.99" y="260.98" width="12.06" height="1.19" fill="#5f57c0"/>
<rect x="416.99" y="261.97" width="12.06" height="1.19" fill="#f1b7bc"/>
<rect x="416.99" y="262.97" width="12.06" height="1.19" fill="#e7dff1"/>
<rect x="416.99" y="263.96" width="12.06" height="1.19" fill="#e7dff1"/>
<rect x="416.99" y="264.95" width="12.06" height="1.19" fill="#f5d9de"/>
<rect x="416.99" y="265.95" width="12.06" height="1.19" fill="#a89ada"/>
<rect x="416.99" y="266.94" width="12.06" height="1.19" fill="#f6e3e9"/>
<rect x="416.99" y="267.93" width="12.06" height="1.19" fill="#efafb4"/>
<rect x="416.99" y="268.93" width="12.06" height="1.19" fill="#bdb0e1"/>
<rect x="416.99" y="269.92" width="12.06" height="1.19" fill="#f4d1d6"/>
<rect x="416.99" y="270.92" width="12.06" height="1.19" fill="#877ace"/>
<rect x="416.99" y="271.91" width="12.06" height="2.19" fill="#f5e0e5"/>
<rect x="416.99" y="273.90" width="12.06" height="1.19" fill="#aa9cda"/>
<rect x="416.99" y="274.89" width="12.06" height="1.19" fill="#ebe3f2"/>
<rect x="416.99" y="275.88" width="12.06" height="1.19" fill="#f6eef4"/>
<rect x="416.99" y="276.88" width="12.06" height="1.19" fill="#b5a7de"/>
<rect x="416.99" y="277.87" width="12.06" height="1.19" fill="#beb1e2"/>
<rect x="416.99" y="278.87" width="12.06" height="1.19" fill="#ede6f3"/>
<rect x="416.99" y="279.86" width="12.06" height="1.19" fill="#baade0"/>
<rect x="416.99" y="280.85" width="12.06" height="1.19" fill="#f2bdc2"/>
<rect x="416.99" y="281.85" width="12.06" height="1.19" fill="#b6a8df"/>
<rect x="416.99" y="282.84" width="12.06" height="2.19" fill="#f4cfd4"/>
<rect x="416.99" y="284.83" width="12.06" height="1.19" fill="#bdafe1"/>
<rect x="416.99" y="285.82" width="12.06" height="2.19" fill="#f6ebf0"/>
<rect x="416.99" y="287.81" width="12.06" height="1.19" fill="#8b7dcf"/>
<rect x="416.99" y="288.80" width="12.06" height="1.19" fill="#d1c6e9"/>
<rect x="416.99" y="289.80" width="12.06" height="1.19" fill="#aea0dc"/>
<rect x="416.99" y="290.79" width="12.06" height="1.19" fill="#c3b6e3"/>
<rect x="416.99" y="291.79" width="12.06" height="1.19" fill="#d9cfec"/>
<rect x="416.99" y="292.78" width="12.06" height="1.19" fill="#a99bda"/>
<rect x="416.99" y="293.77" width="12.06" height="1.19" fill="#f0e9f4"/>
<rect x="416.99" y="294.77" width="12.06" height="1.19" fill="#f3c5ca"/>
<rect x="416.99" y="295.76" width="12.06" height="1.19" fill="#bcafe1"/>
<rect x="416.99" y="296.75" width="12.06" height="1.19" fill="#f5e0e5"/>
<rect x="416.99" y="297.75" width="12.06" height="1.19" fill="#f4cad0"/>
<rect x="416.99" y="298.74" width="12.06" height="1.19" fill="#f6e4e9"/>
<rect x="416.99" y="299.74" width="12.06" height="2.19" fill="#b9abe0"/>
<rect x="416.99" y="301.72" width="12.06" height="1.19" fill="#b7aadf"/>
<rect x="416.99" y="302.72" width="12.06" height="1.19" fill="#9587d3"/>
<rect x="416.99" y="303.71" width="12.06" height="1.19" fill="#776bc8"/>
<rect x="416.99" y="304.70" width="12.06" height="1.19" fill="#f3c7cc"/>
<rect x="416.99" y="305.70" width="12.06" height="1.19" fill="#baace0"/>
<rect x="416.99" y="306.69" width="12.06" height="1.19" fill="#b2a4dd"/>
<rect x="416.99" y="307.69" width="12.06" height="1.19" fill="#ae9fdc"/>
<rect x="416.99" y="308.68" width="12.06" height="1.19" fill="#b8aadf"/>
<rect x="416.99" y="309.67" width="12.06" height="1.19" fill="#afa0dc"/>
<rect x="416.99" y="310.67" width="12.06" height="1.19" fill="#e3d9ef"/>
<rect x="416.99" y="311.66" width="12.06" height="1.19" fill="#f1ebf4"/>
<rect x="416.99" y="312.66" width="12.06" height="1.19" fill="#f4d1d7"/>
<rect x="416.99" y="313.65" width="12.06" height="1.19" fill="#f3c8cd"/>
<rect x="416.99" y="314.64" width="12.06" height="1.19" fill="#f5dadf"/>
<rect x="416.99" y="315.64" width="12.06" height="1.19" fill="#f1eaf4"/>
<rect x="416.99" y="316.63" width="12.06" height="1.19" fill="#aa9bda"/>
<rect x="416.99" y="317.62" width="12.06" height="1.19" fill="#b8aadf"/>
<rect x="416.99" y="318.62" width="12.06" height="2.19" fill="#f6ecf2"/>
<rect x="416.99" y="320.61" width="12.06" height="1.19" fill="#f6eef4"/>
<rect x="416.99" y="321.60" width="12.06" height="1.19" fill="#c3b6e3"/>
<rect x="416.99" y="322.59" width="12.06" height="1.19" fill="#a091d6"/>
<rect x="416.99" y="323.59" width="12.06" height="2.19" fill="#e88e95"/>
<rect x="416.99" y="325.57" width="12.06" height="1.19" fill="#f2bec3"/>
<rect x="416.99" y="326.57" width="12.06" height="1.19" fill="#dbd1ec"/>
<rect x="416.99" y="327.56" width="12.06" height="1.19" fill="#f6e6eb"/>
<rect x="416.99" y="328.56" width="12.06" height="1.19" fill="#f2bcc1"/>
<rect x="416.99" y="329.55" width="12.06" height="2.19" fill="#f6ecf2"/>
<rect x="416.99" y="331.54" width="12.06" height="1.19" fill="#e3daef"/>
<rect x="416.99" y="332.53" width="12.06" height="1.19" fill="#d5caea"/>
<rect x="416.99" y="333.52" width="12.06" height="2.19" fill="#8073cb"/>
<rect x="416.99" y="335.51" width="12.06" height="2.19" fill="#f5dbe0"/>
<rect x="416.99" y="337.50" width="12.06" height="1.19" fill="#f3ecf5"/>
<rect x="416.99" y="338.49" width="12.06" height="1.19" fill="#f5d9df"/>
<rect x="416.99" y="339.49" width="12.06" height="2.19" fill="#eca0a6"/>
<rect x="416.99" y="341.48" width="12.06" height="1.19" fill="#f6e7ed"/>
<rect x="416.99" y="342.47" width="12.06" height="2.19" fill="#7c6fca"/>
<rect x="416.99" y="344.46" width="12.06" height="1.19" fill="#b4a6de"/>
<rect x="416.99" y="345.45" width="12.06" height="2.19" fill="#b9abe0"/>
<rect x="416.99" y="347.44" width="12.06" height="1.19" fill="#f6eff5"/>
<rect x="416.99" y="348.43" width="12.06" height="1.19" fill="#f2bec3"/>
<rect x="416.99" y="349.43" width="12.06" height="1.19" fill="#f6e8ee"/>
<rect x="416.99" y="350.42" width="12.06" height="1.19" fill="#f6eef4"/>
<rect x="416.99" y="351.41" width="12.06" height="1.19" fill="#f6f0f6"/>
<rect x="416.99" y="352.41" width="12.06" height="1.19" fill="#796cc9"/>
<rect x="416.99" y="353.40" width="12.06" height="1.19" fill="#f6eef4"/>
<rect x="416.99" y="354.39" width="12.06" height="1.19" fill="#d3c8e9"/>
<rect x="416.99" y="355.39" width="12.06" height="2.19" fill="#cfc3e8"/>
<rect x="416.99" y="357.38" width="12.06" height="1.19" fill="#8779ce"/>
<rect x="416.99" y="358.37" width="12.06" height="1.19" fill="#f0e9f4"/>
<rect x="416.99" y="359.36" width="12.06" height="2.19" fill="#e8e0f1"/>
<rect x="416.99" y="361.35" width="12.06" height="2.19" fill="#f5eff6"/>
<rect x="416.99" y="363.34" width="12.06" height="2.19" fill="#e0d6ee"/>
<rect x="416.99" y="365.33" width="12.06" height="2.19" fill="#f6e9ef"/>
<rect x="416.99" y="367.31" width="12.06" height="1.19" fill="#ece4f2"/>
<rect x="416.99" y="368.31" width="12.06" height="2.19" fill="#d6cbea"/>
<rect x="416.99" y="370.30" width="12.06" height="1.19" fill="#b8aadf"/>
<rect x="416.99" y="371.29" width="12.06" height="1.19" fill="#cbbfe6"/>
<rect x="416.99" y="372.28" width="12.06" height="1.19" fill="#ab9ddb"/>
<rect x="416.99" y="373.28" width="12.06" height="1.19" fill="#eee6f3"/>
<rect x="416.99" y="374.27" width="12.06" height="1.19" fill="#a99bda"/>
<rect x="416.99" y="375.26" width="12.06" height="1.19" fill="#ede5f3"/>
<rect x="416.99" y="376.26" width="12.06" height="1.19" fill="#f6e6eb"/>
<rect x="416.99" y="377.25" width="12.06" height="1.19" fill="#f1babf"/>
<rect x="416.99" y="378.25" width="12.06" height="1.19" fill="#e8e0f1"/>
<rect x="416.99" y="379.24" width="12.06" height="1.19" fill="#ebe3f2"/>
<rect x="416.99" y="380.23" width="12.06" height="1.19" fill="#f6e9ee"/>
<rect x="416.99" y="381.23" width="12.06" height="1.19" fill="#dcd2ed"/>
<rect x="416.99" y="382.22" width="12.06" height="1.19" fill="#f3c5ca"/>
<rect x="416.99" y="383.21" width="12.06" height="1.19" fill="#f5d9de"/>
<rect x="416.99" y="384.21" width="12.06" height="1.19" fill="#d1c6e9"/>
<rect x="416.99" y="385.20" width="12.06" height="1.19" fill="#d6cbea"/>
<rect x="416.99" y="386.20" width="12.06" height="1.19" fill="#f3c7cc"/>
<rect x="416.99" y="387.19" width="12.06" height="1.19" fill="#b5a7de"/>
<rect x="416.99" y="388.18" width="12.06" height="1.19" fill="#8c7dcf"/>
<rect x="416.99" y="389.18" width="12.06" height="1.19" fill="#eee7f3"/>
<rect x="416.99" y="390.17" width="12.06" height="2.19" fill="#e7def1"/>
<rect x="416.99" y="392.16" width="12.06" height="1.19" fill="#c6bae5"/>
<rect x="416.99" y="393.15" width="12.06" height="2.19" fill="#f6e6ec"/>
<rect x="416.99" y="395.14" width="12.06" height="1.19" fill="#efacb1"/>
<rect x="416.99" y="396.13" width="12.06" height="2.19" fill="#cec3e8"/>
<rect x="416.99" y="398.12" width="12.06" height="1.19" fill="#b7a9df"/>
<rect x="416.99" y="399.12" width="12.06" height="1.19" fill="#eb9aa0"/>
<rect x="416.99" y="400.11" width="12.06" height="1.19" fill="#dad0ec"/>
<rect x="416.99" y="401.10" width="12.06" height="1.19" fill="#cec3e8"/>
<rect x="416.99" y="402.10" width="12.06" height="1.19" fill="#f6e5eb"/>
<rect x="416.99" y="403.09" width="12.06" height="1.19" fill="#ded4ed"/>
<rect x="416.99" y="404.08" width="12.06" height="1.19" fill="#a698d9"/>
<rect x="416.99" y="405.08" width="12.06" height="1.19" fill="#f4cbd0"/>
<rect x="416.99" y="406.07" width="12.06" height="2.19" fill="#d3c8e9"/>
<rect x="416.99" y="408.06" width="12.06" height="2.19" fill="#f6e3e9"/>
<rect x="416.99" y="410.05" width="12.06" height="2.19" fill="#c2b5e3"/>
<rect x="416.99" y="412.03" width="12.06" height="1.19" fill="#f4cdd2"/>
<rect x="416.99" y="413.03" width="12.06" height="1.19" fill="#c1b4e3"/>
<rect x="416.99" y="414.02" width="12.06" height="1.19" fill="#cabee6"/>
<rect x="416.99" y="415.02" width="12.06" height="1.19" fill="#ae9fdc"/>
<rect x="416.99" y="416.01" width="12.06" height="2.19" fill="#f4d3d8"/>
<rect x="416.99" y="418.00" width="12.06" height="1.19" fill="#f0e9f4"/>
<rect x="416.99" y="418.99" width="12.06" height="1.19" fill="#bdb0e1"/>
<rect x="416.99" y="419.98" width="12.06" height="1.19" fill="#ded4ed"/>
<rect x="416.99" y="420.98" width="12.06" height="2.19" fill="#f5d4d9"/>
<rect x="416.99" y="422.97" width="12.06" height="1.19" fill="#dcd2ed"/>
<rect x="416.99" y="423.96" width="12.06" height="2.19" fill="#f6ebf0"/>
<rect x="416.99" y="425.95" width="12.06" height="1.19" fill="#d4c9ea"/>
<rect x="416.99" y="426.94" width="12.06" height="2.19" fill="#efabb1"/>
<rect x="416.99" y="428.93" width="12.06" height="1.19" fill="#d7cceb"/>
<rect x="416.99" y="429.92" width="12.06" height="2.19" fill="#f3ecf5"/>
<rect x="416.99" y="431.91" width="12.06" height="1.19" fill="#ece4f2"/>
<rect x="416.99" y="432.90" width="12.06" height="1.19" fill="#c3b7e4"/>
<rect x="416.99" y="433.90" width="12.06" height="1.19" fill="#a99bda"/>
<rect x="416.99" y="434.89" width="12.06" height="1.19" fill="#b5a7de"/>
<rect x="416.99" y="435.89" width="12.06" height="1.19" fill="#f4cdd2"/>
<rect x="416.99" y="436.88" width="12.06" height="1.19" fill="#c6b9e4"/>
<rect x="416.99" y="437.87" width="12.06" height="1.19" fill="#cec3e8"/>
<rect x="416.99" y="438.87" width="12.06" height="1.19" fill="#e7dff1"/>
<rect x="416.99" y="439.86" width="12.06" height="1.19" fill="#e9e1f1"/>
<rect x="416.99" y="440.85" width="12.06" height="1.19" fill="#f3c8cd"/>
<rect x="416.99" y="441.85" width="12.06" height="2.19" fill="#cabee6"/>
<rect x="416.99" y="443.84" width="12.06" height="1.19" fill="#f4d2d8"/>
<rect x="416.99" y="444.83" width="12.06" height="1.19" fill="#e7dff1"/>
<rect x="416.99" y="445.82" width="12.06" height="1.19" fill="#f6f0f5"/>
<rect x="416.99" y="446.82" width="12.06" height="1.19" fill="#baade0"/>
<rect x="416.99" y="447.81" width="12.06" height="2.19" fill="#cdc1e7"/>
<rect x="416.99" y="449.80" width="12.06" height="1.19" fill="#e5dcf0"/>
<rect x="416.99" y="450.79" width="12.06" height="1.19" fill="#ec9ca2"/>
<rect x="416.99" y="451.79" width="12.06" height="1.19" fill="#f6e6eb"/>
<rect x="416.99" y="452.78" width="12.06" height="1.19" fill="#c0b3e2"/>
<rect x="416.99" y="453.77" width="12.06" height="1.19" fill="#f6e1e6"/>
<rect x="416.99" y="454.77" width="12.06" height="1.19" fill="#f4d0d5"/>
<rect x="416.99" y="455.76" width="12.06" height="1.19" fill="#d9ceeb"/>
<rect x="416.99" y="456.76" width="12.06" height="1.19" fill="#e1d8ee"/>
<rect x="416.99" y="457.75" width="12.06" height="1.19" fill="#eea8ae"/>
<rect x="416.99" y="458.74" width="12.06" height="1.19" fill="#dcd3ed"/>
<rect x="416.99" y="459.74" width="12.06" height="2.19" fill="#c0b3e2"/>
<rect x="416.99" y="461.72" width="12.06" height="1.19" fill="#d3c8e9"/>
<rect x="416.99" y="462.72" width="12.06" height="1.19" fill="#f5dae0"/>
<rect x="416.99" y="463.71" width="12.06" height="2.19" fill="#f6e7ec"/>
<rect x="416.99" y="465.70" width="12.06" height="2.19" fill="#f6e1e7"/>
<rect x="416.99" y="467.69" width="12.06" height="1.19" fill="#dad0ec"/>
<rect x="416.99" y="468.68" width="12.06" height="1.19" fill="#ebe4f2"/>
<rect x="416.99" y="469.67" width="12.06" height="1.19" fill="#f6e8ed"/>
<rect x="416.99" y="470.67" width="12.06" height="1.19" fill="#f4ccd1"/>
<rect x="416.99" y="471.66" width="12.06" height="1.19" fill="#f5eff6"/>
<rect x="416.99" y="472.66" width="12.06" height="1.19" fill="#eda5aa"/>
<rect x="416.99" y="473.65" width="12.06" height="1.19" fill="#c0b3e2"/>
<rect x="416.99" y="474.64" width="12.06" height="2.19" fill="#9c8dd5"/>
<rect x="416.99" y="476.63" width="12.06" height="1.19" fill="#8c7ed0"/>
<rect x="416.99" y="477.62" width="12.06" height="1.19" fill="#d4c9ea"/>
<rect x="416.99" y="478.62" width="12.06" height="1.19" fill="#f6e5ea"/>
<rect x="416.99" y="479.61" width="12.06" height="2.19" fill="#b9abe0"/>
<rect x="428.85" y="193.40" width="12.06" height="1.19" fill="#f3c2c7"/>
<rect x="428.85" y="194.39" width="12.06" height="1.19" fill="#d75564"/>
<rect x="428.85" y="195.39" width="12.06" height="1.19" fill="#e6def0"/>
<rect x="428.85" y="196.38" width="12.06" height="1.19" fill="#f2bfc4"/>
<rect x="428.85" y="197.38" width="12.06" height="1.19" fill="#f5d9de"/>
<rect x="428.85" y="198.37" width="12.06" height="1.19" fill="#e99097"/>
<rect x="428.85" y="199.36" width="12.06" height="1.19" fill="#cbbfe6"/>
<rect x="428.85" y="200.36" width="12.06" height="1.19" fill="#f4d1d6"/>
<rect x="428.85" y="201.35" width="12.06" height="1.19" fill="#bdafe1"/>
<rect x="428.85" y="202.34" width="12.06" height="1.19" fill="#f2c1c6"/>
<rect x="428.85" y="203.34" width="12.06" height="1.19" fill="#f3c9ce"/>
<rect x="428.85" y="204.33" width="12.06" height="1.19" fill="#f4eef5"/>
<rect x="428.85" y="205.33" width="12.06" height="2.19" fill="#e2d9ef"/>
<rect x="428.85" y="207.31" width="12.06" height="1.19" fill="#f5e0e5"/>
<rect x="428.85" y="208.31" width="12.06" height="1.19" fill="#efe8f4"/>
<rect x="428.85" y="209.30" width="12.06" height="1.19" fill="#f6e2e7"/>
<rect x="428.85" y="210.29" width="12.06" height="1.19" fill="#f4cacf"/>
<rect x="428.85" y="211.29" width="12.06" height="1.19" fill="#f4d1d6"/>
<rect x="428.85" y="212.28" width="12.06" height="1.19" fill="#f3c4c9"/>
<rect x="428.85" y="213.28" width="12.06" height="1.19" fill="#9d8fd6"/>
<rect x="428.85" y="214.27" width="12.06" height="1.19" fill="#f4cdd2"/>
<rect x="428.85" y="215.26" width="12.06" height="1.19" fill="#f3c4c9"/>
<rect x="428.85" y="216.26" width="12.06" height="2.19" fill="#f6eff5"/>
<rect x="428.85" y="218.24" width="12.06" height="1.19" fill="#f4ced3"/>
<rect x="428.85" y="219.24" width="12.06" height="1.19" fill="#f5eff6"/>
<rect x="428.85" y="220.23" width="12.06" height="1.19" fill="#f1b9be"/>
<rect x="428.85" y="221.23" width="12.06" height="1.19" fill="#f1eaf4"/>
<rect x="428.85" y="222.22" width="12.06" height="1.19" fill="#dcd3ed"/>
<rect x="428.85" y="223.21" width="12.06" height="1.19" fill="#f5d5da"/>
<rect x="428.85" y="224.21" width="12.06" height="1.19" fill="#f2c1c6"/>
<rect x="428.85" y="225.20" width="12.06" height="1.19" fill="#f3c4c9"/>
<rect x="428.85" y="226.20" width="12.06" height="1.19" fill="#f6e3e9"/>
<rect x="428.85" y="227.19" width="12.06" height="1.19" fill="#e8e0f1"/>
<rect x="428.85" y="228.18" width="12.06" height="2.19" fill="#f2bcc1"/>
<rect x="428.85" y="230.17" width="12.06" height="1.19" fill="#e5dcf0"/>
<rect x="428.85" y="231.16" width="12.06" height="1.19" fill="#e7def0"/>
<rect x="428.85" y="232.16" width="12.06" height="1.19" fill="#f4d0d5"/>
<rect x="428.85" y="233.15" width="12.06" height="1.19" fill="#e2d9ef"/>
<rect x="428.85" y="234.15" width="12.06" height="1.19" fill="#f5eef6"/>
<rect x="428.85" y="235.14" width="12.06" height="1.19" fill="#dcd2ed"/>
<rect x="428.85" y="236.13" width="12.06" height="1.19" fill="#f5dfe4"/>
<rect x="428.85" y="237.13" width="12.06" height="1.19" fill="#f3c2c7"/>
<rect x="428.85" y="238.12" width="12.06" height="1.19" fill="#f0b4b9"/>
<rect x="428.85" y="239.11" width="12.06" height="2.19" fill="#dfd6ee"/>
<rect x="428.85" y="241.10" width="12.06" height="1.19" fill="#f5dce1"/>
<rect x="428.85" y="242.10" width="12.06" height="1.19" fill="#f0b2b7"/>
<rect x="428.85" y="243.09" width="12.06" height="1.19" fill="#f6eaef"/>
<rect x="428.85" y="244.08" width="12.06" height="1.19" fill="#f4cfd4"/>
<rect x="428.85" y="245.08" width="12.06" height="1.19" fill="#f6eaf0"/>
<rect x="428.85" y="246.07" width="12.06" height="1.19" fill="#f5d5da"/>
<rect x="428.85" y="247.06" width="12.06" height="1.19" fill="#f6eaf0"/>
<rect x="428.85" y="248.06" width="12.06" height="1.19" fill="#f5d9de"/>
<rect x="428.85" y="249.05" width="12.06" height="2.19" fill="#f6e2e8"/>
<rect x="428.85" y="251.04" width="12.06" height="1.19" fill="#d2c7e9"/>
<rect x="428.85" y="252.03" width="12.06" height="2.19" fill="#f6e4ea"/>
<rect x="428.85" y="254.02" width="12.06" height="1.19" fill="#f4ced3"/>
<rect x="428.85" y="255.02" width="12.06" height="1.19" fill="#f0b4ba"/>
<rect x="428.85" y="256.01" width="12.06" height="1.19" fill="#f6e6eb"/>
<rect x="428.85" y="257.00" width="12.06" height="1.19" fill="#f3c5ca"/>
<rect x="428.85" y="258.00" width="12.06" height="2.19" fill="#f5d8dd"/>
<rect x="428.85" y="259.98" width="12.06" height="1.19" fill="#bbaee0"/>
<rect x="428.85" y="260.98" width="12.06" height="2.19" fill="#f4d0d5"/>
<rect x="428.85" y="262.97" width="12.06" height="2.19" fill="#f5d8dd"/>
<rect x="428.85" y="264.95" width="12.06" height="1.19" fill="#f5dfe4"/>
<rect x="428.85" y="265.95" width="12.06" height="1.19" fill="#e8e0f1"/>
<rect x="428.85" y="266.94" width="12.06" height="2.19" fill="#e6ddf0"/>
<rect x="428.85" y="268.93" width="12.06" height="1.19" fill="#cbbfe6"/>
<rect x="428.85" y="269.92" width="12.06" height="2.19" fill="#f6e3e9"/>
<rect x="428.85" y="271.91" width="12.06" height="2.19" fill="#f5dbe0"/>
<rect x="428.85" y="273.90" width="12.06" height="1.19" fill="#efaab0"/>
<rect x="428.85" y="274.89" width="12.06" height="2.19" fill="#ac9edb"/>
<rect x="428.85" y="276.88" width="12.06" height="1.19" fill="#d7cdeb"/>
<rect x="428.85" y="277.87" width="12.06" height="1.19" fill="#ea969c"/>
<rect x="428.85" y="278.87" width="12.06" height="1.19" fill="#e37d85"/>
<rect x="428.85" y="279.86" width="12.06" height="1.19" fill="#f5d7dd"/>
<rect x="428.85" y="280.85" width="12.06" height="1.19" fill="#f3c8cd"/>
<rect x="428.85" y="281.85" width="12.06" height="1.19" fill="#ebe3f2"/>
<rect x="428.85" y="282.84" width="12.06" height="2.19" fill="#f4ccd1"/>
<rect x="428.85" y="284.83" width="12.06" height="1.19" fill="#ded5ed"/>
<rect x="428.85" y="285.82" width="12.06" height="1.19" fill="#b1a3dd"/>
<rect x="428.85" y="286.82" width="12.06" height="1.19" fill="#dbd1ec"/>
<rect x="428.85" y="287.81" width="12.06" height="2.19" fill="#e1737d"/>
<rect x="428.85" y="289.80" width="12.06" height="1.19" fill="#d2c7e9"/>
<rect x="428.85" y="290.79" width="12.06" height="1.19" fill="#f0e9f4"/>
<rect x="428.85" y="291.79" width="12.06" height="1.19" fill="#f3c6cb"/>
<rect x="428.85" y="292.78" width="12.06" height="1.19" fill="#ab9cda"/>
<rect x="428.85" y="293.77" width="12.06" height="1.19" fill="#d7cceb"/>
<rect x="428.85" y="294.77" width="12.06" height="1.19" fill="#efaeb3"/>
<rect x="428.85" y="295.76" width="12.06" height="2.19" fill="#f6f0f6"/>
<rect x="428.85" y="297.75" width="12.06" height="1.19" fill="#ccc0e7"/>
<rect x="428.85" y="298.74" width="12.06" height="1.19" fill="#f6ecf1"/>
<rect x="428.85" y="299.74" width="12.06" height="1.19" fill="#f2c1c6"/>
<rect x="428.85" y="300.73" width="12.06" height="1.19" fill="#f6e7ed"/>
<rect x="428.85" y="301.72" width="12.06" height="1.19" fill="#f3c5ca"/>
<rect x="428.85" y="302.72" width="12.06" height="1.19" fill="#f4ccd1"/>
<rect x="428.85" y="303.71" width="12.06" height="1.19" fill="#eea7ad"/>
<rect x="428.85" y="304.70" width="12.06" height="1.19" fill="#f1b9be"/>
<rect x="428.85" y="305.70" width="12.06" height="1.19" fill="#eda4aa"/>
<rect x="428.85" y="306.69" width="12.06" height="2.19" fill="#f5dadf"/>
<rect x="428.85" y="308.68" width="12.06" height="1.19" fill="#bcafe1"/>
<rect x="428.85" y="309.67" width="12.06" height="1.19" fill="#f6ebf1"/>
<rect x="428.85" y="310.67" width="12.06" height="1.19" fill="#f0b0b5"/>
<rect x="428.85" y="311.66" width="12.06" height="1.19" fill="#cec3e8"/>
<rect x="428.85" y="312.66" width="12.06" height="1.19" fill="#f2bbc0"/>
<rect x="428.85" y="313.65" width="12.06" height="2.19" fill="#f2bcc1"/>
<rect x="428.85" y="315.64" width="12.06" height="1.19" fill="#f4cfd4"/>
<rect x="428.85" y="316.63" width="12.06" height="1.19" fill="#f4d2d7"/>
<rect x="428.85" y="317.62" width="12.06" height="2.19" fill="#9d8fd6"/>
<rect x="428.85" y="319.61" width="12.06" height="1.19" fill="#baade0"/>
<rect x="428.85" y="320.61" width="12.06" height="2.19" fill="#bfb2e2"/>
<rect x="428.85" y="322.59" width="12.06" height="1.19" fill="#f6edf3"/>
<rect x="428.85" y="323.59" width="12.06" height="1.19" fill="#d8cdeb"/>
<rect x="428.85" y="324.58" width="12.06" height="2.19" fill="#b1a3dd"/>
<rect x="428.85" y="326.57" width="12.06" height="2.19" fill="#e5828a"/>
<rect x="428.85" y="328.56" width="12.06" height="1.19" fill="#f5dce2"/>
<rect x="428.85" y="329.55" width="12.06" height="1.19" fill="#dbd1ec"/>
<rect x="428.85" y="330.54" width="12.06" height="1.19" fill="#f5dbe0"/>
<rect x="428.85" y="331.54" width="12.06" height="1.19" fill="#f5d7dd"/>
<rect x="428.85" y="332.53" width="12.06" height="1.19" fill="#baade0"/>
<rect x="428.85" y="333.52" width="12.06" height="1.19" fill="#f6eff5"/>
<rect x="428.85" y="334.52" width="12.06" height="2.19" fill="#e1d8ee"/>
<rect x="428.85" y="336.51" width="12.06" height="1.19" fill="#e99198"/>
<rect x="428.85" y="337.50" width="12.06" height="1.19" fill="#d1c6e9"/>
<rect x="428.85" y="338.49" width="12.06" height="1.19" fill="#eae2f2"/>
<rect x="428.85" y="339.49" width="12.06" height="1.19" fill="#e8e0f1"/>
<rect x="428.85" y="340.48" width="12.06" height="2.19" fill="#f6e8ee"/>
<rect x="428.85" y="342.47" width="12.06" height="1.19" fill="#f4d2d8"/>
<rect x="428.85" y="343.46" width="12.06" height="2.19" fill="#ded4ed"/>
<rect x="428.85" y="345.45" width="12.06" height="1.19" fill="#d0c5e8"/>
<rect x="428.85" y="346.44" width="12.06" height="1.19" fill="#f6e6eb"/>
<rect x="428.85" y="347.44" width="12.06" height="1.19" fill="#7b6ec9"/>
<rect x="428.85" y="348.43" width="12.06" height="1.19" fill="#f1b8bd"/>
<rect x="428.85" y="349.43" width="12.06" height="1.19" fill="#f6eaef"/>
<rect x="428.85" y="350.42" width="12.06" height="2.19" fill="#e5ddf0"/>
<rect x="428.85" y="352.41" width="12.06" height="1.19" fill="#f2c0c5"/>
<rect x="428.85" y="353.40" width="12.06" height="2.19" fill="#f6e5eb"/>
<rect x="428.85" y="355.39" width="12.06" height="1.19" fill="#f6eaf0"/>
<rect x="428.85" y="356.38" width="12.06" height="1.19" fill="#efe8f4"/>
<rect x="428.85" y="357.38" width="12.06" height="1.19" fill="#f5dce1"/>
<rect x="428.85" y="358.37" width="12.06" height="1.19" fill="#ede6f3"/>
<rect x="428.85" y="359.36" width="12.06" height="1.19" fill="#f4d2d7"/>
<rect x="428.85" y="360.36" width="12.06" height="2.19" fill="#e6858d"/>
<rect x="428.85" y="362.34" width="12.06" height="1.19" fill="#e3daef"/>
<rect x="428.85" y="363.34" width="12.06" height="1.19" fill="#c4b8e4"/>
<rect x="428.85" y="364.33" width="12.06" height="1.19" fill="#f5dde2"/>
<rect x="428.85" y="365.33" width="12.06" height="1.19" fill="#f5d7dd"/>
<rect x="428.85" y="366.32" width="12.06" height="1.19" fill="#f5d8dd"/>
<rect x="428.85" y="367.31" width="12.06" height="1.19" fill="#dcd2ed"/>
<rect x="428.85" y="368.31" width="12.06" height="1.19" fill="#ece5f2"/>
<rect x="428.85" y="369.30" width="12.06" height="2.19" fill="#f2ebf5"/>
<rect x="428.85" y="371.29" width="12.06" height="2.19" fill="#f1b8bd"/>
<rect x="428.85" y="373.28" width="12.06" height="1.19" fill="#ebe4f2"/>
<rect x="428.85" y="374.27" width="12.06" height="1.19" fill="#e4dbf0"/>
<rect x="428.85" y="375.26" width="12.06" height="1.19" fill="#f4cad0"/>
<rect x="428.85" y="376.26" width="12.06" height="1.19" fill="#e5dcf0"/>
<rect x="428.85" y="377.25" width="12.06" height="1.19" fill="#f6e4e9"/>
<rect x="428.85" y="378.25" width="12.06" height="1.19" fill="#f3edf5"/>
<rect x="428.85" y="379.24" width="12.06" height="1.19" fill="#f5d3d8"/>
<rect x="428.85" y="380.23" width="12.06" height="2.19" fill="#f0b4b9"/>
<rect x="428.85" y="382.22" width="12.06" height="1.19" fill="#f2bec3"/>
<rect x="428.85" y="383.21" width="12.06" height="1.19" fill="#f6e5eb"/>
<rect x="428.85" y="384.21" width="12.06" height="1.19" fill="#cabee6"/>
<rect x="428.85" y="385.20" width="12.06" height="1.19" fill="#ebe3f2"/>
<rect x="428.85" y="386.20" width="12.06" height="1.19" fill="#e7def1"/>
<rect x="428.85" y="387.19" width="12.06" height="1.19" fill="#ec9ea3"/>
<rect x="428.85" y="388.18" width="12.06" height="2.19" fill="#ea959b"/>
<rect x="428.85" y="390.17" width="12.06" height="1.19" fill="#f3c3c8"/>
<rect x="428.85" y="391.16" width="12.06" height="1.19" fill="#a394d8"/>
<rect x="428.85" y="392.16" width="12.06" height="1.19" fill="#f4eef5"/>
<rect x="428.85" y="393.15" width="12.06" height="1.19" fill="#685ec3"/>
<rect x="428.85" y="394.15" width="12.06" height="1.19" fill="#ebe3f2"/>
<rect x="428.85" y="395.14" width="12.06" height="1.19" fill="#e7def1"/>
<rect x="428.85" y="396.13" width="12.06" height="1.19" fill="#f3c4c9"/>
<rect x="428.85" y="397.13" width="12.06" height="2.19" fill="#e1d7ee"/>
<rect x="428.85" y="399.12" width="12.06" height="2.19" fill="#e5ddf0"/>
<rect x="428.85" y="401.10" width="12.06" height="1.19" fill="#f6eef4"/>
<rect x="428.85" y="402.10" width="12.06" height="1.19" fill="#afa1dc"/>
<rect x="428.85" y="403.09" width="12.06" height="1.19" fill="#f5d9de"/>
<rect x="428.85" y="404.08" width="12.06" height="1.19" fill="#b4a7de"/>
<rect x="428.85" y="405.08" width="12.06" height="1.19" fill="#f6e6eb"/>
<rect x="428.85" y="406.07" width="12.06" height="2.19" fill="#f6ecf1"/>
<rect x="428.85" y="408.06" width="12.06" height="2.19" fill="#f5dde3"/>
<rect x="428.85" y="410.05" width="12.06" height="2.19" fill="#f6e0e6"/>
<rect x="428.85" y="412.03" width="12.06" height="1.19" fill="#9c8dd5"/>
<rect x="428.85" y="413.03" width="12.06" height="2.19" fill="#f5d8dd"/>
<rect x="428.85" y="415.02" width="12.06" height="2.19" fill="#f2bbc0"/>
<rect x="428.85" y="417.00" width="12.06" height="1.19" fill="#f3c6cb"/>
<rect x="428.85" y="418.00" width="12.06" height="1.19" fill="#dfd6ee"/>
<rect x="428.85" y="418.99" width="12.06" height="1.19" fill="#bfb2e2"/>
<rect x="428.85" y="419.98" width="12.06" height="2.19" fill="#baace0"/>
<rect x="428.85" y="421.97" width="12.06" height="1.19" fill="#d6cbea"/>
<rect x="428.85" y="422.97" width="12.06" height="1.19" fill="#f6ebf1"/>
<rect x="428.85" y="423.96" width="12.06" height="1.19" fill="#897bce"/>
<rect x="428.85" y="424.95" width="12.06" height="1.19" fill="#c9bde6"/>
<rect x="428.85" y="425.95" width="12.06" height="1.19" fill="#f1eaf4"/>
<rect x="428.85" y="426.94" width="12.06" height="1.19" fill="#bbaee1"/>
<rect x="428.85" y="427.94" width="12.06" height="1.19" fill="#f6eef4"/>
<rect x="428.85" y="428.93" width="12.06" height="1.19" fill="#f6edf3"/>
<rect x="428.85" y="429.92" width="12.06" height="2.19" fill="#bfb2e2"/>
<rect x="428.85" y="431.91" width="12.06" height="1.19" fill="#f6e1e7"/>
<rect x="428.85" y="432.90" width="12.06" height="1.19" fill="#ded4ed"/>
<rect x="428.85" y="433.90" width="12.06" height="1.19" fill="#f5dde2"/>
<rect x="428.85" y="434.89" width="12.06" height="1.19" fill="#ece4f2"/>
<rect x="428.85" y="435.89" width="12.06" height="1.19" fill="#f1bbc0"/>
<rect x="428.85" y="436.88" width="12.06" height="2.19" fill="#beb1e2"/>
<rect x="428.85" y="438.87" width="12.06" height="2.19" fill="#f3c8cd"/>
<rect x="428.85" y="440.85" width="12.06" height="2.19" fill="#e6ddf0"/>
<rect x="428.85" y="442.84" width="12.06" height="1.19" fill="#c3b7e4"/>
<rect x="428.85" y="443.84" width="12.06" height="2.19" fill="#f6e4e9"/>
<rect x="428.85" y="445.82" width="12.06" height="1.19" fill="#e0d6ee"/>
<rect x="428.85" y="446.82" width="12.06" height="1.19" fill="#e8e0f1"/>
<rect x="428.85" y="447.81" width="12.06" height="2.19" fill="#ede5f3"/>
<rect x="428.85" y="449.80" width="12.06" height="2.19" fill="#f4d1d6"/>
<rect x="428.85" y="451.79" width="12.06" height="1.19" fill="#a495d8"/>
<rect x="428.85" y="452.78" width="12.06" height="1.19" fill="#8b7dcf"/>
<rect x="428.85" y="453.77" width="12.06" height="1.19" fill="#f4ccd1"/>
<rect x="428.85" y="454.77" width="12.06" height="1.19" fill="#dad0ec"/>
<rect x="428.85" y="455.76" width="12.06" height="2.19" fill="#f4cfd4"/>
<rect x="428.85" y="457.75" width="12.06" height="2.19" fill="#c0b3e2"/>
<rect x="428.85" y="459.74" width="12.06" height="1.19" fill="#f6ecf2"/>
<rect x="428.85" y="460.73" width="12.06" height="1.19" fill="#f5dce2"/>
<rect x="428.85" y="461.72" width="12.06" height="1.19" fill="#cfc4e8"/>
<rect x="428.85" y="462.72" width="12.06" height="1.19" fill="#e4dcf0"/>
<rect x="428.85" y="463.71" width="12.06" height="1.19" fill="#f3c4c9"/>
<rect x="428.85" y="464.71" width="12.06" height="1.19" fill="#5752be"/>
<rect x="428.85" y="465.70" width="12.06" height="1.19" fill="#8d7ed0"/>
<rect x="428.85" y="466.69" width="12.06" height="1.19" fill="#d9cfeb"/>
<rect x="428.85" y="467.69" width="12.06" height="2.19" fill="#f5dbe0"/>
<rect x="428.85" y="469.67" width="12.06" height="1.19" fill="#c7bbe5"/>
<rect x="428.85" y="470.67" width="12.06" height="2.19" fill="#c2b6e3"/>
<rect x="428.85" y="472.66" width="12.06" height="1.19" fill="#cbbfe6"/>
<rect x="428.85" y="473.65" width="12.06" height="1.19" fill="#eae2f2"/>
<rect x="428.85" y="474.64" width="12.06" height="2.19" fill="#e6def0"/>
<rect x="428.85" y="476.63" width="12.06" height="1.19" fill="#f5d8dd"/>
<rect x="428.85" y="477.62" width="12.06" height="1.19" fill="#cec3e8"/>
<rect x="428.85" y="478.62" width="12.06" height="2.19" fill="#f2ebf4"/>
<rect x="428.85" y="480.61" width="12.06" height="1.19" fill="#e7dff1"/>
<rect x="440.71" y="193.40" width="12.06" height="1.19" fill="#f5dee3"/>
<rect x="440.71" y="194.39" width="12.06" height="2.19" fill="#c4b8e4"/>
<rect x="440.71" y="196.38" width="12.06" height="2.19" fill="#eeaaaf"/>
<rect x="440.71" y="198.37" width="12.06" height="1.19" fill="#f6e6eb"/>
<rect x="440.71" y="199.36" width="12.06" height="2.19" fill="#f4d2d7"/>
<rect x="440.71" y="201.35" width="12.06" height="2.19" fill="#f4d2d8"/>
<rect x="440.71" y="203.34" width="12.06" height="1.19" fill="#f5d3d8"/>
<rect x="440.71" y="204.33" width="12.06" height="2.19" fill="#f6e1e7"/>
<rect x="440.71" y="206.32" width="12.06" height="1.19" fill="#f3c9ce"/>
<rect x="440.71" y="207.31" width="12.06" height="1.19" fill="#c7bbe5"/>
<rect x="440.71" y="208.31" width="12.06" height="1.19" fill="#e9e1f1"/>
<rect x="440.71" y="209.30" width="12.06" height="1.19" fill="#c8bce5"/>
<rect x="440.71" y="210.29" width="12.06" height="1.19" fill="#f0e9f4"/>
<rect x="440.71" y="211.29" width="12.06" height="1.19" fill="#f4cfd4"/>
<rect x="440.71" y="212.28" width="12.06" height="1.19" fill="#ec9fa5"/>
<rect x="440.71" y="213.28" width="12.06" height="1.19" fill="#a799d9"/>
<rect x="440.71" y="214.27" width="12.06" height="1.19" fill="#f4ced3"/>
<rect x="440.71" y="215.26" width="12.06" height="1.19" fill="#eeaaaf"/>
<rect x="440.71" y="216.26" width="12.06" height="1.19" fill="#f5dce2"/>
<rect x="440.71" y="217.25" width="12.06" height="1.19" fill="#f1b8bd"/>
<rect x="440.71" y="218.24" width="12.06" height="1.19" fill="#f3c5ca"/>
<rect x="440.71" y="219.24" width="12.06" height="1.19" fill="#f5d9df"/>
<rect x="440.71" y="220.23" width="12.06" height="1.19" fill="#f3c4c9"/>
<rect x="440.71" y="221.23" width="12.06" height="1.19" fill="#f0b2b7"/>
<rect x="440.71" y="222.22" width="12.06" height="1.19" fill="#e78990"/>
<rect x="440.71" y="223.21" width="12.06" height="1.19" fill="#f6e1e7"/>
<rect x="440.71" y="224.21" width="12.06" height="1.19" fill="#e2d9ef"/>
<rect x="440.71" y="225.20" width="12.06" height="1.19" fill="#f5d4d9"/>
<rect x="440.71" y="226.20" width="12.06" height="1.19" fill="#f6e3e8"/>
<rect x="440.71" y="227.19" width="12.06" height="2.19" fill="#f1b8bd"/>
<rect x="440.71" y="229.18" width="12.06" height="1.19" fill="#d9ceeb"/>
<rect x="440.71" y="230.17" width="12.06" height="1.19" fill="#f4cdd2"/>
<rect x="440.71" y="231.16" width="12.06" height="1.19" fill="#f5dce1"/>
<rect x="440.71" y="232.16" width="12.06" height="1.19" fill="#e0d6ee"/>
<rect x="440.71" y="233.15" width="12.06" height="1.19" fill="#efe7f3"/>
<rect x="440.71" y="234.15" width="12.06" height="1.19" fill="#f4ced3"/>
<rect x="440.71" y="235.14" width="12.06" height="1.19" fill="#ece5f2"/>
<rect x="440.71" y="236.13" width="12.06" height="2.19" fill="#f6edf3"/>
<rect x="440.71" y="238.12" width="12.06" height="1.19" fill="#ded5ed"/>
<rect x="440.71" y="239.11" width="12.06" height="1.19" fill="#efacb2"/>
<rect x="440.71" y="240.11" width="12.06" height="1.19" fill="#f4d1d7"/>
<rect x="440.71" y="241.10" width="12.06" height="1.19" fill="#dbd0ec"/>
<rect x="440.71" y="242.10" width="12.06" height="1.19" fill="#f5d7dd"/>
<rect x="440.71" y="243.09" width="12.06" height="1.19" fill="#f3c2c7"/>
<rect x="440.71" y="244.08" width="12.06" height="1.19" fill="#eda3a9"/>
<rect x="440.71" y="245.08" width="12.06" height="1.19" fill="#f5d6db"/>
<rect x="440.71" y="246.07" width="12.06" height="1.19" fill="#f6e3e9"/>
<rect x="440.71" y="247.06" width="12.06" height="1.19" fill="#f4cdd2"/>
<rect x="440.71" y="248.06" width="12.06" height="1.19" fill="#b1a3dd"/>
<rect x="440.71" y="249.05" width="12.06" height="2.19" fill="#ebe3f2"/>
<rect x="440.71" y="251.04" width="12.06" height="1.19" fill="#aea0dc"/>
<rect x="440.71" y="252.03" width="12.06" height="1.19" fill="#f5d4d9"/>
<rect x="440.71" y="253.03" width="12.06" height="1.19" fill="#ebe4f2"/>
<rect x="440.71" y="254.02" width="12.06" height="1.19" fill="#f4cdd2"/>
<rect x="440.71" y="255.02" width="12.06" height="1.19" fill="#d7cceb"/>
<rect x="440.71" y="256.01" width="12.06" height="1.19" fill="#d4c9ea"/>
<rect x="440.71" y="257.00" width="12.06" height="1.19" fill="#e0d6ee"/>
<rect x="440.71" y="258.00" width="12.06" height="1.19" fill="#f6e6eb"/>
<rect x="440.71" y="258.99" width="12.06" height="1.19" fill="#d75564"/>
<rect x="440.71" y="259.98" width="12.06" height="2.19" fill="#c6bae5"/>
<rect x="440.71" y="261.97" width="12.06" height="1.19" fill="#dbd1ec"/>
<rect x="440.71" y="262.97" width="12.06" height="1.19" fill="#eae2f2"/>
<rect x="440.71" y="263.96" width="12.06" height="1.19" fill="#e8e0f1"/>
<rect x="440.71" y="264.95" width="12.06" height="1.19" fill="#ede6f3"/>
<rect x="440.71" y="265.95" width="12.06" height="2.19" fill="#eb9aa0"/>
<rect x="440.71" y="267.93" width="12.06" height="1.19" fill="#f0b5ba"/>
<rect x="440.71" y="268.93" width="12.06" height="1.19" fill="#e0d7ee"/>
<rect x="440.71" y="269.92" width="12.06" height="1.19" fill="#cec3e8"/>
<rect x="440.71" y="270.92" width="12.06" height="1.19" fill="#f2ecf5"/>
<rect x="440.71" y="271.91" width="12.06" height="1.19" fill="#f5d8de"/>
<rect x="440.71" y="272.90" width="12.06" height="1.19" fill="#e4dbef"/>
<rect x="440.71" y="273.90" width="12.06" height="1.19" fill="#eea8ae"/>
<rect x="440.71" y="274.89" width="12.06" height="1.19" fill="#d8ceeb"/>
<rect x="440.71" y="275.88" width="12.06" height="2.19" fill="#f1eaf4"/>
<rect x="440.71" y="277.87" width="12.06" height="1.19" fill="#f4cbd0"/>
<rect x="440.71" y="278.87" width="12.06" height="1.19" fill="#eda1a7"/>
<rect x="440.71" y="279.86" width="12.06" height="1.19" fill="#ede5f3"/>
<rect x="440.71" y="280.85" width="12.06" height="1.19" fill="#e9949a"/>
<rect x="440.71" y="281.85" width="12.06" height="1.19" fill="#c9bde6"/>
<rect x="440.71" y="282.84" width="12.06" height="1.19" fill="#eca0a6"/>
<rect x="440.71" y="283.84" width="12.06" height="1.19" fill="#f4cbd0"/>
<rect x="440.71" y="284.83" width="12.06" height="1.19" fill="#f6f0f6"/>
<rect x="440.71" y="285.82" width="12.06" height="1.19" fill="#f5dce2"/>
<rect x="440.71" y="286.82" width="12.06" height="1.19" fill="#f6ebf1"/>
<rect x="440.71" y="287.81" width="12.06" height="1.19" fill="#f1b7bc"/>
<rect x="440.71" y="288.80" width="12.06" height="1.19" fill="#f6e5ea"/>
<rect x="440.71" y="289.80" width="12.06" height="1.19" fill="#f6eef4"/>
<rect x="440.71" y="290.79" width="12.06" height="2.19" fill="#f3c2c7"/>
<rect x="440.71" y="292.78" width="12.06" height="1.19" fill="#f6e8ed"/>
<rect x="440.71" y="293.77" width="12.06" height="1.19" fill="#f5eef6"/>
<rect x="440.71" y="294.77" width="12.06" height="2.19" fill="#f5d5da"/>
<rect x="440.71" y="296.75" width="12.06" height="1.19" fill="#f4cbd0"/>
<rect x="440.71" y="297.75" width="12.06" height="1.19" fill="#f6eef4"/>
<rect x="440.71" y="298.74" width="12.06" height="1.19" fill="#f5dce1"/>
<rect x="440.71" y="299.74" width="12.06" height="1.19" fill="#e2d9ef"/>
<rect x="440.71" y="300.73" width="12.06" height="1.19" fill="#f4eef5"/>
<rect x="440.71" y="301.72" width="12.06" height="2.19" fill="#f6e6ec"/>
<rect x="440.71" y="303.71" width="12.06" height="2.19" fill="#f0b4b9"/>
<rect x="440.71" y="305.70" width="12.06" height="1.19" fill="#f4d0d6"/>
<rect x="440.71" y="306.69" width="12.06" height="1.19" fill="#f6edf3"/>
<rect x="440.71" y="307.69" width="12.06" height="1.19" fill="#f1babf"/>
<rect x="440.71" y="308.68" width="12.06" height="1.19" fill="#d5caea"/>
<rect x="440.71" y="309.67" width="12.06" height="1.19" fill="#f6eaf0"/>
<rect x="440.71" y="310.67" width="12.06" height="1.19" fill="#f6f0f6"/>
<rect x="440.71" y="311.66" width="12.06" height="1.19" fill="#f5dee3"/>
<rect x="440.71" y="312.66" width="12.06" height="1.19" fill="#d7cceb"/>
<rect x="440.71" y="313.65" width="12.06" height="1.19" fill="#f2ebf4"/>
<rect x="440.71" y="314.64" width="12.06" height="2.19" fill="#d5caea"/>
<rect x="440.71" y="316.63" width="12.06" height="1.19" fill="#f6e8ee"/>
<rect x="440.71" y="317.62" width="12.06" height="1.19" fill="#f5d5da"/>
<rect x="440.71" y="318.62" width="12.06" height="1.19" fill="#eeaaaf"/>
<rect x="440.71" y="319.61" width="12.06" height="1.19" fill="#dfd5ee"/>
<rect x="440.71" y="320.61" width="12.06" height="2.19" fill="#eea6ac"/>
<rect x="440.71" y="322.59" width="12.06" height="1.19" fill="#f4d1d6"/>
<rect x="440.71" y="323.59" width="12.06" height="2.19" fill="#f2bcc1"/>
<rect x="440.71" y="325.57" width="12.06" height="1.19" fill="#baace0"/>
<rect x="440.71" y="326.57" width="12.06" height="1.19" fill="#eda5aa"/>
<rect x="440.71" y="327.56" width="12.06" height="2.19" fill="#f5d5db"/>
<rect x="440.71" y="329.55" width="12.06" height="1.19" fill="#f5dce1"/>
<rect x="440.71" y="330.54" width="12.06" height="1.19" fill="#f4d0d6"/>
<rect x="440.71" y="331.54" width="12.06" height="2.19" fill="#f6f0f6"/>
<rect x="440.71" y="333.52" width="12.06" height="1.19" fill="#e0737c"/>
<rect x="440.71" y="334.52" width="12.06" height="1.19" fill="#f2ebf5"/>
<rect x="440.71" y="335.51" width="12.06" height="1.19" fill="#f5d8dd"/>
<rect x="440.71" y="336.51" width="12.06" height="1.19" fill="#f1babf"/>
<rect x="440.71" y="337.50" width="12.06" height="1.19" fill="#f0b3b8"/>
<rect x="440.71" y="338.49" width="12.06" height="1.19" fill="#f6eaf0"/>
<rect x="440.71" y="339.49" width="12.06" height="1.19" fill="#f6edf3"/>
<rect x="440.71" y="340.48" width="12.06" height="1.19" fill="#f2c2c7"/>
<rect x="440.71" y="341.48" width="12.06" height="1.19" fill="#ede5f3"/>
<rect x="440.71" y="342.47" width="12.06" height="1.19" fill="#f5d6db"/>
<rect x="440.71" y="343.46" width="12.06" height="2.19" fill="#ede5f3"/>
<rect x="440.71" y="345.45" width="12.06" height="1.19" fill="#d2c7e9"/>
<rect x="440.71" y="346.44" width="12.06" height="2.19" fill="#eca0a6"/>
<rect x="440.71" y="348.43" width="12.06" height="1.19" fill="#f6e7ec"/>
<rect x="440.71" y="349.43" width="12.06" height="1.19" fill="#e1d8ee"/>
<rect x="440.71" y="350.42" width="12.06" height="2.19" fill="#e99299"/>
<rect x="440.71" y="352.41" width="12.06" height="1.19" fill="#f2ecf5"/>
<rect x="440.71" y="353.40" width="12.06" height="1.19" fill="#f4ccd1"/>
<rect x="440.71" y="354.39" width="12.06" height="1.19" fill="#f4d0d5"/>
<rect x="440.71" y="355.39" width="12.06" height="1.19" fill="#f6e4ea"/>
<rect x="440.71" y="356.38" width="12.06" height="1.19" fill="#f5d9de"/>
<rect x="440.71" y="357.38" width="12.06" height="1.19" fill="#f5d9de"/>
<rect x="440.71" y="358.37" width="12.06" height="1.19" fill="#efadb3"/>
<rect x="440.71" y="359.36" width="12.06" height="1.19" fill="#f5d6db"/>
<rect x="440.71" y="360.36" width="12.06" height="2.19" fill="#f3c6cb"/>
<rect x="440.71" y="362.34" width="12.06" height="1.19" fill="#e7dff1"/>
<rect x="440.71" y="363.34" width="12.06" height="1.19" fill="#f1b8bd"/>
<rect x="440.71" y="364.33" width="12.06" height="1.19" fill="#6c62c4"/>
<rect x="440.71" y="365.33" width="12.06" height="1.19" fill="#f5d7dc"/>
<rect x="440.71" y="366.32" width="12.06" height="1.19" fill="#f5eff6"/>
<rect x="440.71" y="367.31" width="12.06" height="2.19" fill="#cbbfe6"/>
<rect x="440.71" y="369.30" width="12.06" height="1.19" fill="#f3c7cc"/>
<rect x="440.71" y="370.30" width="12.06" height="1.19" fill="#f4cfd4"/>
<rect x="440.71" y="371.29" width="12.06" height="1.19" fill="#f5dbe0"/>
<rect x="440.71" y="372.28" width="12.06" height="1.19" fill="#f2bbc0"/>
<rect x="440.71" y="373.28" width="12.06" height="1.19" fill="#f1b7bc"/>
<rect x="440.71" y="374.27" width="12.06" height="2.19" fill="#d5caea"/>
<rect x="440.71" y="376.26" width="12.06" height="1.19" fill="#ebe3f2"/>
<rect x="440.71" y="377.25" width="12.06" height="1.19" fill="#e6def0"/>
<rect x="440.71" y="378.25" width="12.06" height="1.19" fill="#f6e3e8"/>
<rect x="440.71" y="379.24" width="12.06" height="1.19" fill="#9a8cd4"/>
<rect x="440.71" y="380.23" width="12.06" height="1.19" fill="#f5d7dc"/>
<rect x="440.71" y="381.23" width="12.06" height="1.19" fill="#f0b5ba"/>
<rect x="440.71" y="382.22" width="12.06" height="1.19" fill="#f5dee3"/>
<rect x="440.71" y="383.21" width="12.06" height="2.19" fill="#9d8ed5"/>
<rect x="440.71" y="385.20" width="12.06" height="1.19" fill="#c4b7e4"/>
<rect x="440.71" y="386.20" width="12.06" height="1.19" fill="#f3c3c8"/>
<rect x="440.71" y="387.19" width="12.06" height="1.19" fill="#f6edf3"/>
<rect x="440.71" y="388.18" width="12.06" height="1.19" fill="#f5d8dd"/>
<rect x="440.71" y="389.18" width="12.06" height="1.19" fill="#f6eff5"/>
<rect x="440.71" y="390.17" width="12.06" height="2.19" fill="#f6e3e8"/>
<rect x="440.71" y="392.16" width="12.06" height="1.19" fill="#ea969c"/>
<rect x="440.71" y="393.15" width="12.06" height="1.19" fill="#b5a7de"/>
<rect x="440.71" y="394.15" width="12.06" height="1.19" fill="#dad0ec"/>
<rect x="440.71" y="395.14" width="12.06" height="1.19" fill="#f6f0f6"/>
<rect x="440.71" y="396.13" width="12.06" height="2.19" fill="#e5dcf0"/>
<rect x="440.71" y="398.12" width="12.06" height="1.19" fill="#ede5f3"/>
<rect x="440.71" y="399.12" width="12.06" height="1.19" fill="#f3c6cb"/>
<rect x="440.71" y="400.11" width="12.06" height="1.19" fill="#f2bfc4"/>
<rect x="440.71" y="401.10" width="12.06" height="1.19" fill="#eb989e"/>
<rect x="440.71" y="402.10" width="12.06" height="1.19" fill="#eae2f2"/>
<rect x="440.71" y="403.09" width="12.06" height="1.19" fill="#f6e7ed"/>
<rect x="440.71" y="404.08" width="12.06" height="1.19" fill="#f3c5ca"/>
<rect x="440.71" y="405.08" width="12.06" height="2.19" fill="#f2bfc4"/>
<rect x="440.71" y="407.07" width="12.06" height="1.19" fill="#a394d8"/>
<rect x="440.71" y="408.06" width="12.06" height="1.19" fill="#d8cdeb"/>
<rect x="440.71" y="409.05" width="12.06" height="2.19" fill="#f2bec3"/>
<rect x="440.71" y="411.04" width="12.06" height="1.19" fill="#f3edf5"/>
<rect x="440.71" y="412.03" width="12.06" height="1.19" fill="#dbd1ec"/>
<rect x="440.71" y="413.03" width="12.06" height="1.19" fill="#f6e9ee"/>
<rect x="440.71" y="414.02" width="12.06" height="1.19" fill="#d6cbea"/>
<rect x="440.71" y="415.02" width="12.06" height="1.19" fill="#ac9edb"/>
<rect x="440.71" y="416.01" width="12.06" height="1.19" fill="#f6ebf1"/>
<rect x="440.71" y="417.00" width="12.06" height="2.19" fill="#ede5f3"/>
<rect x="440.71" y="418.99" width="12.06" height="1.19" fill="#f6edf3"/>
<rect x="440.71" y="419.98" width="12.06" height="2.19" fill="#6259c1"/>
<rect x="440.71" y="421.97" width="12.06" height="1.19" fill="#f6e1e7"/>
<rect x="440.71" y="422.97" width="12.06" height="1.19" fill="#f3c2c7"/>
<rect x="440.71" y="423.96" width="12.06" height="1.19" fill="#d6cceb"/>
<rect x="440.71" y="424.95" width="12.06" height="1.19" fill="#c7bbe5"/>
<rect x="440.71" y="425.95" width="12.06" height="2.19" fill="#cdc1e7"/>
<rect x="440.71" y="427.94" width="12.06" height="1.19" fill="#f4ced3"/>
<rect x="440.71" y="428.93" width="12.06" height="1.19" fill="#d6cbea"/>
<rect x="440.71" y="429.92" width="12.06" height="1.19" fill="#f5dae0"/>
<rect x="440.71" y="430.92" width="12.06" height="1.19" fill="#baace0"/>
<rect x="440.71" y="431.91" width="12.06" height="1.19" fill="#f4edf5"/>
<rect x="440.71" y="432.90" width="12.06" height="1.19" fill="#f1b6bb"/>
<rect x="440.71" y="433.90" width="12.06" height="1.19" fill="#cec2e7"/>
<rect x="440.71" y="434.89" width="12.06" height="2.19" fill="#bfb2e2"/>
<rect x="440.71" y="436.88" width="12.06" height="1.19" fill="#d0c4e8"/>
<rect x="440.71" y="437.87" width="12.06" height="1.19" fill="#f6e5eb"/>
<rect x="440.71" y="438.87" width="12.06" height="1.19" fill="#e4dbef"/>
<rect x="440.71" y="439.86" width="12.06" height="1.19" fill="#f5dfe4"/>
<rect x="440.71" y="440.85" width="12.06" height="2.19" fill="#e6def0"/>
<rect x="440.71" y="442.84" width="12.06" height="1.19" fill="#c4b8e4"/>
<rect x="440.71" y="443.84" width="12.06" height="1.19" fill="#f6e5eb"/>
<rect x="440.71" y="444.83" width="12.06" height="1.19" fill="#f2c1c6"/>
<rect x="440.71" y="445.82" width="12.06" height="1.19" fill="#c6b9e4"/>
<rect x="440.71" y="446.82" width="12.06" height="2.19" fill="#dbd1ec"/>
<rect x="440.71" y="448.80" width="12.06" height="1.19" fill="#ddd3ed"/>
<rect x="440.71" y="449.80" width="12.06" height="2.19" fill="#796dc9"/>
<rect x="440.71" y="451.79" width="12.06" height="1.19" fill="#f5d6dc"/>
<rect x="440.71" y="452.78" width="12.06" height="1.19" fill="#ab9ddb"/>
<rect x="440.71" y="453.77" width="12.06" height="1.19" fill="#f5dadf"/>
<rect x="440.71" y="454.77" width="12.06" height="1.19" fill="#b8aadf"/>
<rect x="440.71" y="455.76" width="12.06" height="2.19" fill="#f1bbc0"/>
<rect x="440.71" y="457.75" width="12.06" height="1.19" fill="#f4ccd1"/>
<rect x="440.71" y="458.74" width="12.06" height="2.19" fill="#f3c9ce"/>
<rect x="440.71" y="460.73" width="12.06" height="2.19" fill="#eb9aa0"/>
<rect x="440.71" y="462.72" width="12.06" height="1.19" fill="#eae2f2"/>
<rect x="440.71" y="463.71" width="12.06" height="2.19" fill="#cdc1e7"/>
<rect x="440.71" y="465.70" width="12.06" height="1.19" fill="#dad0ec"/>
<rect x="440.71" y="466.69" width="12.06" height="1.19" fill="#efe7f3"/>
<rect x="440.71" y="467.69" width="12.06" height="1.19" fill="#c2b6e3"/>
<rect x="440.71" y="468.68" width="12.06" height="1.19" fill="#6e63c5"/>
<rect x="440.71" y="469.67" width="12.06" height="1.19" fill="#f6edf3"/>
<rect x="440.71" y="470.67" width="12.06" height="1.19" fill="#f6eef4"/>
<rect x="440.71" y="471.66" width="12.06" height="2.19" fill="#f6e1e6"/>
<rect x="440.71" y="473.65" width="12.06" height="1.19" fill="#e4dbef"/>
<rect x="440.71" y="474.64" width="12.06" height="1.19" fill="#f5dae0"/>
<rect x="440.71" y="475.64" width="12.06" height="1.19" fill="#f2bec3"/>
<rect x="440.71" y="476.63" width="12.06" height="1.19" fill="#f1ebf4"/>
<rect x="440.71" y="477.62" width="12.06" height="1.19" fill="#d0c5e8"/>
<rect x="440.71" y="478.62" width="12.06" height="2.19" fill="#ddd3ed"/>
<rect x="440.71" y="480.61" width="12.06" height="1.19" fill="#6b61c4"/>
<rect x="452.57" y="193.40" width="12.06" height="1.19" fill="#f4ccd1"/>
<rect x="452.57" y="194.39" width="12.06" height="1.19" fill="#e1d8ef"/>
<rect x="452.57" y="195.39" width="12.06" height="2.19" fill="#ece4f2"/>
<rect x="452.57" y="197.38" width="12.06" height="1.19" fill="#eea7ac"/>
<rect x="452.57" y="198.37" width="12.06" height="1.19" fill="#f5dee3"/>
<rect x="452.57" y="199.36" width="12.06" height="1.19" fill="#f2c0c5"/>
<rect x="452.57" y="200.36" width="12.06" height="1.19" fill="#f2bec3"/>
<rect x="452.57" y="201.35" width="12.06" height="1.19" fill="#d4c9ea"/>
<rect x="452.57" y="202.34" width="12.06" height="1.19" fill="#f6eff5"/>
<rect x="452.57" y="203.34" width="12.06" height="1.19" fill="#f5dce1"/>
<rect x="452.57" y="204.33" width="12.06" height="1.19" fill="#eca0a5"/>
<rect x="452.57" y="205.33" width="12.06" height="1.19" fill="#e6888f"/>
<rect x="452.57" y="206.32" width="12.06" height="1.19" fill="#ebe3f2"/>
<rect x="452.57" y="207.31" width="12.06" height="1.19" fill="#f6eff5"/>
<rect x="452.57" y="208.31" width="12.06" height="1.19" fill="#f0b4b9"/>
<rect x="452.57" y="209.30" width="12.06" height="1.19" fill="#f5dadf"/>
<rect x="452.57" y="210.29" width="12.06" height="1.19" fill="#a89ada"/>
<rect x="452.57" y="211.29" width="12.06" height="1.19" fill="#f5dee4"/>
<rect x="452.57" y="212.28" width="12.06" height="1.19" fill="#f1bbc0"/>
<rect x="452.57" y="213.28" width="12.06" height="2.19" fill="#e99197"/>
<rect x="452.57" y="215.26" width="12.06" height="1.19" fill="#eb9ca2"/>
<rect x="452.57" y="216.26" width="12.06" height="1.19" fill="#a092d7"/>
<rect x="452.57" y="217.25" width="12.06" height="1.19" fill="#f4ced3"/>
<rect x="452.57" y="218.24" width="12.06" height="2.19" fill="#de6a75"/>
<rect x="452.57" y="220.23" width="12.06" height="1.19" fill="#e4dcf0"/>
<rect x="452.57" y="221.23" width="12.06" height="1.19" fill="#f0b3b8"/>
<rect x="452.57" y="222.22" width="12.06" height="1.19" fill="#f6e9ee"/>
<rect x="452.57" y="223.21" width="12.06" height="1.19" fill="#f6e4ea"/>
<rect x="452.57" y="224.21" width="12.06" height="1.19" fill="#f6e3e8"/>
<rect x="452.57" y="225.20" width="12.06" height="1.19" fill="#e0d6ee"/>
<rect x="452.57" y="226.20" width="12.06" height="1.19" fill="#f1b9be"/>
<rect x="452.57" y="227.19" width="12.06" height="1.19" fill="#f6ecf2"/>
<rect x="452.57" y="228.18" width="12.06" height="2.19" fill="#e8e0f1"/>
<rect x="452.57" y="230.17" width="12.06" height="1.19" fill="#f5dadf"/>
<rect x="452.57" y="231.16" width="12.06" height="1.19" fill="#f0b1b6"/>
<rect x="452.57" y="232.16" width="12.06" height="1.19" fill="#dcd2ed"/>
<rect x="452.57" y="233.15" width="12.06" height="1.19" fill="#f6e2e8"/>
<rect x="452.57" y="234.15" width="12.06" height="2.19" fill="#f1b9be"/>
<rect x="452.57" y="236.13" width="12.06" height="1.19" fill="#e3daef"/>
<rect x="452.57" y="237.13" width="12.06" height="2.19" fill="#efafb4"/>
<rect x="452.57" y="239.11" width="12.06" height="1.19" fill="#f4d1d6"/>
<rect x="452.57" y="240.11" width="12.06" height="2.19" fill="#f5dee3"/>
<rect x="452.57" y="242.10" width="12.06" height="1.19" fill="#eea7ac"/>
<rect x="452.57" y="243.09" width="12.06" height="2.19" fill="#cfc3e8"/>
<rect x="452.57" y="245.08" width="12.06" height="1.19" fill="#f1eaf4"/>
<rect x="452.57" y="246.07" width="12.06" height="1.19" fill="#f2c1c6"/>
<rect x="452.57" y="247.06" width="12.06" height="1.19" fill="#f6edf3"/>
<rect x="452.57" y="248.06" width="12.06" height="1.19" fill="#e5dcf0"/>
<rect x="452.57" y="249.05" width="12.06" height="1.19" fill="#c6bae5"/>
<rect x="452.57" y="250.05" width="12.06" height="1.19" fill="#f6e1e6"/>
<rect x="452.57" y="251.04" width="12.06" height="2.19" fill="#f6e6ec"/>
<rect x="452.57" y="253.03" width="12.06" height="1.19" fill="#e0d6ee"/>
<rect x="452.57" y="254.02" width="12.06" height="1.19" fill="#eda2a8"/>
<rect x="452.57" y="255.02" width="12.06" height="2.19" fill="#d2c7e9"/>
<rect x="452.57" y="257.00" width="12.06" height="1.19" fill="#ec9ca2"/>
<rect x="452.57" y="258.00" width="12.06" height="1.19" fill="#d4c9ea"/>
<rect x="452.57" y="258.99" width="12.06" height="1.19" fill="#f5dadf"/>
<rect x="452.57" y="259.98" width="12.06" height="1.19" fill="#f5d9de"/>
<rect x="452.57" y="260.98" width="12.06" height="1.19" fill="#d0c4e8"/>
<rect x="452.57" y="261.97" width="12.06" height="1.19" fill="#f3c9ce"/>
<rect x="452.57" y="262.97" width="12.06" height="1.19" fill="#f3edf5"/>
<rect x="452.57" y="263.96" width="12.06" height="1.19" fill="#f6eaf0"/>
<rect x="452.57" y="264.95" width="12.06" height="1.19" fill="#f6e5eb"/>
<rect x="452.57" y="265.95" width="12.06" height="1.19" fill="#cec2e8"/>
<rect x="452.57" y="266.94" width="12.06" height="1.19" fill="#eea8ae"/>
<rect x="452.57" y="267.93" width="12.06" height="1.19" fill="#ece4f2"/>
<rect x="452.57" y="268.93" width="12.06" height="2.19" fill="#f3c3c8"/>
<rect x="452.57" y="270.92" width="12.06" height="1.19" fill="#eea7ad"/>
<rect x="452.57" y="271.91" width="12.06" height="1.19" fill="#eb999f"/>
<rect x="452.57" y="272.90" width="12.06" height="1.19" fill="#f6eaf0"/>
<rect x="452.57" y="273.90" width="12.06" height="1.19" fill="#f6e9ef"/>
<rect x="452.57" y="274.89" width="12.06" height="1.19" fill="#f3c4c9"/>
<rect x="452.57" y="275.88" width="12.06" height="2.19" fill="#f3c2c7"/>
<rect x="452.57" y="277.87" width="12.06" height="1.19" fill="#f5d9df"/>
<rect x="452.57" y="278.87" width="12.06" height="1.19" fill="#f6e6ec"/>
<rect x="452.57" y="279.86" width="12.06" height="1.19" fill="#eae2f2"/>
<rect x="452.57" y="280.85" width="12.06" height="1.19" fill="#f4cacf"/>
<rect x="452.57" y="281.85" width="12.06" height="2.19" fill="#eda3a8"/>
<rect x="452.57" y="283.84" width="12.06" height="1.19" fill="#f3c5ca"/>
<rect x="452.57" y="284.83" width="12.06" height="1.19" fill="#ea979d"/>
<rect x="452.57" y="285.82" width="12.06" height="2.19" fill="#f4ccd1"/>
<rect x="452.57" y="287.81" width="12.06" height="2.19" fill="#f5d8dd"/>
<rect x="452.57" y="289.80" width="12.06" height="1.19" fill="#f5dee3"/>
<rect x="452.57" y="290.79" width="12.06" height="1.19" fill="#f6e2e7"/>
<rect x="452.57" y="291.79" width="12.06" height="2.19" fill="#f6e2e8"/>
<rect x="452.57" y="293.77" width="12.06" height="1.19" fill="#f6e3e9"/>
<rect x="452.57" y="294.77" width="12.06" height="1.19" fill="#f5d4d9"/>
<rect x="452.57" y="295.76" width="12.06" height="1.19" fill="#f1b6bb"/>
<rect x="452.57" y="296.75" width="12.06" height="1.19" fill="#cec3e8"/>
<rect x="452.57" y="297.75" width="12.06" height="1.19" fill="#f1b7bc"/>
<rect x="452.57" y="298.74" width="12.06" height="1.19" fill="#f0b1b6"/>
<rect x="452.57" y="299.74" width="12.06" height="1.19" fill="#f4cdd2"/>
<rect x="452.57" y="300.73" width="12.06" height="1.19" fill="#ece4f2"/>
<rect x="452.57" y="301.72" width="12.06" height="1.19" fill="#ebe3f2"/>
<rect x="452.57" y="302.72" width="12.06" height="2.19" fill="#aea0dc"/>
<rect x="452.57" y="304.70" width="12.06" height="1.19" fill="#ec9ea3"/>
<rect x="452.57" y="305.70" width="12.06" height="1.19" fill="#eea9ae"/>
<rect x="452.57" y="306.69" width="12.06" height="1.19" fill="#eee7f3"/>
<rect x="452.57" y="307.69" width="12.06" height="1.19" fill="#c9bde6"/>
<rect x="452.57" y="308.68" width="12.06" height="1.19" fill="#f1b9be"/>
<rect x="452.57" y="309.67" width="12.06" height="1.19" fill="#f3c7cc"/>
<rect x="452.57" y="310.67" width="12.06" height="1.19" fill="#f4cfd4"/>
<rect x="452.57" y="311.66" width="12.06" height="2.19" fill="#f5dbe0"/>
<rect x="452.57" y="313.65" width="12.06" height="1.19" fill="#f5eff6"/>
<rect x="452.57" y="314.64" width="12.06" height="1.19" fill="#e2d9ef"/>
<rect x="452.57" y="315.64" width="12.06" height="2.19" fill="#eda4aa"/>
<rect x="452.57" y="317.62" width="12.06" height="1.19" fill="#d2c7e9"/>
<rect x="452.57" y="318.62" width="12.06" height="1.19" fill="#c0b3e2"/>
<rect x="452.57" y="319.61" width="12.06" height="1.19" fill="#f4eef5"/>
<rect x="452.57" y="320.61" width="12.06" height="1.19" fill="#d1c6e9"/>
<rect x="452.57" y="321.60" width="12.06" height="1.19" fill="#f6eaef"/>
<rect x="452.57" y="322.59" width="12.06" height="2.19" fill="#cdc2e7"/>
<rect x="452.57" y="324.58" width="12.06" height="1.19" fill="#ccc0e7"/>
<rect x="452.57" y="325.57" width="12.06" height="2.19" fill="#e6ddf0"/>
<rect x="452.57" y="327.56" width="12.06" height="1.19" fill="#f6ecf2"/>
<rect x="452.57" y="328.56" width="12.06" height="1.19" fill="#f6ebf1"/>
<rect x="452.57" y="329.55" width="12.06" height="1.19" fill="#c8bce5"/>
<rect x="452.57" y="330.54" width="12.06" height="1.19" fill="#b1a3dd"/>
<rect x="452.57" y="331.54" width="12.06" height="1.19" fill="#f4cfd5"/>
<rect x="452.57" y="332.53" width="12.06" height="1.19" fill="#f4edf5"/>
<rect x="452.57" y="333.52" width="12.06" height="1.19" fill="#e5dcf0"/>
<rect x="452.57" y="334.52" width="12.06" height="2.19" fill="#e5dcf0"/>
<rect x="452.57" y="336.51" width="12.06" height="2.19" fill="#f5dadf"/>
<rect x="452.57" y="338.49" width="12.06" height="1.19" fill="#eda5aa"/>
<rect x="452.57" y="339.49" width="12.06" height="2.19" fill="#e4dbf0"/>
<rect x="452.57" y="341.48" width="12.06" height="1.19" fill="#f5dde2"/>
<rect x="452.57" y="342.47" width="12.06" height="1.19" fill="#cabee6"/>
<rect x="452.57" y="343.46" width="12.06" height="1.19" fill="#eee7f3"/>
<rect x="452.57" y="344.46" width="12.06" height="1.19" fill="#f2bbc0"/>
<rect x="452.57" y="345.45" width="12.06" height="1.19" fill="#f0e9f4"/>
<rect x="452.57" y="346.44" width="12.06" height="1.19" fill="#cdc1e7"/>
<rect x="452.57" y="347.44" width="12.06" height="1.19" fill="#f6e6ec"/>
<rect x="452.57" y="348.43" width="12.06" height="1.19" fill="#f2ebf4"/>
<rect x="452.57" y="349.43" width="12.06" height="1.19" fill="#efe8f3"/>
<rect x="452.57" y="350.42" width="12.06" height="1.19" fill="#f1babf"/>
<rect x="452.57" y="351.41" width="12.06" height="1.19" fill="#f5dbe0"/>
<rect x="452.57" y="352.41" width="12.06" height="1.19" fill="#f0b4b9"/>
<rect x="452.57" y="353.40" width="12.06" height="1.19" fill="#dfd6ee"/>
<rect x="452.57" y="354.39" width="12.06" height="1.19" fill="#f6eff6"/>
<rect x="452.57" y="355.39" width="12.06" height="1.19" fill="#f4cdd2"/>
<rect x="452.57" y="356.38" width="12.06" height="1.19" fill="#f6ecf2"/>
<rect x="452.57" y="357.38" width="12.06" height="1.19" fill="#f5d9df"/>
<rect x="452.57" y="358.37" width="12.06" height="1.19" fill="#c0b3e2"/>
<rect x="452.57" y="359.36" width="12.06" height="1.19" fill="#de6b75"/>
<rect x="452.57" y="360.36" width="12.06" height="2.19" fill="#f6eaf0"/>
<rect x="452.57" y="362.34" width="12.06" height="1.19" fill="#b9ace0"/>
<rect x="452.57" y="363.34" width="12.06" height="1.19" fill="#f6e7ed"/>
<rect x="452.57" y="364.33" width="12.06" height="1.19" fill="#cbbfe6"/>
<rect x="452.57" y="365.33" width="12.06" height="1.19" fill="#8779ce"/>
<rect x="452.57" y="366.32" width="12.06" height="1.19" fill="#f6eff5"/>
<rect x="452.57" y="367.31" width="12.06" height="1.19" fill="#d4c9ea"/>
<rect x="452.57" y="368.31" width="12.06" height="1.19" fill="#b3a5dd"/>
<rect x="452.57" y="369.30" width="12.06" height="1.19" fill="#9587d3"/>
<rect x="452.57" y="370.30" width="12.06" height="1.19" fill="#bfb2e2"/>
<rect x="452.57" y="371.29" width="12.06" height="1.19" fill="#efadb2"/>
<rect x="452.57" y="372.28" width="12.06" height="1.19" fill="#f6e1e7"/>
<rect x="452.57" y="373.28" width="12.06" height="1.19" fill="#d6cbea"/>
<rect x="452.57" y="374.27" width="12.06" height="1.19" fill="#f6eef4"/>
<rect x="452.57" y="375.26" width="12.06" height="1.19" fill="#f6eff5"/>
<rect x="452.57" y="376.26" width="12.06" height="1.19" fill="#d4c9ea"/>
<rect x="452.57" y="377.25" width="12.06" height="1.19" fill="#f6e2e7"/>
<rect x="452.57" y="378.25" width="12.06" height="1.19" fill="#e0d6ee"/>
<rect x="452.57" y="379.24" width="12.06" height="1.19" fill="#efe7f3"/>
<rect x="452.57" y="380.23" width="12.06" height="1.19" fill="#b8abe0"/>
<rect x="452.57" y="381.23" width="12.06" height="1.19" fill="#b3a5dd"/>
<rect x="452.57" y="382.22" width="12.06" height="1.19" fill="#f5d6db"/>
<rect x="452.57" y="383.21" width="12.06" height="1.19" fill="#f6ecf2"/>
<rect x="452.57" y="384.21" width="12.06" height="1.19" fill="#ede5f3"/>
<rect x="452.57" y="385.20" width="12.06" height="1.19" fill="#f6e5eb"/>
<rect x="452.57" y="386.20" width="12.06" height="1.19" fill="#a798d9"/>
<rect x="452.57" y="387.19" width="12.06" height="1.19" fill="#cbbfe7"/>
<rect x="452.57" y="388.18" width="12.06" height="1.19" fill="#ede6f3"/>
<rect x="452.57" y="389.18" width="12.06" height="1.19" fill="#ece4f2"/>
<rect x="452.57" y="390.17" width="12.06" height="1.19" fill="#dfd6ee"/>
<rect x="452.57" y="391.16" width="12.06" height="1.19" fill="#f6e7ed"/>
<rect x="452.57" y="392.16" width="12.06" height="1.19" fill="#ddd4ed"/>
<rect x="452.57" y="393.15" width="12.06" height="1.19" fill="#ebe3f2"/>
<rect x="452.57" y="394.15" width="12.06" height="1.19" fill="#eee6f3"/>
<rect x="452.57" y="395.14" width="12.06" height="2.19" fill="#f4cbd0"/>
<rect x="452.57" y="397.13" width="12.06" height="2.19" fill="#f2bcc1"/>
<rect x="452.57" y="399.12" width="12.06" height="1.19" fill="#9284d2"/>
<rect x="452.57" y="400.11" width="12.06" height="1.19" fill="#ddd3ed"/>
<rect x="452.57" y="401.10" width="12.06" height="1.19" fill="#eca0a6"/>
<rect x="452.57" y="402.10" width="12.06" height="1.19" fill="#ddd3ed"/>
<rect x="452.57" y="403.09" width="12.06" height="1.19" fill="#eae2f2"/>
<rect x="452.57" y="404.08" width="12.06" height="1.19" fill="#f5dce1"/>
<rect x="452.57" y="405.08" width="12.06" height="1.19" fill="#f6ebf1"/>
<rect x="452.57" y="406.07" width="12.06" height="2.19" fill="#f4eef5"/>
<rect x="452.57" y="408.06" width="12.06" height="1.19" fill="#bbade0"/>
<rect x="452.57" y="409.05" width="12.06" height="1.19" fill="#f5d8dd"/>
<rect x="452.57" y="410.05" width="12.06" height="1.19" fill="#f0b3b8"/>
<rect x="452.57" y="411.04" width="12.06" height="1.19" fill="#f3ecf5"/>
<rect x="452.57" y="412.03" width="12.06" height="2.19" fill="#e6ddf0"/>
<rect x="452.57" y="414.02" width="12.06" height="1.19" fill="#f4d0d5"/>
<rect x="452.57" y="415.02" width="12.06" height="1.19" fill="#ccc1e7"/>
<rect x="452.57" y="416.01" width="12.06" height="1.19" fill="#f5e0e6"/>
<rect x="452.57" y="417.00" width="12.06" height="1.19" fill="#f4cbd0"/>
<rect x="452.57" y="418.00" width="12.06" height="1.19" fill="#e6def0"/>
<rect x="452.57" y="418.99" width="12.06" height="1.19" fill="#f5d7dd"/>
<rect x="452.57" y="419.98" width="12.06" height="1.19" fill="#8b7dcf"/>
<rect x="452.57" y="420.98" width="12.06" height="1.19" fill="#9789d3"/>
<rect x="452.57" y="421.97" width="12.06" height="1.19" fill="#a99ada"/>
<rect x="452.57" y="422.97" width="12.06" height="2.19" fill="#dcd2ed"/>
<rect x="452.57" y="424.95" width="12.06" height="1.19" fill="#4f4cbb"/>
<rect x="452.57" y="425.95" width="12.06" height="1.19" fill="#f2c2c7"/>
<rect x="452.57" y="426.94" width="12.06" height="1.19" fill="#f5d7dc"/>
<rect x="452.57" y="427.94" width="12.06" height="1.19" fill="#bbaee1"/>
<rect x="452.57" y="428.93" width="12.06" height="1.19" fill="#f5d7dc"/>
<rect x="452.57" y="429.92" width="12.06" height="2.19" fill="#d4c9ea"/>
<rect x="452.57" y="431.91" width="12.06" height="2.19" fill="#c0b3e2"/>
<rect x="452.57" y="433.90" width="12.06" height="1.19" fill="#a99bda"/>
<rect x="452.57" y="434.89" width="12.06" height="1.19" fill="#f6edf3"/>
<rect x="452.57" y="435.89" width="12.06" height="2.19" fill="#cdc1e7"/>
<rect x="452.57" y="437.87" width="12.06" height="1.19" fill="#f3c8cd"/>
<rect x="452.57" y="438.87" width="12.06" height="1.19" fill="#f5d3d8"/>
<rect x="452.57" y="439.86" width="12.06" height="1.19" fill="#a293d7"/>
<rect x="452.57" y="440.85" width="12.06" height="1.19" fill="#e3daef"/>
<rect x="452.57" y="441.85" width="12.06" height="2.19" fill="#bfb2e2"/>
<rect x="452.57" y="443.84" width="12.06" height="1.19" fill="#b7aadf"/>
<rect x="452.57" y="444.83" width="12.06" height="1.19" fill="#bfb2e2"/>
<rect x="452.57" y="445.82" width="12.06" height="1.19" fill="#c5b8e4"/>
<rect x="452.57" y="446.82" width="12.06" height="1.19" fill="#c3b6e3"/>
<rect x="452.57" y="447.81" width="12.06" height="2.19" fill="#f2ebf4"/>
<rect x="452.57" y="449.80" width="12.06" height="1.19" fill="#c9bde6"/>
<rect x="452.57" y="450.79" width="12.06" height="1.19" fill="#b8aadf"/>
<rect x="452.57" y="451.79" width="12.06" height="1.19" fill="#e7def0"/>
<rect x="452.57" y="452.78" width="12.06" height="1.19" fill="#f0b2b7"/>
<rect x="452.57" y="453.77" width="12.06" height="1.19" fill="#f5d9de"/>
<rect x="452.57" y="454.77" width="12.06" height="2.19" fill="#f6f0f6"/>
<rect x="452.57" y="456.76" width="12.06" height="1.19" fill="#f5dde2"/>
<rect x="452.57" y="457.75" width="12.06" height="1.19" fill="#e1d8ef"/>
<rect x="452.57" y="458.74" width="12.06" height="1.19" fill="#d6cbea"/>
<rect x="452.57" y="459.74" width="12.06" height="1.19" fill="#b5a7de"/>
<rect x="452.57" y="460.73" width="12.06" height="1.19" fill="#a89ada"/>
<rect x="452.57" y="461.72" width="12.06" height="1.19" fill="#ab9ddb"/>
<rect x="452.57" y="462.72" width="12.06" height="1.19" fill="#f2bec3"/>
<rect x="452.57" y="463.71" width="12.06" height="1.19" fill="#afa0dc"/>
<rect x="452.57" y="464.71" width="12.06" height="1.19" fill="#f4d2d7"/>
<rect x="452.57" y="465.70" width="12.06" height="1.19" fill="#bfb2e2"/>
<rect x="452.57" y="466.69" width="12.06" height="2.19" fill="#f3c5ca"/>
<rect x="452.57" y="468.68" width="12.06" height="2.19" fill="#d7cdeb"/>
<rect x="452.57" y="470.67" width="12.06" height="1.19" fill="#f1b8bd"/>
<rect x="452.57" y="471.66" width="12.06" height="1.19" fill="#e1d8ee"/>
<rect x="452.57" y="472.66" width="12.06" height="1.19" fill="#f3c8cd"/>
<rect x="452.57" y="473.65" width="12.06" height="1.19" fill="#baade0"/>
<rect x="452.57" y="474.64" width="12.06" height="1.19" fill="#b4a6de"/>
<rect x="452.57" y="475.64" width="12.06" height="2.19" fill="#f4cfd4"/>
<rect x="452.57" y="477.62" width="12.06" height="1.19" fill="#f2c0c5"/>
<rect x="452.57" y="478.62" width="12.06" height="1.19" fill="#cbbfe6"/>
<rect x="452.57" y="479.61" width="12.06" height="1.19" fill="#eae2f2"/>
<rect x="452.57" y="480.61" width="12.06" height="2.19" fill="#d5caea"/>
<rect x="464.44" y="193.40" width="12.06" height="1.19" fill="#f2bfc4"/>
<rect x="464.44" y="194.39" width="12.06" height="2.19" fill="#f4d3d8"/>
<rect x="464.44" y="196.38" width="12.06" height="1.19" fill="#efadb2"/>
<rect x="464.44" y="197.38" width="12.06" height="2.19" fill="#f3c5ca"/>
<rect x="464.44" y="199.36" width="12.06" height="1.19" fill="#eda4a9"/>
<rect x="464.44" y="200.36" width="12.06" height="1.19" fill="#f6e6ec"/>
<rect x="464.44" y="201.35" width="12.06" height="1.19" fill="#f2c1c6"/>
<rect x="464.44" y="202.34" width="12.06" height="1.19" fill="#cbbfe6"/>
<rect x="464.44" y="203.34" width="12.06" height="1.19" fill="#f6edf3"/>
<rect x="464.44" y="204.33" width="12.06" height="1.19" fill="#ea969c"/>
<rect x="464.44" y="205.33" width="12.06" height="1.19" fill="#e99298"/>
<rect x="464.44" y="206.32" width="12.06" height="2.19" fill="#f4d1d6"/>
<rect x="464.44" y="208.31" width="12.06" height="1.19" fill="#9788d3"/>
<rect x="464.44" y="209.30" width="12.06" height="1.19" fill="#cfc4e8"/>
<rect x="464.44" y="210.29" width="12.06" height="1.19" fill="#f0b0b5"/>
<rect x="464.44" y="211.29" width="12.06" height="1.19" fill="#c7bae5"/>
<rect x="464.44" y="212.28" width="12.06" height="1.19" fill="#f4cbd0"/>
<rect x="464.44" y="213.28" width="12.06" height="1.19" fill="#f5dee4"/>
<rect x="464.44" y="214.27" width="12.06" height="1.19" fill="#e88c93"/>
<rect x="464.44" y="215.26" width="12.06" height="2.19" fill="#f1b9be"/>
<rect x="464.44" y="217.25" width="12.06" height="2.19" fill="#e0737c"/>
<rect x="464.44" y="219.24" width="12.06" height="1.19" fill="#f3c9ce"/>
<rect x="464.44" y="220.23" width="12.06" height="1.19" fill="#f5d9de"/>
<rect x="464.44" y="221.23" width="12.06" height="1.19" fill="#f6e3e9"/>
<rect x="464.44" y="222.22" width="12.06" height="2.19" fill="#d3c8e9"/>
<rect x="464.44" y="224.21" width="12.06" height="1.19" fill="#9a8bd4"/>
<rect x="464.44" y="225.20" width="12.06" height="1.19" fill="#f6e3e8"/>
<rect x="464.44" y="226.20" width="12.06" height="1.19" fill="#d6cbea"/>
<rect x="464.44" y="227.19" width="12.06" height="1.19" fill="#e5dcf0"/>
<rect x="464.44" y="228.18" width="12.06" height="1.19" fill="#d3c8e9"/>
<rect x="464.44" y="229.18" width="12.06" height="1.19" fill="#f4cbd0"/>
<rect x="464.44" y="230.17" width="12.06" height="1.19" fill="#ede6f3"/>
<rect x="464.44" y="231.16" width="12.06" height="1.19" fill="#f5d6db"/>
<rect x="464.44" y="232.16" width="12.06" height="1.19" fill="#f6e7ed"/>
<rect x="464.44" y="233.15" width="12.06" height="1.19" fill="#d2c6e9"/>
<rect x="464.44" y="234.15" width="12.06" height="1.19" fill="#b4a7de"/>
<rect x="464.44" y="235.14" width="12.06" height="1.19" fill="#e7def1"/>
<rect x="464.44" y="236.13" width="12.06" height="1.19" fill="#eb9aa0"/>
<rect x="464.44" y="237.13" width="12.06" height="2.19" fill="#f1b6bb"/>
<rect x="464.44" y="239.11" width="12.06" height="1.19" fill="#f5d5da"/>
<rect x="464.44" y="240.11" width="12.06" height="1.19" fill="#f5d9de"/>
<rect x="464.44" y="241.10" width="12.06" height="2.19" fill="#ac9edb"/>
<rect x="464.44" y="243.09" width="12.06" height="1.19" fill="#f4cdd2"/>
<rect x="464.44" y="244.08" width="12.06" height="1.19" fill="#f2ebf5"/>
<rect x="464.44" y="245.08" width="12.06" height="1.19" fill="#f6e3e9"/>
<rect x="464.44" y="246.07" width="12.06" height="2.19" fill="#f3c7cc"/>
<rect x="464.44" y="248.06" width="12.06" height="1.19" fill="#f2c1c6"/>
<rect x="464.44" y="249.05" width="12.06" height="1.19" fill="#f5eef6"/>
<rect x="464.44" y="250.05" width="12.06" height="1.19" fill="#f4cacf"/>
<rect x="464.44" y="251.04" width="12.06" height="1.19" fill="#f2c1c6"/>
<rect x="464.44" y="252.03" width="12.06" height="1.19" fill="#f6e7ed"/>
<rect x="464.44" y="253.03" width="12.06" height="1.19" fill="#f4edf5"/>
<rect x="464.44" y="254.02" width="12.06" height="1.19" fill="#f3c5ca"/>
<rect x="464.44" y="255.02" width="12.06" height="2.19" fill="#b3a5de"/>
<rect x="464.44" y="257.00" width="12.06" height="1.19" fill="#efabb0"/>
<rect x="464.44" y="258.00" width="12.06" height="1.19" fill="#e2d9ef"/>
<rect x="464.44" y="258.99" width="12.06" height="1.19" fill="#e88f95"/>
<rect x="464.44" y="259.98" width="12.06" height="2.19" fill="#f6e6ec"/>
<rect x="464.44" y="261.97" width="12.06" height="1.19" fill="#f3c6cb"/>
<rect x="464.44" y="262.97" width="12.06" height="1.19" fill="#d5caea"/>
<rect x="464.44" y="263.96" width="12.06" height="1.19" fill="#f6eff5"/>
<rect x="464.44" y="264.95" width="12.06" height="1.19" fill="#f6ebf1"/>
<rect x="464.44" y="265.95" width="12.06" height="1.19" fill="#e8e0f1"/>
<rect x="464.44" y="266.94" width="12.06" height="1.19" fill="#baace0"/>
<rect x="464.44" y="267.93" width="12.06" height="1.19" fill="#f4d1d7"/>
<rect x="464.44" y="268.93" width="12.06" height="1.19" fill="#f5d4d9"/>
<rect x="464.44" y="269.92" width="12.06" height="2.19" fill="#f6e4e9"/>
<rect x="464.44" y="271.91" width="12.06" height="1.19" fill="#f3c6cb"/>
<rect x="464.44" y="272.90" width="12.06" height="1.19" fill="#f5dee3"/>
<rect x="464.44" y="273.90" width="12.06" height="1.19" fill="#f5dbe1"/>
<rect x="464.44" y="274.89" width="12.06" height="2.19" fill="#f3c7cc"/>
<rect x="464.44" y="276.88" width="12.06" height="2.19" fill="#9586d3"/>
<rect x="464.44" y="278.87" width="12.06" height="1.19" fill="#f3c7cc"/>
<rect x="464.44" y="279.86" width="12.06" height="1.19" fill="#f5d9df"/>
<rect x="464.44" y="280.85" width="12.06" height="1.19" fill="#f6f0f5"/>
<rect x="464.44" y="281.85" width="12.06" height="1.19" fill="#e88e95"/>
<rect x="464.44" y="282.84" width="12.06" height="1.19" fill="#f3c9ce"/>
<rect x="464.44" y="283.84" width="12.06" height="2.19" fill="#f6ecf2"/>
<rect x="464.44" y="285.82" width="12.06" height="2.19" fill="#f6e5ea"/>
<rect x="464.44" y="287.81" width="12.06" height="1.19" fill="#baade0"/>
<rect x="464.44" y="288.80" width="12.06" height="1.19" fill="#f6e4e9"/>
<rect x="464.44" y="289.80" width="12.06" height="1.19" fill="#e7def0"/>
<rect x="464.44" y="290.79" width="12.06" height="1.19" fill="#f6eaf0"/>
<rect x="464.44" y="291.79" width="12.06" height="2.19" fill="#f5d4da"/>
<rect x="464.44" y="293.77" width="12.06" height="1.19" fill="#f5d9de"/>
<rect x="464.44" y="294.77" width="12.06" height="1.19" fill="#c6b9e4"/>
<rect x="464.44" y="295.76" width="12.06" height="1.19" fill="#f3c3c8"/>
<rect x="464.44" y="296.75" width="12.06" height="1.19" fill="#f6eff5"/>
<rect x="464.44" y="297.75" width="12.06" height="1.19" fill="#e9e0f1"/>
<rect x="464.44" y="298.74" width="12.06" height="1.19" fill="#e99198"/>
<rect x="464.44" y="299.74" width="12.06" height="1.19" fill="#f4ced3"/>
<rect x="464.44" y="300.73" width="12.06" height="1.19" fill="#efacb1"/>
<rect x="464.44" y="301.72" width="12.06" height="2.19" fill="#c5b9e4"/>
<rect x="464.44" y="303.71" width="12.06" height="1.19" fill="#f4eef5"/>
<rect x="464.44" y="304.70" width="12.06" height="2.19" fill="#f3c4c9"/>
<rect x="464.44" y="306.69" width="12.06" height="1.19" fill="#f1b6bb"/>
<rect x="464.44" y="307.69" width="12.06" height="1.19" fill="#eda2a8"/>
<rect x="464.44" y="308.68" width="12.06" height="1.19" fill="#f2bdc2"/>
<rect x="464.44" y="309.67" width="12.06" height="1.19" fill="#f6ebf1"/>
<rect x="464.44" y="310.67" width="12.06" height="1.19" fill="#f5dbe1"/>
<rect x="464.44" y="311.66" width="12.06" height="1.19" fill="#efadb2"/>
<rect x="464.44" y="312.66" width="12.06" height="1.19" fill="#b6a9df"/>
<rect x="464.44" y="313.65" width="12.06" height="1.19" fill="#f5d4da"/>
<rect x="464.44" y="314.64" width="12.06" height="1.19" fill="#f6eef4"/>
<rect x="464.44" y="315.64" width="12.06" height="1.19" fill="#ede5f3"/>
<rect x="464.44" y="316.63" width="12.06" height="1.19" fill="#f0e9f4"/>
<rect x="464.44" y="317.62" width="12.06" height="2.19" fill="#dbd1ec"/>
<rect x="464.44" y="319.61" width="12.06" height="2.19" fill="#f2c1c6"/>
<rect x="464.44" y="321.60" width="12.06" height="1.19" fill="#f5d9de"/>
<rect x="464.44" y="322.59" width="12.06" height="1.19" fill="#eda3a9"/>
<rect x="464.44" y="323.59" width="12.06" height="1.19" fill="#b2a4dd"/>
<rect x="464.44" y="324.58" width="12.06" height="1.19" fill="#eee7f3"/>
<rect x="464.44" y="325.57" width="12.06" height="2.19" fill="#f4cacf"/>
<rect x="464.44" y="327.56" width="12.06" height="2.19" fill="#f6eff5"/>
<rect x="464.44" y="329.55" width="12.06" height="1.19" fill="#d6cbea"/>
<rect x="464.44" y="330.54" width="12.06" height="1.19" fill="#f6e7ed"/>
<rect x="464.44" y="331.54" width="12.06" height="1.19" fill="#a496d8"/>
<rect x="464.44" y="332.53" width="12.06" height="2.19" fill="#f6e6eb"/>
<rect x="464.44" y="334.52" width="12.06" height="2.19" fill="#f0eaf4"/>
<rect x="464.44" y="336.51" width="12.06" height="1.19" fill="#f3c7cc"/>
<rect x="464.44" y="337.50" width="12.06" height="1.19" fill="#ede6f3"/>
<rect x="464.44" y="338.49" width="12.06" height="1.19" fill="#f3c9ce"/>
<rect x="464.44" y="339.49" width="12.06" height="1.19" fill="#f6e3e9"/>
<rect x="464.44" y="340.48" width="12.06" height="1.19" fill="#f6eff5"/>
<rect x="464.44" y="341.48" width="12.06" height="1.19" fill="#eea5ab"/>
<rect x="464.44" y="342.47" width="12.06" height="1.19" fill="#f6e7ed"/>
<rect x="464.44" y="343.46" width="12.06" height="1.19" fill="#cfc3e8"/>
<rect x="464.44" y="344.46" width="12.06" height="2.19" fill="#a99bda"/>
<rect x="464.44" y="346.44" width="12.06" height="1.19" fill="#f5dbe0"/>
<rect x="464.44" y="347.44" width="12.06" height="1.19" fill="#cabee6"/>
<rect x="464.44" y="348.43" width="12.06" height="1.19" fill="#d8ceeb"/>
<rect x="464.44" y="349.43" width="12.06" height="1.19" fill="#e1d7ee"/>
<rect x="464.44" y="350.42" width="12.06" height="1.19" fill="#f4eef5"/>
<rect x="464.44" y="351.41" width="12.06" height="1.19" fill="#cfc3e8"/>
<rect x="464.44" y="352.41" width="12.06" height="1.19" fill="#e1d8ee"/>
<rect x="464.44" y="353.40" width="12.06" height="1.19" fill="#c9bde6"/>
<rect x="464.44" y="354.39" width="12.06" height="1.19" fill="#f2bcc1"/>
<rect x="464.44" y="355.39" width="12.06" height="1.19" fill="#efafb4"/>
<rect x="464.44" y="356.38" width="12.06" height="1.19" fill="#f6eef4"/>
<rect x="464.44" y="357.38" width="12.06" height="1.19" fill="#f6e4ea"/>
<rect x="464.44" y="358.37" width="12.06" height="1.19" fill="#f5e0e5"/>
<rect x="464.44" y="359.36" width="12.06" height="1.19" fill="#f5dbe1"/>
<rect x="464.44" y="360.36" width="12.06" height="2.19" fill="#f4d2d8"/>
<rect x="464.44" y="362.34" width="12.06" height="1.19" fill="#e6ddf0"/>
<rect x="464.44" y="363.34" width="12.06" height="2.19" fill="#f4d2d7"/>
<rect x="464.44" y="365.33" width="12.06" height="2.19" fill="#f4ced3"/>
<rect x="464.44" y="367.31" width="12.06" height="1.19" fill="#f6e7ed"/>
<rect x="464.44" y="368.31" width="12.06" height="1.19" fill="#dcd2ec"/>
<rect x="464.44" y="369.30" width="12.06" height="1.19" fill="#f5dfe4"/>
<rect x="464.44" y="370.30" width="12.06" height="1.19" fill="#ede6f3"/>
<rect x="464.44" y="371.29" width="12.06" height="1.19" fill="#bbaee1"/>
<rect x="464.44" y="372.28" width="12.06" height="1.19" fill="#e5848b"/>
<rect x="464.44" y="373.28" width="12.06" height="1.19" fill="#f6e6eb"/>
<rect x="464.44" y="374.27" width="12.06" height="2.19" fill="#f5dee3"/>
<rect x="464.44" y="376.26" width="12.06" height="1.19" fill="#eea8ad"/>
<rect x="464.44" y="377.25" width="12.06" height="1.19" fill="#f5dce1"/>
<rect x="464.44" y="378.25" width="12.06" height="1.19" fill="#f4d3d8"/>
<rect x="464.44" y="379.24" width="12.06" height="1.19" fill="#c9bde6"/>
<rect x="464.44" y="380.23" width="12.06" height="1.19" fill="#f4ced3"/>
<rect x="464.44" y="381.23" width="12.06" height="2.19" fill="#f6e1e7"/>
<rect x="464.44" y="383.21" width="12.06" height="2.19" fill="#e9e1f1"/>
<rect x="464.44" y="385.20" width="12.06" height="1.19" fill="#f6eaf0"/>
<rect x="464.44" y="386.20" width="12.06" height="2.19" fill="#f0b3b9"/>
<rect x="464.44" y="388.18" width="12.06" height="1.19" fill="#f6e8ee"/>
<rect x="464.44" y="389.18" width="12.06" height="1.19" fill="#e5ddf0"/>
<rect x="464.44" y="390.17" width="12.06" height="1.19" fill="#f0b3b8"/>
<rect x="464.44" y="391.16" width="12.06" height="1.19" fill="#f5e0e5"/>
<rect x="464.44" y="392.16" width="12.06" height="1.19" fill="#c6bae5"/>
<rect x="464.44" y="393.15" width="12.06" height="1.19" fill="#efabb0"/>
<rect x="464.44" y="394.15" width="12.06" height="2.19" fill="#f6eaf0"/>
<rect x="464.44" y="396.13" width="12.06" height="1.19" fill="#f3ecf5"/>
<rect x="464.44" y="397.13" width="12.06" height="1.19" fill="#eda2a7"/>
<rect x="464.44" y="398.12" width="12.06" height="1.19" fill="#f5e0e5"/>
<rect x="464.44" y="399.12" width="12.06" height="2.19" fill="#eae2f2"/>
<rect x="464.44" y="401.10" width="12.06" height="1.19" fill="#ddd4ed"/>
<rect x="464.44" y="402.10" width="12.06" height="1.19" fill="#f4d2d8"/>
<rect x="464.44" y="403.09" width="12.06" height="1.19" fill="#e88d94"/>
<rect x="464.44" y="404.08" width="12.06" height="1.19" fill="#eca0a5"/>
<rect x="464.44" y="405.08" width="12.06" height="1.19" fill="#f5eef5"/>
<rect x="464.44" y="406.07" width="12.06" height="1.19" fill="#a293d7"/>
<rect x="464.44" y="407.07" width="12.06" height="1.19" fill="#ece4f2"/>
<rect x="464.44" y="408.06" width="12.06" height="2.19" fill="#d5cbea"/>
<rect x="464.44" y="410.05" width="12.06" height="1.19" fill="#d2c7e9"/>
<rect x="464.44" y="411.04" width="12.06" height="1.19" fill="#efe8f3"/>
<rect x="464.44" y="412.03" width="12.06" height="1.19" fill="#d6cbea"/>
<rect x="464.44" y="413.03" width="12.06" height="2.19" fill="#f2bec3"/>
<rect x="464.44" y="415.02" width="12.06" height="1.19" fill="#ea979d"/>
<rect x="464.44" y="416.01" width="12.06" height="1.19" fill="#e6ddf0"/>
<rect x="464.44" y="417.00" width="12.06" height="1.19" fill="#f1b6bb"/>
<rect x="464.44" y="418.00" width="12.06" height="1.19" fill="#e7dff1"/>
<rect x="464.44" y="418.99" width="12.06" height="2.19" fill="#8d7fd0"/>
<rect x="464.44" y="420.98" width="12.06" height="1.19" fill="#9688d3"/>
<rect x="464.44" y="421.97" width="12.06" height="2.19" fill="#f5dadf"/>
<rect x="464.44" y="423.96" width="12.06" height="1.19" fill="#e9e1f1"/>
<rect x="464.44" y="424.95" width="12.06" height="1.19" fill="#a99bda"/>
<rect x="464.44" y="425.95" width="12.06" height="1.19" fill="#efadb2"/>
<rect x="464.44" y="426.94" width="12.06" height="1.19" fill="#dacfec"/>
<rect x="464.44" y="427.94" width="12.06" height="1.19" fill="#eee7f3"/>
<rect x="464.44" y="428.93" width="12.06" height="2.19" fill="#f2bfc4"/>
<rect x="464.44" y="430.92" width="12.06" height="1.19" fill="#f4d1d6"/>
<rect x="464.44" y="431.91" width="12.06" height="1.19" fill="#beb1e2"/>
<rect x="464.44" y="432.90" width="12.06" height="1.19" fill="#d1c6e9"/>
<rect x="464.44" y="433.90" width="12.06" height="1.19" fill="#c1b4e3"/>
<rect x="464.44" y="434.89" width="12.06" height="1.19" fill="#d9cfec"/>
<rect x="464.44" y="435.89" width="12.06" height="1.19" fill="#f5eff6"/>
<rect x="464.44" y="436.88" width="12.06" height="2.19" fill="#f5d4d9"/>
<rect x="464.44" y="438.87" width="12.06" height="1.19" fill="#cec2e7"/>
<rect x="464.44" y="439.86" width="12.06" height="1.19" fill="#d6cbea"/>
<rect x="464.44" y="440.85" width="12.06" height="1.19" fill="#f2c1c6"/>
<rect x="464.44" y="441.85" width="12.06" height="1.19" fill="#b1a3dd"/>
<rect x="464.44" y="442.84" width="12.06" height="1.19" fill="#f5dde3"/>
<rect x="464.44" y="443.84" width="12.06" height="1.19" fill="#d9cfec"/>
<rect x="464.44" y="444.83" width="12.06" height="1.19" fill="#f5e0e6"/>
<rect x="464.44" y="445.82" width="12.06" height="1.19" fill="#f5d8dd"/>
<rect x="464.44" y="446.82" width="12.06" height="1.19" fill="#b3a5dd"/>
<rect x="464.44" y="447.81" width="12.06" height="1.19" fill="#f5dde2"/>
<rect x="464.44" y="448.80" width="12.06" height="1.19" fill="#f6e8ee"/>
<rect x="464.44" y="449.80" width="12.06" height="1.19" fill="#bcafe1"/>
<rect x="464.44" y="450.79" width="12.06" height="1.19" fill="#9f91d6"/>
<rect x="464.44" y="451.79" width="12.06" height="1.19" fill="#e4dcf0"/>
<rect x="464.44" y="452.78" width="12.06" height="1.19" fill="#ddd4ed"/>
<rect x="464.44" y="453.77" width="12.06" height="1.19" fill="#dad0ec"/>
<rect x="464.44" y="454.77" width="12.06" height="1.19" fill="#e78a91"/>
<rect x="464.44" y="455.76" width="12.06" height="1.19" fill="#f6ecf2"/>
<rect x="464.44" y="456.76" width="12.06" height="2.19" fill="#ec9da3"/>
<rect x="464.44" y="458.74" width="12.06" height="1.19" fill="#dbd1ec"/>
<rect x="464.44" y="459.74" width="12.06" height="2.19" fill="#f5d6dc"/>
<rect x="464.44" y="461.72" width="12.06" height="2.19" fill="#f5dce1"/>
<rect x="464.44" y="463.71" width="12.06" height="1.19" fill="#efacb1"/>
<rect x="464.44" y="464.71" width="12.06" height="1.19" fill="#e9e1f1"/>
<rect x="464.44" y="465.70" width="12.06" height="1.19" fill="#eae2f2"/>
<rect x="464.44" y="466.69" width="12.06" height="1.19" fill="#f4ccd2"/>
<rect x="464.44" y="467.69" width="12.06" height="1.19" fill="#d8ceeb"/>
<rect x="464.44" y="468.68" width="12.06" height="1.19" fill="#ac9ddb"/>
<rect x="464.44" y="469.67" width="12.06" height="2.19" fill="#675dc3"/>
<rect x="464.44" y="471.66" width="12.06" height="1.19" fill="#f3c9ce"/>
<rect x="464.44" y="472.66" width="12.06" height="1.19" fill="#f3c2c8"/>
<rect x="464.44" y="473.65" width="12.06" height="1.19" fill="#f3c3c8"/>
<rect x="464.44" y="474.64" width="12.06" height="1.19" fill="#f5dee4"/>
<rect x="464.44" y="475.64" width="12.06" height="1.19" fill="#f4d2d7"/>
<rect x="464.44" y="476.63" width="12.06" height="1.19" fill="#ded5ed"/>
<rect x="464.44" y="477.62" width="12.06" height="2.19" fill="#f0e9f4"/>
<rect x="464.44" y="479.61" width="12.06" height="1.19" fill="#dbd0ec"/>
<rect x="464.44" y="480.61" width="12.06" height="1.19" fill="#9284d2"/>
</g>
<line x1="405.12" y1="193.4" x2="405.12" y2="481.6" stroke="#333" stroke-width="0.8"/>
<line x1="428.85" y1="193.4" x2="428.85" y2="481.6" stroke="#333" stroke-width="0.8"/>
<line x1="452.57" y1="193.4" x2="452.57" y2="481.6" stroke="#333" stroke-width="0.8"/>
<rect x="381.4" y="193.4" width="94.90" height="288.20" fill="none" stroke="#555" stroke-width="0.8"/>
<rect x="373.9" y="194.1" width="4.1" height="123.30" fill="#009e73"/>
<rect x="373.9" y="317.4" width="4.1" height="39.00" fill="#cc79a7"/>
<rect x="373.9" y="356.4" width="4.1" height="50.50" fill="#0072b2"/>
<rect x="373.9" y="406.9" width="4.1" height="75.70" fill="#e69f00"/>
<text transform="translate(370.9,256.3) rotate(-90)" font-size="6.5" font-weight="bold" text-anchor="middle" fill="#111">CMS Type 4</text>
<text transform="translate(370.9,336.9) rotate(-90)" font-size="6.5" font-weight="bold" text-anchor="middle" fill="#111">CMS Type 3</text>
<text transform="translate(370.9,381.6) rotate(-90)" font-size="6.5" font-weight="bold" text-anchor="middle" fill="#111">CMS Type 2</text>
<text transform="translate(370.9,444.7) rotate(-90)" font-size="6.5" font-weight="bold" text-anchor="middle" fill="#111">CMS Type 1</text>
<rect x="381.40" y="484.1" width="11.86" height="7.50" fill="#e69f00"/>
<text x="387.33" y="490.00" font-size="6" font-weight="bold" text-anchor="middle" fill="#111">1</text>
<rect x="393.26" y="484.1" width="11.86" height="7.50" fill="#ffffff"/>
<rect x="393.26" y="484.1" width="11.86" height="2.6" fill="#e69f00"/>
<text x="399.19" y="490.00" font-size="6" font-weight="bold" text-anchor="middle" fill="#111">1</text>
<rect x="405.12" y="484.1" width="11.86" height="7.50" fill="#cc79a7"/>
<text x="411.06" y="490.00" font-size="6" font-weight="bold" text-anchor="middle" fill="#111">3</text>
<rect x="416.99" y="484.1" width="11.86" height="7.50" fill="#f4f4f4"/>
<text x="422.92" y="490.00" font-size="6" font-weight="bold" text-anchor="middle" fill="#111">NA</text>
<rect x="428.85" y="484.1" width="11.86" height="7.50" fill="#009e73"/>
<text x="434.78" y="490.00" font-size="6" font-weight="bold" text-anchor="middle" fill="#111">4</text>
<rect x="440.71" y="484.1" width="11.86" height="7.50" fill="#009e73"/>
<text x="446.64" y="490.00" font-size="6" font-weight="bold" text-anchor="middle" fill="#111">4</text>
<rect x="452.57" y="484.1" width="11.86" height="7.50" fill="#009e73"/>
<text x="458.51" y="490.00" font-size="6" font-weight="bold" text-anchor="middle" fill="#111">4</text>
<rect x="464.44" y="484.1" width="11.86" height="7.50" fill="#009e73"/>
<text x="470.37" y="490.00" font-size="6" font-weight="bold" text-anchor="middle" fill="#111">4</text>
<line x1="405.12" y1="484.1" x2="405.12" y2="491.6" stroke="#333" stroke-width="0.6"/>
<line x1="428.85" y1="484.1" x2="428.85" y2="491.6" stroke="#333" stroke-width="0.6"/>
<line x1="452.57" y1="484.1" x2="452.57" y2="491.6" stroke="#333" stroke-width="0.6"/>
<rect x="381.4" y="484.1" width="94.90" height="7.50" fill="none" stroke="#333" stroke-width="0.6"/>
<text x="379" y="490" font-size="6.4" font-weight="bold" text-anchor="end" fill="#111">CMS prediction</text>
<g font-size="6.8" fill="#222" text-anchor="end">
<text transform="translate(389.83,493.6) rotate(-90)">SNU-4631AS4-TO</text>
<text transform="translate(401.69,493.6) rotate(-90)">SNU-4631AS4-TO_G0</text>
<text transform="translate(413.56,493.6) rotate(-90)">SNU-4146S1-TO</text>
<text transform="translate(425.42,493.6) rotate(-90)">SNU-4146S1-TO_G0</text>
<text transform="translate(437.28,493.6) rotate(-90)">SNU-4139S3-TO</text>
<text transform="translate(449.14,493.6) rotate(-90)">SNU-4139S3-TO_G0</text>
<text transform="translate(461.01,493.6) rotate(-90)">SNU-4713S3-TO</text>
<text transform="translate(472.87,493.6) rotate(-90)">SNU-4713S3-TO_G0</text>
</g>
<text x="316" y="197.3" font-size="13.5" font-weight="bold">d</text>
<g shape-rendering="crispEdges">
<rect x="554.50" y="191.10" width="23.93" height="24.44" fill="#f8e8e8"/>
<rect x="578.12" y="191.10" width="23.93" height="24.44" fill="#f2f2f8"/>
<rect x="601.75" y="191.10" width="23.93" height="24.44" fill="#fcf6f4"/>
<rect x="625.38" y="191.10" width="23.93" height="24.44" fill="#e8e8f2"/>
<rect x="554.50" y="215.24" width="23.93" height="24.44" fill="#f4d4d4"/>
<rect x="578.12" y="215.24" width="23.93" height="24.44" fill="#f8e8e8"/>
<rect x="601.75" y="215.24" width="23.93" height="24.44" fill="#dcdcec"/>
<rect x="625.38" y="215.24" width="23.93" height="24.44" fill="#fcf8f6"/>
<rect x="554.50" y="239.39" width="23.93" height="24.44" fill="#dcdcec"/>
<rect x="578.12" y="239.39" width="23.93" height="24.44" fill="#e8e8f2"/>
<rect x="601.75" y="239.39" width="23.93" height="24.44" fill="#f2cccc"/>
<rect x="625.38" y="239.39" width="23.93" height="24.44" fill="#e8e8f2"/>
<rect x="554.50" y="263.53" width="23.93" height="24.44" fill="#bcbcde"/>
<rect x="578.12" y="263.53" width="23.93" height="24.44" fill="#f8e8e8"/>
<rect x="601.75" y="263.53" width="23.93" height="24.44" fill="#f4d4d4"/>
<rect x="625.38" y="263.53" width="23.93" height="24.44" fill="#f8ecec"/>
<rect x="554.50" y="287.67" width="23.93" height="24.44" fill="#f8e8e8"/>
<rect x="578.12" y="287.67" width="23.93" height="24.44" fill="#e89898"/>
<rect x="601.75" y="287.67" width="23.93" height="24.44" fill="#9c9cd2"/>
<rect x="625.38" y="287.67" width="23.93" height="24.44" fill="#fcf6f4"/>
<rect x="554.50" y="311.81" width="23.93" height="24.44" fill="#f8e8e8"/>
<rect x="578.12" y="311.81" width="23.93" height="24.44" fill="#e8e8f2"/>
<rect x="601.75" y="311.81" width="23.93" height="24.44" fill="#e8e8f2"/>
<rect x="625.38" y="311.81" width="23.93" height="24.44" fill="#f4e0e0"/>
<rect x="554.50" y="335.96" width="23.93" height="24.44" fill="#e8a0a0"/>
<rect x="578.12" y="335.96" width="23.93" height="24.44" fill="#f0c0c0"/>
<rect x="601.75" y="335.96" width="23.93" height="24.44" fill="#e0e0ee"/>
<rect x="625.38" y="335.96" width="23.93" height="24.44" fill="#9090c8"/>
<rect x="554.50" y="360.10" width="23.93" height="24.44" fill="#f4d4d4"/>
<rect x="578.12" y="360.10" width="23.93" height="24.44" fill="#b0b0d8"/>
<rect x="601.75" y="360.10" width="23.93" height="24.44" fill="#ecacac"/>
<rect x="625.38" y="360.10" width="23.93" height="24.44" fill="#c0c0e0"/>
<rect x="554.50" y="384.24" width="23.93" height="24.44" fill="#f6e6e6"/>
<rect x="578.12" y="384.24" width="23.93" height="24.44" fill="#e8e8f2"/>
<rect x="601.75" y="384.24" width="23.93" height="24.44" fill="#e8e8f2"/>
<rect x="625.38" y="384.24" width="23.93" height="24.44" fill="#faeeee"/>
<rect x="554.50" y="408.39" width="23.93" height="24.44" fill="#f6e6e6"/>
<rect x="578.12" y="408.39" width="23.93" height="24.44" fill="#e8e8f2"/>
<rect x="601.75" y="408.39" width="23.93" height="24.44" fill="#faeeee"/>
<rect x="625.38" y="408.39" width="23.93" height="24.44" fill="#dcdcec"/>
<rect x="554.50" y="432.53" width="23.93" height="24.44" fill="#f0c8c8"/>
<rect x="578.12" y="432.53" width="23.93" height="24.44" fill="#bcbcde"/>
<rect x="601.75" y="432.53" width="23.93" height="24.44" fill="#faeeee"/>
<rect x="625.38" y="432.53" width="23.93" height="24.44" fill="#dcdcec"/>
<rect x="554.50" y="456.67" width="23.93" height="24.44" fill="#e8e8f2"/>
<rect x="578.12" y="456.67" width="23.93" height="24.44" fill="#faeeee"/>
<rect x="601.75" y="456.67" width="23.93" height="24.44" fill="#faeeee"/>
<rect x="625.38" y="456.67" width="23.93" height="24.44" fill="#f4d4d4"/>
<rect x="554.50" y="480.81" width="23.93" height="24.44" fill="#e8e8f2"/>
<rect x="578.12" y="480.81" width="23.93" height="24.44" fill="#cccce6"/>
<rect x="601.75" y="480.81" width="23.93" height="24.44" fill="#faeeee"/>
<rect x="625.38" y="480.81" width="23.93" height="24.44" fill="#eebaba"/>
<rect x="554.50" y="504.96" width="23.93" height="24.44" fill="#f4f4f8"/>
<rect x="578.12" y="504.96" width="23.93" height="24.44" fill="#a4a4d2"/>
<rect x="601.75" y="504.96" width="23.93" height="24.44" fill="#faeeee"/>
<rect x="625.38" y="504.96" width="23.93" height="24.44" fill="#eebaba"/>
</g>
<rect x="554.5" y="191.1" width="94.50" height="338.00" fill="none" stroke="#777" stroke-width="0.65"/>
<text x="550.5" y="206.67" font-size="7.5" font-weight="bold" text-anchor="end" fill="#111">MSI</text>
<text x="550.5" y="230.81" font-size="7.5" font-weight="bold" text-anchor="end" fill="#111">DNA repair</text>
<text x="550.5" y="254.96" font-size="7.5" font-weight="bold" text-anchor="end" fill="#111">HNF4A</text>
<text x="550.5" y="279.10" font-size="7.5" font-weight="bold" text-anchor="end" fill="#111">MSS</text>
<text x="550.5" y="303.24" font-size="7.5" font-weight="bold" text-anchor="end" fill="#111">MYC</text>
<text x="550.5" y="327.39" font-size="7.5" font-weight="bold" text-anchor="end" fill="#111">WNT</text>
<text x="550.5" y="351.53" font-size="7.5" font-weight="bold" text-anchor="end" fill="#111">Cell cycle</text>
<text x="550.5" y="375.67" font-size="7.5" font-weight="bold" text-anchor="end" fill="#111">Differentiation</text>
<text x="550.5" y="399.81" font-size="7.5" font-weight="bold" text-anchor="end" fill="#111">Glycolysis</text>
<text x="550.5" y="423.96" font-size="7.5" font-weight="bold" text-anchor="end" fill="#111">Fatty acids</text>
<text x="550.5" y="448.10" font-size="7.5" font-weight="bold" text-anchor="end" fill="#111">CDX2</text>
<text x="550.5" y="472.24" font-size="7.5" font-weight="bold" text-anchor="end" fill="#111">LGR5 stem cells</text>
<text x="550.5" y="496.39" font-size="7.5" font-weight="bold" text-anchor="end" fill="#111">TGF-β</text>
<text x="550.5" y="520.53" font-size="7.5" font-weight="bold" text-anchor="end" fill="#111">EMT</text>
<rect x="554.40" y="337.0" width="95.80" height="22.2" fill="none" stroke="#000" stroke-width="1.75"/>
<rect x="554.40" y="360.4" width="95.80" height="23.3" fill="none" stroke="#000" stroke-width="1.75"/>
<rect x="578.12" y="287.67" width="47.25" height="24.14" fill="none" stroke="#6a2ca0" stroke-width="1.6"/>
<rect x="578.12" y="504.96" width="47.25" height="24.14" fill="none" stroke="#6a2ca0" stroke-width="1.6"/>
<rect x="554.50" y="530.2" width="23.62" height="9.1" fill="#e69f00"/>
<rect x="578.12" y="530.2" width="23.62" height="9.1" fill="#0072b2"/>
<rect x="601.75" y="530.2" width="23.62" height="9.1" fill="#cc79a7"/>
<rect x="625.38" y="530.2" width="23.62" height="9.1" fill="#009e73"/>
<rect x="554.5" y="530.2" width="94.50" height="9.1" fill="none" stroke="#333" stroke-width="0.6"/>
<text transform="translate(568.81,542) rotate(-90)" font-size="7.2" font-weight="bold" text-anchor="end" fill="#111">CMS1</text>
<text transform="translate(592.44,542) rotate(-90)" font-size="7.2" font-weight="bold" text-anchor="end" fill="#111">CMS2</text>
<text transform="translate(616.06,542) rotate(-90)" font-size="7.2" font-weight="bold" text-anchor="end" fill="#111">CMS3</text>
<text transform="translate(639.69,542) rotate(-90)" font-size="7.2" font-weight="bold" text-anchor="end" fill="#111">CMS4</text>
<defs><linearGradient id="ge" x1="0" y1="0" x2="0" y2="1"><stop offset="0" stop-color="#c0202c"/><stop offset="0.25" stop-color="#e88c8c"/><stop offset="0.5" stop-color="#f8f8f8"/><stop offset="0.75" stop-color="#8888c4"/><stop offset="1" stop-color="#10108a"/></linearGradient></defs>
<rect x="659.5" y="335.6" width="10.2" height="48.4" fill="url(#ge)"/>
<text x="671.7" y="338.40000000000003" font-size="6.4" fill="#333">10</text>
<text x="671.7" y="361.7" font-size="6.4" fill="#333">0</text>
<text x="671.7" y="386.0" font-size="6.4" fill="#333">-10</text>
<text x="502" y="198.5" font-size="14" font-weight="bold">e</text>
</svg></body></html>
